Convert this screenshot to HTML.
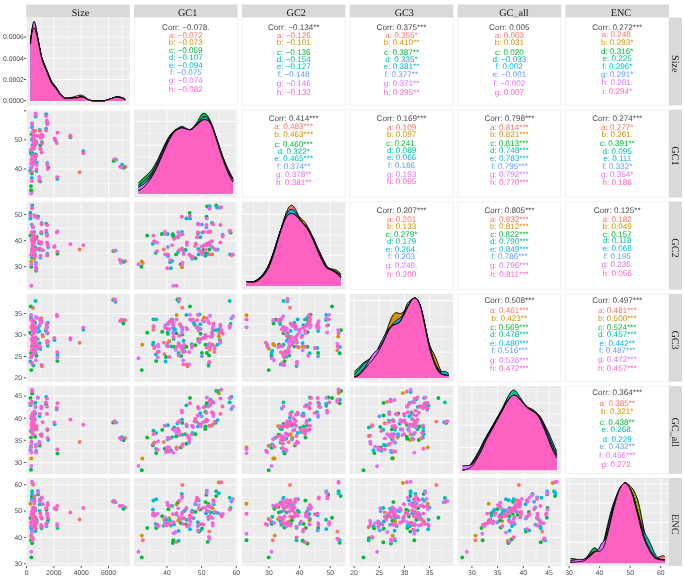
<!DOCTYPE html><html><head><meta charset="utf-8"><title>ggpairs</title><style>html,body{margin:0;padding:0;background:#fff}svg{display:block;will-change:transform}
text{font-family:"Liberation Sans",sans-serif;text-rendering:geometricPrecision}
.st{font-family:"Liberation Serif",serif;font-size:10.2px;fill:#1a1a1a}
.ax{font-size:6.8px;fill:#4d4d4d}
.ct{font-size:8.1px}</style></head><body><svg width="685" height="577" viewBox="0 0 685 577">
<rect width="685" height="577" fill="#fff"/>
<defs>
<clipPath id="cp00"><rect x="26.15" y="17.50" width="103.65" height="87.9"/></clipPath>
<clipPath id="cp01"><rect x="134.00" y="17.50" width="103.65" height="87.9"/></clipPath>
<clipPath id="cp02"><rect x="241.85" y="17.50" width="103.65" height="87.9"/></clipPath>
<clipPath id="cp03"><rect x="349.70" y="17.50" width="103.65" height="87.9"/></clipPath>
<clipPath id="cp04"><rect x="457.55" y="17.50" width="103.65" height="87.9"/></clipPath>
<clipPath id="cp05"><rect x="565.40" y="17.50" width="103.65" height="87.9"/></clipPath>
<clipPath id="cp10"><rect x="26.15" y="109.60" width="103.65" height="87.9"/></clipPath>
<clipPath id="cp11"><rect x="134.00" y="109.60" width="103.65" height="87.9"/></clipPath>
<clipPath id="cp12"><rect x="241.85" y="109.60" width="103.65" height="87.9"/></clipPath>
<clipPath id="cp13"><rect x="349.70" y="109.60" width="103.65" height="87.9"/></clipPath>
<clipPath id="cp14"><rect x="457.55" y="109.60" width="103.65" height="87.9"/></clipPath>
<clipPath id="cp15"><rect x="565.40" y="109.60" width="103.65" height="87.9"/></clipPath>
<clipPath id="cp20"><rect x="26.15" y="201.70" width="103.65" height="87.9"/></clipPath>
<clipPath id="cp21"><rect x="134.00" y="201.70" width="103.65" height="87.9"/></clipPath>
<clipPath id="cp22"><rect x="241.85" y="201.70" width="103.65" height="87.9"/></clipPath>
<clipPath id="cp23"><rect x="349.70" y="201.70" width="103.65" height="87.9"/></clipPath>
<clipPath id="cp24"><rect x="457.55" y="201.70" width="103.65" height="87.9"/></clipPath>
<clipPath id="cp25"><rect x="565.40" y="201.70" width="103.65" height="87.9"/></clipPath>
<clipPath id="cp30"><rect x="26.15" y="293.80" width="103.65" height="87.9"/></clipPath>
<clipPath id="cp31"><rect x="134.00" y="293.80" width="103.65" height="87.9"/></clipPath>
<clipPath id="cp32"><rect x="241.85" y="293.80" width="103.65" height="87.9"/></clipPath>
<clipPath id="cp33"><rect x="349.70" y="293.80" width="103.65" height="87.9"/></clipPath>
<clipPath id="cp34"><rect x="457.55" y="293.80" width="103.65" height="87.9"/></clipPath>
<clipPath id="cp35"><rect x="565.40" y="293.80" width="103.65" height="87.9"/></clipPath>
<clipPath id="cp40"><rect x="26.15" y="385.90" width="103.65" height="87.9"/></clipPath>
<clipPath id="cp41"><rect x="134.00" y="385.90" width="103.65" height="87.9"/></clipPath>
<clipPath id="cp42"><rect x="241.85" y="385.90" width="103.65" height="87.9"/></clipPath>
<clipPath id="cp43"><rect x="349.70" y="385.90" width="103.65" height="87.9"/></clipPath>
<clipPath id="cp44"><rect x="457.55" y="385.90" width="103.65" height="87.9"/></clipPath>
<clipPath id="cp45"><rect x="565.40" y="385.90" width="103.65" height="87.9"/></clipPath>
<clipPath id="cp50"><rect x="26.15" y="478.00" width="103.65" height="87.9"/></clipPath>
<clipPath id="cp51"><rect x="134.00" y="478.00" width="103.65" height="87.9"/></clipPath>
<clipPath id="cp52"><rect x="241.85" y="478.00" width="103.65" height="87.9"/></clipPath>
<clipPath id="cp53"><rect x="349.70" y="478.00" width="103.65" height="87.9"/></clipPath>
<clipPath id="cp54"><rect x="457.55" y="478.00" width="103.65" height="87.9"/></clipPath>
<clipPath id="cp55"><rect x="565.40" y="478.00" width="103.65" height="87.9"/></clipPath>
</defs>
<rect x="26.15" y="4.5" width="103.65" height="13.00" fill="#d9d9d9"/>
<text x="80.47" y="16.2" text-anchor="middle" class="st">Size</text>
<rect x="134.00" y="4.5" width="103.65" height="13.00" fill="#d9d9d9"/>
<text x="187.62" y="16.2" text-anchor="middle" class="st">GC1</text>
<rect x="241.85" y="4.5" width="103.65" height="13.00" fill="#d9d9d9"/>
<text x="296.18" y="16.2" text-anchor="middle" class="st">GC2</text>
<rect x="349.70" y="4.5" width="103.65" height="13.00" fill="#d9d9d9"/>
<text x="404.32" y="16.2" text-anchor="middle" class="st">GC3</text>
<rect x="457.55" y="4.5" width="103.65" height="13.00" fill="#d9d9d9"/>
<text x="513.88" y="16.2" text-anchor="middle" class="st">GC_all</text>
<rect x="565.40" y="4.5" width="103.65" height="13.00" fill="#d9d9d9"/>
<text x="620.93" y="16.2" text-anchor="middle" class="st">ENC</text>
<rect x="669.05" y="17.50" width="13.0" height="87.9" fill="#d9d9d9"/>
<text transform="translate(672.25,63.75) rotate(90)" text-anchor="middle" class="st">Size</text>
<rect x="669.05" y="109.60" width="13.0" height="87.9" fill="#d9d9d9"/>
<text transform="translate(672.25,155.85) rotate(90)" text-anchor="middle" class="st">GC1</text>
<rect x="669.05" y="201.70" width="13.0" height="87.9" fill="#d9d9d9"/>
<text transform="translate(672.25,247.95) rotate(90)" text-anchor="middle" class="st">GC2</text>
<rect x="669.05" y="293.80" width="13.0" height="87.9" fill="#d9d9d9"/>
<text transform="translate(672.25,340.05) rotate(90)" text-anchor="middle" class="st">GC3</text>
<rect x="669.05" y="385.90" width="13.0" height="87.9" fill="#d9d9d9"/>
<text transform="translate(672.25,432.15) rotate(90)" text-anchor="middle" class="st">GC_all</text>
<rect x="669.05" y="478.00" width="13.0" height="87.9" fill="#d9d9d9"/>
<text transform="translate(672.25,524.25) rotate(90)" text-anchor="middle" class="st">ENC</text>
<rect x="26.15" y="17.50" width="103.65" height="87.9" fill="#ebebeb"/>
<path d="M40.25 17.50V105.40M67.55 17.50V105.40M94.85 17.50V105.40M122.15 17.50V105.40M26.15 26.75H129.80M26.15 47.68H129.80M26.15 68.77H129.80M26.15 90.03H129.80" stroke="#f8f8f8" stroke-width="0.7" fill="none"/>
<path d="M26.60 17.50V105.40M53.90 17.50V105.40M81.20 17.50V105.40M108.50 17.50V105.40M26.15 37.22H129.80M26.15 58.15H129.80M26.15 79.40H129.80M26.15 100.66H129.80" stroke="#fcfcfc" stroke-width="1.05" fill="none"/>
<rect x="134.30" y="17.80" width="103.05" height="87.30" fill="#fff" stroke="#ececec" stroke-width="0.7"/>
<rect x="242.15" y="17.80" width="103.05" height="87.30" fill="#fff" stroke="#ececec" stroke-width="0.7"/>
<rect x="350.00" y="17.80" width="103.05" height="87.30" fill="#fff" stroke="#ececec" stroke-width="0.7"/>
<rect x="457.85" y="17.80" width="103.05" height="87.30" fill="#fff" stroke="#ececec" stroke-width="0.7"/>
<rect x="565.70" y="17.80" width="103.05" height="87.30" fill="#fff" stroke="#ececec" stroke-width="0.7"/>
<rect x="26.15" y="109.60" width="103.65" height="87.9" fill="#ebebeb"/>
<path d="M40.25 109.60V197.50M67.55 109.60V197.50M94.85 109.60V197.50M122.15 109.60V197.50M26.15 183.55H129.80M26.15 154.45H129.80M26.15 125.35H129.80" stroke="#f8f8f8" stroke-width="0.7" fill="none"/>
<path d="M26.60 109.60V197.50M53.90 109.60V197.50M81.20 109.60V197.50M108.50 109.60V197.50M26.15 169.00H129.80M26.15 139.90H129.80M26.15 110.80H129.80" stroke="#fcfcfc" stroke-width="1.05" fill="none"/>
<rect x="134.00" y="109.60" width="103.65" height="87.9" fill="#ebebeb"/>
<path d="M149.68 109.60V197.50M184.32 109.60V197.50M218.97 109.60V197.50M134.00 133.31H237.65M134.00 157.01H237.65M134.00 180.72H237.65" stroke="#f8f8f8" stroke-width="0.7" fill="none"/>
<path d="M167.00 109.60V197.50M201.65 109.60V197.50M236.30 109.60V197.50M134.00 121.53H237.65M134.00 145.24H237.65M134.00 168.95H237.65M134.00 192.66H237.65" stroke="#fcfcfc" stroke-width="1.05" fill="none"/>
<rect x="242.15" y="109.90" width="103.05" height="87.30" fill="#fff" stroke="#ececec" stroke-width="0.7"/>
<rect x="350.00" y="109.90" width="103.05" height="87.30" fill="#fff" stroke="#ececec" stroke-width="0.7"/>
<rect x="457.85" y="109.90" width="103.05" height="87.30" fill="#fff" stroke="#ececec" stroke-width="0.7"/>
<rect x="565.70" y="109.90" width="103.05" height="87.30" fill="#fff" stroke="#ececec" stroke-width="0.7"/>
<rect x="26.15" y="201.70" width="103.65" height="87.9" fill="#ebebeb"/>
<path d="M40.25 201.70V289.60M67.55 201.70V289.60M94.85 201.70V289.60M122.15 201.70V289.60M26.15 279.73H129.80M26.15 253.67H129.80M26.15 227.62H129.80" stroke="#f8f8f8" stroke-width="0.7" fill="none"/>
<path d="M26.60 201.70V289.60M53.90 201.70V289.60M81.20 201.70V289.60M108.50 201.70V289.60M26.15 266.70H129.80M26.15 240.65H129.80M26.15 214.60H129.80" stroke="#fcfcfc" stroke-width="1.05" fill="none"/>
<rect x="134.00" y="201.70" width="103.65" height="87.9" fill="#ebebeb"/>
<path d="M149.68 201.70V289.60M184.32 201.70V289.60M218.97 201.70V289.60M134.00 279.73H237.65M134.00 253.67H237.65M134.00 227.62H237.65" stroke="#f8f8f8" stroke-width="0.7" fill="none"/>
<path d="M167.00 201.70V289.60M201.65 201.70V289.60M236.30 201.70V289.60M134.00 266.70H237.65M134.00 240.65H237.65M134.00 214.60H237.65" stroke="#fcfcfc" stroke-width="1.05" fill="none"/>
<rect x="241.85" y="201.70" width="103.65" height="87.9" fill="#ebebeb"/>
<path d="M253.57 201.70V289.60M284.22 201.70V289.60M314.87 201.70V289.60M241.85 224.98H345.50M241.85 245.42H345.50M241.85 265.04H345.50M241.85 285.48H345.50" stroke="#f8f8f8" stroke-width="0.7" fill="none"/>
<path d="M268.90 201.70V289.60M299.55 201.70V289.60M330.20 201.70V289.60M241.85 214.35H345.50M241.85 234.79H345.50M241.85 255.23H345.50M241.85 275.67H345.50" stroke="#fcfcfc" stroke-width="1.05" fill="none"/>
<rect x="350.00" y="202.00" width="103.05" height="87.30" fill="#fff" stroke="#ececec" stroke-width="0.7"/>
<rect x="457.85" y="202.00" width="103.05" height="87.30" fill="#fff" stroke="#ececec" stroke-width="0.7"/>
<rect x="565.70" y="202.00" width="103.05" height="87.30" fill="#fff" stroke="#ececec" stroke-width="0.7"/>
<rect x="26.15" y="293.80" width="103.65" height="87.9" fill="#ebebeb"/>
<path d="M40.25 293.80V381.70M67.55 293.80V381.70M94.85 293.80V381.70M122.15 293.80V381.70M26.15 367.17H129.80M26.15 345.72H129.80M26.15 324.27H129.80M26.15 302.82H129.80" stroke="#f8f8f8" stroke-width="0.7" fill="none"/>
<path d="M26.60 293.80V381.70M53.90 293.80V381.70M81.20 293.80V381.70M108.50 293.80V381.70M26.15 377.90H129.80M26.15 356.45H129.80M26.15 335.00H129.80M26.15 313.55H129.80" stroke="#fcfcfc" stroke-width="1.05" fill="none"/>
<rect x="134.00" y="293.80" width="103.65" height="87.9" fill="#ebebeb"/>
<path d="M149.68 293.80V381.70M184.32 293.80V381.70M218.97 293.80V381.70M134.00 367.17H237.65M134.00 345.72H237.65M134.00 324.27H237.65M134.00 302.82H237.65" stroke="#f8f8f8" stroke-width="0.7" fill="none"/>
<path d="M167.00 293.80V381.70M201.65 293.80V381.70M236.30 293.80V381.70M134.00 377.90H237.65M134.00 356.45H237.65M134.00 335.00H237.65M134.00 313.55H237.65" stroke="#fcfcfc" stroke-width="1.05" fill="none"/>
<rect x="241.85" y="293.80" width="103.65" height="87.9" fill="#ebebeb"/>
<path d="M253.57 293.80V381.70M284.22 293.80V381.70M314.87 293.80V381.70M241.85 367.17H345.50M241.85 345.72H345.50M241.85 324.27H345.50M241.85 302.82H345.50" stroke="#f8f8f8" stroke-width="0.7" fill="none"/>
<path d="M268.90 293.80V381.70M299.55 293.80V381.70M330.20 293.80V381.70M241.85 377.90H345.50M241.85 356.45H345.50M241.85 335.00H345.50M241.85 313.55H345.50" stroke="#fcfcfc" stroke-width="1.05" fill="none"/>
<rect x="349.70" y="293.80" width="103.65" height="87.9" fill="#ebebeb"/>
<path d="M366.68 293.80V381.70M391.85 293.80V381.70M417.01 293.80V381.70M442.18 293.80V381.70M349.70 313.71H453.35M349.70 339.05H453.35M349.70 365.21H453.35" stroke="#f8f8f8" stroke-width="0.7" fill="none"/>
<path d="M354.10 293.80V381.70M379.27 293.80V381.70M404.43 293.80V381.70M429.60 293.80V381.70M349.70 300.63H453.35M349.70 326.79H453.35M349.70 352.13H453.35M349.70 377.48H453.35" stroke="#fcfcfc" stroke-width="1.05" fill="none"/>
<rect x="457.85" y="294.10" width="103.05" height="87.30" fill="#fff" stroke="#ececec" stroke-width="0.7"/>
<rect x="565.70" y="294.10" width="103.05" height="87.30" fill="#fff" stroke="#ececec" stroke-width="0.7"/>
<rect x="26.15" y="385.90" width="103.65" height="87.9" fill="#ebebeb"/>
<path d="M40.25 385.90V473.80M67.55 385.90V473.80M94.85 385.90V473.80M122.15 385.90V473.80M26.15 451.35H129.80M26.15 429.25H129.80M26.15 407.15H129.80" stroke="#f8f8f8" stroke-width="0.7" fill="none"/>
<path d="M26.60 385.90V473.80M53.90 385.90V473.80M81.20 385.90V473.80M108.50 385.90V473.80M26.15 462.40H129.80M26.15 440.30H129.80M26.15 418.20H129.80M26.15 396.10H129.80" stroke="#fcfcfc" stroke-width="1.05" fill="none"/>
<rect x="134.00" y="385.90" width="103.65" height="87.9" fill="#ebebeb"/>
<path d="M149.68 385.90V473.80M184.32 385.90V473.80M218.97 385.90V473.80M134.00 451.35H237.65M134.00 429.25H237.65M134.00 407.15H237.65" stroke="#f8f8f8" stroke-width="0.7" fill="none"/>
<path d="M167.00 385.90V473.80M201.65 385.90V473.80M236.30 385.90V473.80M134.00 462.40H237.65M134.00 440.30H237.65M134.00 418.20H237.65M134.00 396.10H237.65" stroke="#fcfcfc" stroke-width="1.05" fill="none"/>
<rect x="241.85" y="385.90" width="103.65" height="87.9" fill="#ebebeb"/>
<path d="M253.57 385.90V473.80M284.22 385.90V473.80M314.87 385.90V473.80M241.85 451.35H345.50M241.85 429.25H345.50M241.85 407.15H345.50" stroke="#f8f8f8" stroke-width="0.7" fill="none"/>
<path d="M268.90 385.90V473.80M299.55 385.90V473.80M330.20 385.90V473.80M241.85 462.40H345.50M241.85 440.30H345.50M241.85 418.20H345.50M241.85 396.10H345.50" stroke="#fcfcfc" stroke-width="1.05" fill="none"/>
<rect x="349.70" y="385.90" width="103.65" height="87.9" fill="#ebebeb"/>
<path d="M366.68 385.90V473.80M391.85 385.90V473.80M417.01 385.90V473.80M442.18 385.90V473.80M349.70 451.35H453.35M349.70 429.25H453.35M349.70 407.15H453.35" stroke="#f8f8f8" stroke-width="0.7" fill="none"/>
<path d="M354.10 385.90V473.80M379.27 385.90V473.80M404.43 385.90V473.80M429.60 385.90V473.80M349.70 462.40H453.35M349.70 440.30H453.35M349.70 418.20H453.35M349.70 396.10H453.35" stroke="#fcfcfc" stroke-width="1.05" fill="none"/>
<rect x="457.55" y="385.90" width="103.65" height="87.9" fill="#ebebeb"/>
<path d="M459.05 385.90V473.80M484.75 385.90V473.80M510.45 385.90V473.80M536.15 385.90V473.80M457.55 391.81H561.20M457.55 413.88H561.20M457.55 436.45H561.20M457.55 458.85H561.20" stroke="#f8f8f8" stroke-width="0.7" fill="none"/>
<path d="M471.90 385.90V473.80M497.60 385.90V473.80M523.30 385.90V473.80M549.00 385.90V473.80M457.55 402.93H561.20M457.55 425.33H561.20M457.55 447.40H561.20M457.55 469.97H561.20" stroke="#fcfcfc" stroke-width="1.05" fill="none"/>
<rect x="565.70" y="386.20" width="103.05" height="87.30" fill="#fff" stroke="#ececec" stroke-width="0.7"/>
<rect x="26.15" y="478.00" width="103.65" height="87.9" fill="#ebebeb"/>
<path d="M40.25 478.00V565.90M67.55 478.00V565.90M94.85 478.00V565.90M122.15 478.00V565.90M26.15 550.54H129.80M26.15 524.21H129.80M26.15 497.88H129.80" stroke="#f8f8f8" stroke-width="0.7" fill="none"/>
<path d="M26.60 478.00V565.90M53.90 478.00V565.90M81.20 478.00V565.90M108.50 478.00V565.90M26.15 563.70H129.80M26.15 537.37H129.80M26.15 511.04H129.80M26.15 484.71H129.80" stroke="#fcfcfc" stroke-width="1.05" fill="none"/>
<rect x="134.00" y="478.00" width="103.65" height="87.9" fill="#ebebeb"/>
<path d="M149.68 478.00V565.90M184.32 478.00V565.90M218.97 478.00V565.90M134.00 550.54H237.65M134.00 524.21H237.65M134.00 497.88H237.65" stroke="#f8f8f8" stroke-width="0.7" fill="none"/>
<path d="M167.00 478.00V565.90M201.65 478.00V565.90M236.30 478.00V565.90M134.00 563.70H237.65M134.00 537.37H237.65M134.00 511.04H237.65M134.00 484.71H237.65" stroke="#fcfcfc" stroke-width="1.05" fill="none"/>
<rect x="241.85" y="478.00" width="103.65" height="87.9" fill="#ebebeb"/>
<path d="M253.57 478.00V565.90M284.22 478.00V565.90M314.87 478.00V565.90M241.85 550.54H345.50M241.85 524.21H345.50M241.85 497.88H345.50" stroke="#f8f8f8" stroke-width="0.7" fill="none"/>
<path d="M268.90 478.00V565.90M299.55 478.00V565.90M330.20 478.00V565.90M241.85 563.70H345.50M241.85 537.37H345.50M241.85 511.04H345.50M241.85 484.71H345.50" stroke="#fcfcfc" stroke-width="1.05" fill="none"/>
<rect x="349.70" y="478.00" width="103.65" height="87.9" fill="#ebebeb"/>
<path d="M366.68 478.00V565.90M391.85 478.00V565.90M417.01 478.00V565.90M442.18 478.00V565.90M349.70 550.54H453.35M349.70 524.21H453.35M349.70 497.88H453.35" stroke="#f8f8f8" stroke-width="0.7" fill="none"/>
<path d="M354.10 478.00V565.90M379.27 478.00V565.90M404.43 478.00V565.90M429.60 478.00V565.90M349.70 563.70H453.35M349.70 537.37H453.35M349.70 511.04H453.35M349.70 484.71H453.35" stroke="#fcfcfc" stroke-width="1.05" fill="none"/>
<rect x="457.55" y="478.00" width="103.65" height="87.9" fill="#ebebeb"/>
<path d="M459.05 478.00V565.90M484.75 478.00V565.90M510.45 478.00V565.90M536.15 478.00V565.90M457.55 550.54H561.20M457.55 524.21H561.20M457.55 497.88H561.20" stroke="#f8f8f8" stroke-width="0.7" fill="none"/>
<path d="M471.90 478.00V565.90M497.60 478.00V565.90M523.30 478.00V565.90M549.00 478.00V565.90M457.55 563.70H561.20M457.55 537.37H561.20M457.55 511.04H561.20M457.55 484.71H561.20" stroke="#fcfcfc" stroke-width="1.05" fill="none"/>
<rect x="565.40" y="478.00" width="103.65" height="87.9" fill="#ebebeb"/>
<path d="M584.37 478.00V565.90M614.89 478.00V565.90M645.42 478.00V565.90M565.40 493.29H669.05M565.40 512.75H669.05M565.40 532.37H669.05M565.40 552.16H669.05" stroke="#f8f8f8" stroke-width="0.7" fill="none"/>
<path d="M569.10 478.00V565.90M599.63 478.00V565.90M630.16 478.00V565.90M660.69 478.00V565.90M565.40 483.81H669.05M565.40 502.94H669.05M565.40 522.56H669.05M565.40 542.35H669.05M565.40 562.29H669.05" stroke="#fcfcfc" stroke-width="1.05" fill="none"/>
<text x="26.60" y="574.9" text-anchor="middle" class="ax">0</text>
<text x="53.90" y="574.9" text-anchor="middle" class="ax">2000</text>
<text x="81.20" y="574.9" text-anchor="middle" class="ax">4000</text>
<text x="108.50" y="574.9" text-anchor="middle" class="ax">6000</text>
<text x="167.00" y="574.9" text-anchor="middle" class="ax">40</text>
<text x="201.65" y="574.9" text-anchor="middle" class="ax">50</text>
<text x="236.30" y="574.9" text-anchor="middle" class="ax">60</text>
<text x="268.90" y="574.9" text-anchor="middle" class="ax">30</text>
<text x="299.55" y="574.9" text-anchor="middle" class="ax">40</text>
<text x="330.20" y="574.9" text-anchor="middle" class="ax">50</text>
<text x="354.10" y="574.9" text-anchor="middle" class="ax">20</text>
<text x="379.27" y="574.9" text-anchor="middle" class="ax">25</text>
<text x="404.43" y="574.9" text-anchor="middle" class="ax">30</text>
<text x="429.60" y="574.9" text-anchor="middle" class="ax">35</text>
<text x="471.90" y="574.9" text-anchor="middle" class="ax">30</text>
<text x="497.60" y="574.9" text-anchor="middle" class="ax">35</text>
<text x="523.30" y="574.9" text-anchor="middle" class="ax">40</text>
<text x="549.00" y="574.9" text-anchor="middle" class="ax">45</text>
<text x="569.10" y="574.9" text-anchor="middle" class="ax">30</text>
<text x="599.63" y="574.9" text-anchor="middle" class="ax">40</text>
<text x="630.16" y="574.9" text-anchor="middle" class="ax">50</text>
<text x="660.69" y="574.9" text-anchor="middle" class="ax">60</text>
<text x="23.9" y="103.05" text-anchor="end" class="ax">0.0000</text>
<text x="23.9" y="81.85" text-anchor="end" class="ax">0.0002</text>
<text x="23.9" y="60.65" text-anchor="end" class="ax">0.0004</text>
<text x="23.9" y="39.45" text-anchor="end" class="ax">0.0006</text>
<text x="22.1" y="171.35" text-anchor="end" class="ax">40</text>
<text x="22.1" y="142.25" text-anchor="end" class="ax">50</text>
<text x="22.1" y="269.05" text-anchor="end" class="ax">30</text>
<text x="22.1" y="243.00" text-anchor="end" class="ax">40</text>
<text x="22.1" y="216.95" text-anchor="end" class="ax">50</text>
<text x="22.1" y="380.25" text-anchor="end" class="ax">20</text>
<text x="22.1" y="358.80" text-anchor="end" class="ax">25</text>
<text x="22.1" y="337.35" text-anchor="end" class="ax">30</text>
<text x="22.1" y="315.90" text-anchor="end" class="ax">35</text>
<text x="22.1" y="464.75" text-anchor="end" class="ax">30</text>
<text x="22.1" y="442.65" text-anchor="end" class="ax">35</text>
<text x="22.1" y="420.55" text-anchor="end" class="ax">40</text>
<text x="22.1" y="398.45" text-anchor="end" class="ax">45</text>
<text x="22.1" y="566.05" text-anchor="end" class="ax">30</text>
<text x="22.1" y="539.72" text-anchor="end" class="ax">40</text>
<text x="22.1" y="513.39" text-anchor="end" class="ax">50</text>
<text x="22.1" y="487.06" text-anchor="end" class="ax">60</text>
<path d="M26.60 565.90v2.2M53.90 565.90v2.2M81.20 565.90v2.2M108.50 565.90v2.2M167.00 565.90v2.2M201.65 565.90v2.2M236.30 565.90v2.2M268.90 565.90v2.2M299.55 565.90v2.2M330.20 565.90v2.2M354.10 565.90v2.2M379.27 565.90v2.2M404.43 565.90v2.2M429.60 565.90v2.2M471.90 565.90v2.2M497.60 565.90v2.2M523.30 565.90v2.2M549.00 565.90v2.2M569.10 565.90v2.2M599.63 565.90v2.2M630.16 565.90v2.2M660.69 565.90v2.2M26.15 100.70h-2.2M26.15 79.50h-2.2M26.15 58.30h-2.2M26.15 37.10h-2.2M26.15 169.00h-2.2M26.15 139.90h-2.2M26.15 110.80h-2.2M26.15 266.70h-2.2M26.15 240.65h-2.2M26.15 214.60h-2.2M26.15 377.90h-2.2M26.15 356.45h-2.2M26.15 335.00h-2.2M26.15 313.55h-2.2M26.15 462.40h-2.2M26.15 440.30h-2.2M26.15 418.20h-2.2M26.15 396.10h-2.2M26.15 563.70h-2.2M26.15 537.37h-2.2M26.15 511.04h-2.2M26.15 484.71h-2.2" stroke="#444" stroke-width="0.9" fill="none"/>
<g clip-path="url(#cp00)">
<path d="M30.50 100.66L30.5 43.6L31.3 36.0L32.1 30.8L32.9 27.5L33.7 25.9L34.5 25.9L35.3 27.3L36.1 30.6L36.9 34.2L37.7 38.1L38.5 42.1L39.3 46.2L40.1 50.2L40.9 54.1L41.7 57.7L42.5 60.4L43.3 62.3L44.0 64.2L44.8 66.1L45.6 68.0L46.4 69.9L47.2 71.9L48.0 73.9L48.8 76.0L49.6 78.0L50.4 80.0L51.2 81.7L52.0 83.2L52.8 84.4L53.6 85.4L54.4 86.4L55.2 87.3L56.0 88.3L56.8 89.5L57.6 90.8L58.4 92.1L59.2 93.3L60.0 94.4L60.8 95.3L61.6 96.1L62.4 96.8L63.2 97.5L64.0 98.1L64.8 98.5L65.6 98.5L66.4 98.4L67.2 98.3L68.0 98.2L68.8 98.1L69.6 97.9L70.3 97.8L71.1 97.6L71.9 97.3L72.7 97.1L73.5 96.9L74.3 96.6L75.1 96.4L75.9 96.2L76.7 96.0L77.5 95.7L78.3 95.5L79.1 95.2L79.9 95.1L80.7 95.1L81.5 95.2L82.3 95.4L83.1 95.8L83.9 96.2L84.7 96.7L85.5 97.3L86.3 98.0L87.1 98.6L87.9 99.2L88.7 99.6L89.5 99.9L90.3 100.2L91.1 100.4L91.9 100.5L92.7 100.6L93.5 100.7L94.3 100.7L95.1 100.7L95.8 100.7L96.6 100.7L97.4 100.7L98.2 100.7L99.0 100.7L99.8 100.7L100.6 100.7L101.4 100.7L102.2 100.7L103.0 100.7L103.8 100.7L104.6 100.7L105.4 100.5L106.2 100.3L107.0 100.1L107.8 99.8L108.6 99.6L109.4 99.3L110.2 99.1L111.0 98.8L111.8 98.5L112.6 98.2L113.4 97.9L114.2 97.7L115.0 97.5L115.8 97.3L116.6 97.2L117.4 97.2L118.2 97.3L119.0 97.4L119.8 97.6L120.6 97.9L121.4 98.1L122.1 98.4L122.9 98.7L123.7 99.0L124.5 99.3L125.3 99.7L125.34 100.66Z" fill="#F8766D"/><path d="M30.5 43.58L31.3 36.02L32.1 30.76L32.9 27.45L33.7 25.91L34.5 25.93L35.3 27.34L36.1 30.57L36.9 34.24L37.7 38.08L38.5 42.06L39.3 46.16L40.1 50.19L40.9 54.06L41.7 57.67L42.5 60.37L43.3 62.35L44.0 64.24L44.8 66.09L45.6 67.96L46.4 69.89L47.2 71.91L48.0 73.95L48.8 75.99L49.6 78.02L50.4 79.97L51.2 81.69L52.0 83.17L52.8 84.39L53.6 85.42L54.4 86.36L55.2 87.30L56.0 88.31L56.8 89.48L57.6 90.76L58.4 92.07L59.2 93.30L60.0 94.38L60.8 95.32L61.6 96.13L62.4 96.84L63.2 97.49L64.0 98.08L64.8 98.47L65.6 98.52L66.4 98.44L67.2 98.35L68.0 98.23L68.8 98.09L69.6 97.94L70.3 97.75L71.1 97.55L71.9 97.33L72.7 97.11L73.5 96.87L74.3 96.63L75.1 96.41L75.9 96.20L76.7 95.98L77.5 95.72L78.3 95.47L79.1 95.25L79.9 95.10L80.7 95.06L81.5 95.15L82.3 95.41L83.1 95.77L83.9 96.21L84.7 96.71L85.5 97.31L86.3 97.96L87.1 98.59L87.9 99.16L88.7 99.61L89.5 99.92L90.3 100.16L91.1 100.35L91.9 100.51L92.7 100.63L93.5 100.66L94.3 100.66L95.1 100.66L95.8 100.66L96.6 100.66L97.4 100.66L98.2 100.66L99.0 100.66L99.8 100.66L100.6 100.66L101.4 100.66L102.2 100.66L103.0 100.66L103.8 100.66L104.6 100.66L105.4 100.49L106.2 100.28L107.0 100.06L107.8 99.82L108.6 99.57L109.4 99.32L110.2 99.06L111.0 98.79L111.8 98.50L112.6 98.22L113.4 97.94L114.2 97.69L115.0 97.48L115.8 97.33L116.6 97.24L117.4 97.22L118.2 97.29L119.0 97.42L119.8 97.62L120.6 97.85L121.4 98.10L122.1 98.38L122.9 98.68L123.7 99.00L124.5 99.33L125.3 99.68" fill="none" stroke="#000" stroke-width="0.95" stroke-linejoin="round"/>
<path d="M30.50 100.66L30.5 43.8L31.3 36.5L32.1 31.5L32.9 28.5L33.7 27.2L34.5 27.2L35.3 28.5L36.1 31.4L36.9 34.7L37.7 38.2L38.5 41.9L39.3 45.8L40.1 49.8L40.9 53.6L41.7 57.1L42.5 59.8L43.3 61.8L44.0 63.6L44.8 65.5L45.6 67.3L46.4 69.2L47.2 71.2L48.0 73.2L48.8 75.3L49.6 77.3L50.4 79.2L51.2 80.9L52.0 82.4L52.8 83.6L53.6 84.7L54.4 85.6L55.2 86.6L56.0 87.6L56.8 88.8L57.6 90.2L58.4 91.5L59.2 92.8L60.0 93.9L60.8 94.9L61.6 95.7L62.4 96.5L63.2 97.2L64.0 97.8L64.8 98.3L65.6 98.4L66.4 98.4L67.2 98.4L68.0 98.4L68.8 98.4L69.6 98.3L70.3 98.3L71.1 98.3L71.9 98.2L72.7 98.2L73.5 98.2L74.3 98.1L75.1 98.1L75.9 98.0L76.7 97.9L77.5 97.8L78.3 97.6L79.1 97.4L79.9 97.2L80.7 97.1L81.5 97.1L82.3 97.2L83.1 97.4L83.9 97.6L84.7 97.9L85.5 98.4L86.3 98.8L87.1 99.3L87.9 99.7L88.7 100.1L89.5 100.3L90.3 100.4L91.1 100.5L91.9 100.6L92.7 100.7L93.5 100.7L94.3 100.7L95.1 100.7L95.8 100.7L96.6 100.7L97.4 100.7L98.2 100.7L99.0 100.7L99.8 100.7L100.6 100.7L101.4 100.7L102.2 100.7L103.0 100.7L103.8 100.7L104.6 100.7L105.4 100.5L106.2 100.3L107.0 100.1L107.8 99.8L108.6 99.6L109.4 99.3L110.2 99.1L111.0 98.8L111.8 98.5L112.6 98.2L113.4 97.9L114.2 97.7L115.0 97.5L115.8 97.3L116.6 97.2L117.4 97.2L118.2 97.3L119.0 97.4L119.8 97.6L120.6 97.9L121.4 98.1L122.1 98.4L122.9 98.7L123.7 99.0L124.5 99.3L125.3 99.7L125.34 100.66Z" fill="#D39200"/><path d="M30.5 43.77L31.3 36.48L32.1 31.53L32.9 28.52L33.7 27.18L34.5 27.22L35.3 28.46L36.1 31.38L36.9 34.69L37.7 38.20L38.5 41.92L39.3 45.84L40.1 49.77L40.9 53.57L41.7 57.14L42.5 59.81L43.3 61.77L44.0 63.64L44.8 65.46L45.6 67.31L46.4 69.22L47.2 71.21L48.0 73.23L48.8 75.26L49.6 77.28L50.4 79.21L51.2 80.94L52.0 82.41L52.8 83.64L53.6 84.68L54.4 85.64L55.2 86.60L56.0 87.64L56.8 88.84L57.6 90.16L58.4 91.50L59.2 92.77L60.0 93.90L60.8 94.88L61.6 95.73L62.4 96.50L63.2 97.20L64.0 97.84L64.8 98.30L65.6 98.41L66.4 98.41L67.2 98.41L68.0 98.39L68.8 98.37L69.6 98.35L70.3 98.32L71.1 98.29L71.9 98.25L72.7 98.21L73.5 98.17L74.3 98.12L75.1 98.07L75.9 98.02L76.7 97.93L77.5 97.77L78.3 97.57L79.1 97.37L79.9 97.19L80.7 97.07L81.5 97.06L82.3 97.17L83.1 97.37L83.9 97.63L84.7 97.95L85.5 98.36L86.3 98.84L87.1 99.31L87.9 99.74L88.7 100.07L89.5 100.26L90.3 100.42L91.1 100.55L91.9 100.65L92.7 100.66L93.5 100.66L94.3 100.66L95.1 100.66L95.8 100.66L96.6 100.66L97.4 100.66L98.2 100.66L99.0 100.66L99.8 100.66L100.6 100.66L101.4 100.66L102.2 100.66L103.0 100.66L103.8 100.66L104.6 100.66L105.4 100.49L106.2 100.28L107.0 100.06L107.8 99.82L108.6 99.57L109.4 99.32L110.2 99.06L111.0 98.79L111.8 98.50L112.6 98.22L113.4 97.94L114.2 97.69L115.0 97.48L115.8 97.33L116.6 97.24L117.4 97.22L118.2 97.29L119.0 97.42L119.8 97.62L120.6 97.85L121.4 98.10L122.1 98.38L122.9 98.68L123.7 99.00L124.5 99.33L125.3 99.68" fill="none" stroke="#000" stroke-width="0.95" stroke-linejoin="round"/>
<path d="M30.50 100.66L30.5 43.4L31.3 35.6L32.1 30.0L32.9 26.4L33.7 24.7L34.5 24.7L35.3 26.3L36.1 29.9L36.9 33.9L37.7 38.0L38.5 42.2L39.3 46.4L40.1 50.5L40.9 54.3L41.7 57.8L42.5 60.4L43.3 62.3L44.0 64.1L44.8 65.8L45.6 67.7L46.4 69.5L47.2 71.5L48.0 73.6L48.8 75.7L49.6 77.8L50.4 79.8L51.2 81.6L52.0 83.2L52.8 84.5L53.6 85.6L54.4 86.5L55.2 87.5L56.0 88.5L56.8 89.7L57.6 91.0L58.4 92.3L59.2 93.5L60.0 94.6L60.8 95.5L61.6 96.3L62.4 97.0L63.2 97.6L64.0 98.2L64.8 98.6L65.6 98.7L66.4 98.6L67.2 98.6L68.0 98.6L68.8 98.5L69.6 98.5L70.3 98.4L71.1 98.4L71.9 98.3L72.7 98.3L73.5 98.2L74.3 98.2L75.1 98.1L75.9 98.0L76.7 97.9L77.5 97.8L78.3 97.6L79.1 97.4L79.9 97.2L80.7 97.1L81.5 97.1L82.3 97.2L83.1 97.4L83.9 97.6L84.7 97.9L85.5 98.4L86.3 98.8L87.1 99.3L87.9 99.7L88.7 100.1L89.5 100.3L90.3 100.4L91.1 100.5L91.9 100.6L92.7 100.7L93.5 100.7L94.3 100.7L95.1 100.7L95.8 100.7L96.6 100.7L97.4 100.7L98.2 100.7L99.0 100.7L99.8 100.7L100.6 100.7L101.4 100.7L102.2 100.7L103.0 100.7L103.8 100.7L104.6 100.7L105.4 100.5L106.2 100.3L107.0 100.1L107.8 99.8L108.6 99.6L109.4 99.3L110.2 99.0L111.0 98.7L111.8 98.4L112.6 98.1L113.4 97.7L114.2 97.4L115.0 97.1L115.8 96.9L116.6 96.7L117.4 96.6L118.2 96.6L119.0 96.6L119.8 96.8L120.6 97.0L121.4 97.3L122.1 97.7L122.9 98.0L123.7 98.4L124.5 98.9L125.3 99.3L125.34 100.66Z" fill="#00BA38"/><path d="M30.5 43.39L31.3 35.59L32.1 30.03L32.9 26.44L33.7 24.73L34.5 24.74L35.3 26.33L36.1 29.87L36.9 33.88L37.7 38.03L38.5 42.22L39.3 46.42L40.1 50.47L40.9 54.29L41.7 57.82L42.5 60.41L43.3 62.29L44.0 64.08L44.8 65.85L45.6 67.65L46.4 69.55L47.2 71.55L48.0 73.61L48.8 75.70L49.6 77.79L50.4 79.80L51.2 81.61L52.0 83.17L52.8 84.46L53.6 85.55L54.4 86.54L55.2 87.51L56.0 88.54L56.8 89.72L57.6 90.99L58.4 92.28L59.2 93.50L60.0 94.56L60.8 95.48L61.6 96.28L62.4 96.98L63.2 97.62L64.0 98.21L64.8 98.61L65.6 98.68L66.4 98.65L67.2 98.60L68.0 98.56L68.8 98.51L69.6 98.46L70.3 98.41L71.1 98.36L71.9 98.31L72.7 98.26L73.5 98.21L74.3 98.15L75.1 98.10L75.9 98.04L76.7 97.95L77.5 97.78L78.3 97.58L79.1 97.37L79.9 97.19L80.7 97.07L81.5 97.06L82.3 97.17L83.1 97.37L83.9 97.63L84.7 97.95L85.5 98.36L86.3 98.84L87.1 99.31L87.9 99.74L88.7 100.07L89.5 100.26L90.3 100.42L91.1 100.55L91.9 100.65L92.7 100.66L93.5 100.66L94.3 100.66L95.1 100.66L95.8 100.66L96.6 100.66L97.4 100.66L98.2 100.66L99.0 100.66L99.8 100.66L100.6 100.66L101.4 100.66L102.2 100.66L103.0 100.66L103.8 100.66L104.6 100.66L105.4 100.49L106.2 100.28L107.0 100.06L107.8 99.81L108.6 99.56L109.4 99.29L110.2 99.01L111.0 98.72L111.8 98.40L112.6 98.07L113.4 97.73L114.2 97.40L115.0 97.11L115.8 96.86L116.6 96.68L117.4 96.57L118.2 96.56L119.0 96.63L119.8 96.80L120.6 97.04L121.4 97.32L122.1 97.66L122.9 98.04L123.7 98.45L124.5 98.88L125.3 99.32" fill="none" stroke="#000" stroke-width="0.95" stroke-linejoin="round"/>
<path d="M30.50 100.66L30.5 44.0L31.3 36.7L32.1 31.8L32.9 28.8L33.7 27.5L34.5 27.5L35.3 28.8L36.1 31.7L36.9 35.0L37.7 38.5L38.5 42.2L39.3 46.1L40.1 50.0L40.9 53.8L41.7 57.3L42.5 60.0L43.3 61.9L44.0 63.7L44.8 65.4L45.6 67.2L46.4 69.1L47.2 71.0L48.0 73.0L48.8 74.9L49.6 76.9L50.4 78.8L51.2 80.4L52.0 81.8L52.8 83.0L53.6 84.0L54.4 85.0L55.2 85.9L56.0 86.9L56.8 88.1L57.6 89.5L58.4 90.8L59.2 92.1L60.0 93.3L60.8 94.3L61.6 95.2L62.4 96.0L63.2 96.7L64.0 97.4L64.8 97.9L65.6 98.0L66.4 98.1L67.2 98.1L68.0 98.1L68.8 98.1L69.6 98.1L70.3 98.1L71.1 98.1L71.9 98.1L72.7 98.1L73.5 98.1L74.3 98.0L75.1 98.0L75.9 98.0L76.7 97.9L77.5 97.7L78.3 97.5L79.1 97.3L79.9 97.2L80.7 97.1L81.5 97.0L82.3 97.2L83.1 97.4L83.9 97.6L84.7 97.9L85.5 98.4L86.3 98.8L87.1 99.3L87.9 99.7L88.7 100.1L89.5 100.3L90.3 100.4L91.1 100.5L91.9 100.6L92.7 100.7L93.5 100.7L94.3 100.7L95.1 100.7L95.8 100.7L96.6 100.7L97.4 100.7L98.2 100.7L99.0 100.7L99.8 100.7L100.6 100.7L101.4 100.7L102.2 100.7L103.0 100.7L103.8 100.7L104.6 100.7L105.4 100.5L106.2 100.3L107.0 100.1L107.8 99.8L108.6 99.6L109.4 99.3L110.2 99.1L111.0 98.8L111.8 98.5L112.6 98.2L113.4 97.9L114.2 97.7L115.0 97.5L115.8 97.3L116.6 97.2L117.4 97.2L118.2 97.3L119.0 97.4L119.8 97.6L120.6 97.9L121.4 98.1L122.1 98.4L122.9 98.7L123.7 99.0L124.5 99.3L125.3 99.7L125.34 100.66Z" fill="#00C19F"/><path d="M30.5 43.99L31.3 36.71L32.1 31.79L32.9 28.79L33.7 27.46L34.5 27.52L35.3 28.77L36.1 31.70L36.9 35.00L37.7 38.51L38.5 42.22L39.3 46.12L40.1 50.03L40.9 53.80L41.7 57.33L42.5 59.96L43.3 61.87L44.0 63.68L44.8 65.45L45.6 67.23L46.4 69.07L47.2 71.00L48.0 72.96L48.8 74.92L49.6 76.88L50.4 78.75L51.2 80.42L52.0 81.85L52.8 83.03L53.6 84.04L54.4 84.97L55.2 85.91L56.0 86.94L56.8 88.14L57.6 89.46L58.4 90.81L59.2 92.10L60.0 93.25L60.8 94.26L61.6 95.15L62.4 95.95L63.2 96.69L64.0 97.37L64.8 97.86L65.6 98.02L66.4 98.06L67.2 98.09L68.0 98.11L68.8 98.13L69.6 98.13L70.3 98.13L71.1 98.12L71.9 98.11L72.7 98.09L73.5 98.07L74.3 98.04L75.1 98.01L75.9 97.97L76.7 97.89L77.5 97.73L78.3 97.54L79.1 97.34L79.9 97.17L80.7 97.06L81.5 97.04L82.3 97.16L83.1 97.36L83.9 97.62L84.7 97.94L85.5 98.36L86.3 98.83L87.1 99.31L87.9 99.74L88.7 100.07L89.5 100.26L90.3 100.42L91.1 100.55L91.9 100.65L92.7 100.66L93.5 100.66L94.3 100.66L95.1 100.66L95.8 100.66L96.6 100.66L97.4 100.66L98.2 100.66L99.0 100.66L99.8 100.66L100.6 100.66L101.4 100.66L102.2 100.66L103.0 100.66L103.8 100.66L104.6 100.66L105.4 100.49L106.2 100.28L107.0 100.06L107.8 99.82L108.6 99.57L109.4 99.32L110.2 99.06L111.0 98.79L111.8 98.50L112.6 98.22L113.4 97.94L114.2 97.69L115.0 97.48L115.8 97.33L116.6 97.24L117.4 97.22L118.2 97.29L119.0 97.42L119.8 97.62L120.6 97.85L121.4 98.10L122.1 98.38L122.9 98.68L123.7 99.00L124.5 99.33L125.3 99.68" fill="none" stroke="#000" stroke-width="0.95" stroke-linejoin="round"/>
<path d="M30.50 100.66L30.5 43.1L31.3 35.0L32.1 29.2L32.9 25.4L33.7 23.5L34.5 23.5L35.3 25.2L36.1 29.1L36.9 33.4L37.7 37.9L38.5 42.4L39.3 46.8L40.1 51.0L40.9 55.0L41.7 58.7L42.5 61.4L43.3 63.4L44.0 65.2L44.8 67.0L45.6 68.8L46.4 70.7L47.2 72.5L48.0 74.4L48.8 76.3L49.6 78.1L50.4 79.9L51.2 81.4L52.0 82.7L52.8 83.7L53.6 84.6L54.4 85.5L55.2 86.4L56.0 87.3L56.8 88.5L57.6 89.9L58.4 91.3L59.2 92.6L60.0 93.8L60.8 94.8L61.6 95.7L62.4 96.6L63.2 97.3L64.0 98.0L64.8 98.4L65.6 98.6L66.4 98.6L67.2 98.5L68.0 98.5L68.8 98.5L69.6 98.4L70.3 98.4L71.1 98.4L71.9 98.3L72.7 98.3L73.5 98.2L74.3 98.2L75.1 98.1L75.9 98.0L76.7 97.9L77.5 97.8L78.3 97.6L79.1 97.4L79.9 97.2L80.7 97.1L81.5 97.1L82.3 97.2L83.1 97.4L83.9 97.6L84.7 97.9L85.5 98.4L86.3 98.8L87.1 99.3L87.9 99.7L88.7 100.1L89.5 100.3L90.3 100.4L91.1 100.5L91.9 100.6L92.7 100.7L93.5 100.7L94.3 100.7L95.1 100.7L95.8 100.7L96.6 100.7L97.4 100.7L98.2 100.7L99.0 100.7L99.8 100.7L100.6 100.7L101.4 100.7L102.2 100.7L103.0 100.7L103.8 100.7L104.6 100.7L105.4 100.5L106.2 100.3L107.0 100.1L107.8 99.8L108.6 99.6L109.4 99.3L110.2 99.1L111.0 98.8L111.8 98.5L112.6 98.2L113.4 97.9L114.2 97.7L115.0 97.5L115.8 97.3L116.6 97.2L117.4 97.2L118.2 97.3L119.0 97.4L119.8 97.6L120.6 97.9L121.4 98.1L122.1 98.4L122.9 98.7L123.7 99.0L124.5 99.3L125.3 99.7L125.34 100.66Z" fill="#00B9E3"/><path d="M30.5 43.06L31.3 35.04L32.1 29.22L32.9 25.38L33.7 23.51L34.5 23.51L35.3 25.25L36.1 29.06L36.9 33.41L37.7 37.89L38.5 42.35L39.3 46.78L40.1 51.02L40.9 55.00L41.7 58.66L42.5 61.39L43.3 63.37L44.0 65.24L44.8 67.04L45.6 68.83L46.4 70.66L47.2 72.54L48.0 74.43L48.8 76.29L49.6 78.13L50.4 79.87L51.2 81.39L52.0 82.68L52.8 83.74L53.6 84.63L54.4 85.48L55.2 86.35L56.0 87.35L56.8 88.54L57.6 89.87L58.4 91.25L59.2 92.58L60.0 93.78L60.8 94.82L61.6 95.74L62.4 96.55L63.2 97.29L64.0 97.97L64.8 98.44L65.6 98.56L66.4 98.56L67.2 98.55L68.0 98.52L68.8 98.49L69.6 98.45L70.3 98.41L71.1 98.36L71.9 98.31L72.7 98.26L73.5 98.21L74.3 98.15L75.1 98.10L75.9 98.04L76.7 97.95L77.5 97.78L78.3 97.58L79.1 97.37L79.9 97.19L80.7 97.07L81.5 97.06L82.3 97.17L83.1 97.37L83.9 97.63L84.7 97.95L85.5 98.36L86.3 98.84L87.1 99.31L87.9 99.74L88.7 100.07L89.5 100.26L90.3 100.42L91.1 100.55L91.9 100.65L92.7 100.66L93.5 100.66L94.3 100.66L95.1 100.66L95.8 100.66L96.6 100.66L97.4 100.66L98.2 100.66L99.0 100.66L99.8 100.66L100.6 100.66L101.4 100.66L102.2 100.66L103.0 100.66L103.8 100.66L104.6 100.66L105.4 100.49L106.2 100.28L107.0 100.06L107.8 99.82L108.6 99.57L109.4 99.32L110.2 99.06L111.0 98.79L111.8 98.50L112.6 98.22L113.4 97.94L114.2 97.69L115.0 97.48L115.8 97.33L116.6 97.24L117.4 97.22L118.2 97.29L119.0 97.42L119.8 97.62L120.6 97.85L121.4 98.10L122.1 98.38L122.9 98.68L123.7 99.00L124.5 99.33L125.3 99.68" fill="none" stroke="#000" stroke-width="0.95" stroke-linejoin="round"/>
<path d="M30.50 100.66L30.5 43.9L31.3 36.5L32.1 31.6L32.9 28.5L33.7 27.2L34.5 27.2L35.3 28.4L36.1 31.3L36.9 34.5L37.7 38.0L38.5 41.7L39.3 45.7L40.1 49.6L40.9 53.5L41.7 57.1L42.5 59.8L43.3 61.9L44.0 63.9L44.8 65.8L45.6 67.7L46.4 69.8L47.2 71.9L48.0 74.0L48.8 76.1L49.6 78.2L50.4 80.2L51.2 82.0L52.0 83.5L52.8 84.7L53.6 85.8L54.4 86.7L55.2 87.6L56.0 88.6L56.8 89.8L57.6 91.0L58.4 92.3L59.2 93.5L60.0 94.6L60.8 95.5L61.6 96.3L62.4 97.0L63.2 97.6L64.0 98.2L64.8 98.6L65.6 98.7L66.4 98.6L67.2 98.6L68.0 98.6L68.8 98.5L69.6 98.5L70.3 98.4L71.1 98.4L71.9 98.3L72.7 98.3L73.5 98.2L74.3 98.2L75.1 98.1L75.9 98.0L76.7 97.9L77.5 97.8L78.3 97.6L79.1 97.4L79.9 97.2L80.7 97.1L81.5 97.1L82.3 97.2L83.1 97.4L83.9 97.6L84.7 97.9L85.5 98.4L86.3 98.8L87.1 99.3L87.9 99.7L88.7 100.1L89.5 100.3L90.3 100.4L91.1 100.5L91.9 100.6L92.7 100.7L93.5 100.7L94.3 100.7L95.1 100.7L95.8 100.7L96.6 100.7L97.4 100.7L98.2 100.7L99.0 100.7L99.8 100.7L100.6 100.7L101.4 100.7L102.2 100.7L103.0 100.7L103.8 100.7L104.6 100.7L105.4 100.5L106.2 100.3L107.0 100.1L107.8 99.8L108.6 99.6L109.4 99.3L110.2 99.1L111.0 98.8L111.8 98.5L112.6 98.2L113.4 97.9L114.2 97.7L115.0 97.5L115.8 97.3L116.6 97.2L117.4 97.2L118.2 97.3L119.0 97.4L119.8 97.6L120.6 97.9L121.4 98.1L122.1 98.4L122.9 98.7L123.7 99.0L124.5 99.3L125.3 99.7L125.34 100.66Z" fill="#619CFF"/><path d="M30.5 43.86L31.3 36.55L32.1 31.58L32.9 28.54L33.7 27.16L34.5 27.17L35.3 28.37L36.1 31.26L36.9 34.54L37.7 38.03L38.5 41.75L39.3 45.68L40.1 49.63L40.9 53.47L41.7 57.10L42.5 59.84L43.3 61.89L44.0 63.85L44.8 65.79L45.6 67.75L46.4 69.77L47.2 71.87L48.0 74.00L48.8 76.12L49.6 78.22L50.4 80.21L51.2 81.98L52.0 83.49L52.8 84.72L53.6 85.77L54.4 86.70L55.2 87.63L56.0 88.62L56.8 89.77L57.6 91.03L58.4 92.30L59.2 93.51L60.0 94.57L60.8 95.48L61.6 96.27L62.4 96.98L63.2 97.62L64.0 98.21L64.8 98.61L65.6 98.68L66.4 98.64L67.2 98.60L68.0 98.56L68.8 98.51L69.6 98.46L70.3 98.41L71.1 98.36L71.9 98.31L72.7 98.26L73.5 98.21L74.3 98.15L75.1 98.10L75.9 98.04L76.7 97.95L77.5 97.78L78.3 97.58L79.1 97.37L79.9 97.19L80.7 97.07L81.5 97.06L82.3 97.17L83.1 97.37L83.9 97.63L84.7 97.95L85.5 98.36L86.3 98.84L87.1 99.31L87.9 99.74L88.7 100.07L89.5 100.26L90.3 100.42L91.1 100.55L91.9 100.65L92.7 100.66L93.5 100.66L94.3 100.66L95.1 100.66L95.8 100.66L96.6 100.66L97.4 100.66L98.2 100.66L99.0 100.66L99.8 100.66L100.6 100.66L101.4 100.66L102.2 100.66L103.0 100.66L103.8 100.66L104.6 100.66L105.4 100.49L106.2 100.28L107.0 100.06L107.8 99.82L108.6 99.57L109.4 99.32L110.2 99.06L111.0 98.79L111.8 98.50L112.6 98.22L113.4 97.94L114.2 97.69L115.0 97.48L115.8 97.33L116.6 97.24L117.4 97.22L118.2 97.29L119.0 97.42L119.8 97.62L120.6 97.85L121.4 98.10L122.1 98.38L122.9 98.68L123.7 99.00L124.5 99.33L125.3 99.68" fill="none" stroke="#000" stroke-width="0.95" stroke-linejoin="round"/>
<path d="M30.50 100.66L30.5 43.2L31.3 34.9L32.1 28.6L32.9 24.1L33.7 21.7L34.5 21.6L35.3 23.7L36.1 28.1L36.9 33.1L37.7 38.0L38.5 42.5L39.3 47.0L40.1 51.1L40.9 55.1L41.7 58.7L42.5 61.4L43.3 63.4L44.0 65.3L44.8 67.2L45.6 69.0L46.4 70.9L47.2 72.9L48.0 74.9L48.8 76.9L49.6 78.8L50.4 80.6L51.2 82.2L52.0 83.6L52.8 84.7L53.6 85.6L54.4 86.4L55.2 87.2L56.0 88.1L56.8 89.1L57.6 90.3L58.4 91.5L59.2 92.6L60.0 93.6L60.8 94.5L61.6 95.3L62.4 96.0L63.2 96.7L64.0 97.3L64.8 97.8L65.6 97.9L66.4 97.9L67.2 98.0L68.0 98.0L68.8 98.0L69.6 98.0L70.3 98.0L71.1 98.1L71.9 98.1L72.7 98.0L73.5 98.0L74.3 98.0L75.1 98.0L75.9 98.0L76.7 97.9L77.5 97.7L78.3 97.5L79.1 97.4L79.9 97.2L80.7 97.1L81.5 97.1L82.3 97.2L83.1 97.4L83.9 97.6L84.7 97.9L85.5 98.4L86.3 98.8L87.1 99.3L87.9 99.7L88.7 100.1L89.5 100.3L90.3 100.4L91.1 100.5L91.9 100.6L92.7 100.7L93.5 100.7L94.3 100.7L95.1 100.7L95.8 100.7L96.6 100.7L97.4 100.7L98.2 100.7L99.0 100.7L99.8 100.7L100.6 100.7L101.4 100.7L102.2 100.7L103.0 100.7L103.8 100.7L104.6 100.7L105.4 100.5L106.2 100.3L107.0 100.1L107.8 99.8L108.6 99.6L109.4 99.3L110.2 99.1L111.0 98.8L111.8 98.5L112.6 98.2L113.4 97.9L114.2 97.7L115.0 97.5L115.8 97.3L116.6 97.2L117.4 97.2L118.2 97.2L119.0 97.3L119.8 97.3L120.6 97.4L121.4 97.5L122.1 97.7L122.9 97.9L123.7 98.2L124.5 98.6L125.3 99.1L125.34 100.66Z" fill="#DB72FB"/><path d="M30.5 43.21L31.3 34.93L32.1 28.59L32.9 24.08L33.7 21.68L34.5 21.57L35.3 23.68L36.1 28.15L36.9 33.10L37.7 37.95L38.5 42.55L39.3 46.95L40.1 51.13L40.9 55.07L41.7 58.72L42.5 61.45L43.3 63.45L44.0 65.35L44.8 67.19L45.6 69.04L46.4 70.94L47.2 72.90L48.0 74.88L48.8 76.85L49.6 78.79L50.4 80.63L51.2 82.24L52.0 83.59L52.8 84.67L53.6 85.57L54.4 86.38L55.2 87.17L56.0 88.06L56.8 89.10L57.6 90.27L58.4 91.47L59.2 92.62L60.0 93.64L60.8 94.52L61.6 95.31L62.4 96.02L63.2 96.69L64.0 97.32L64.8 97.77L65.6 97.90L66.4 97.92L67.2 97.95L68.0 97.98L68.8 98.01L69.6 98.03L70.3 98.04L71.1 98.05L71.9 98.05L72.7 98.05L73.5 98.04L74.3 98.02L75.1 98.00L75.9 97.97L76.7 97.89L77.5 97.74L78.3 97.55L79.1 97.35L79.9 97.18L80.7 97.06L81.5 97.05L82.3 97.16L83.1 97.37L83.9 97.63L84.7 97.95L85.5 98.36L86.3 98.84L87.1 99.31L87.9 99.74L88.7 100.07L89.5 100.26L90.3 100.42L91.1 100.55L91.9 100.65L92.7 100.66L93.5 100.66L94.3 100.66L95.1 100.66L95.8 100.66L96.6 100.66L97.4 100.66L98.2 100.66L99.0 100.66L99.8 100.66L100.6 100.66L101.4 100.66L102.2 100.66L103.0 100.66L103.8 100.66L104.6 100.66L105.4 100.49L106.2 100.28L107.0 100.06L107.8 99.82L108.6 99.57L109.4 99.32L110.2 99.06L111.0 98.79L111.8 98.50L112.6 98.22L113.4 97.94L114.2 97.69L115.0 97.48L115.8 97.32L116.6 97.22L117.4 97.18L118.2 97.20L119.0 97.26L119.8 97.34L120.6 97.43L121.4 97.52L122.1 97.66L122.9 97.88L123.7 98.19L124.5 98.60L125.3 99.08" fill="none" stroke="#000" stroke-width="0.95" stroke-linejoin="round"/>
<path d="M30.50 101.06L30.5 44.2L31.3 37.0L32.1 32.1L32.9 29.2L33.7 27.9L34.5 28.1L35.3 29.4L36.1 32.4L36.9 35.8L37.7 39.4L38.5 43.2L39.3 47.2L40.1 51.2L40.9 55.1L41.7 58.7L42.5 61.5L43.3 63.5L44.0 65.4L44.8 67.2L45.6 69.1L46.4 71.0L47.2 73.0L48.0 75.0L48.8 77.0L49.6 79.0L50.4 80.9L51.2 82.5L52.0 84.0L52.8 85.1L53.6 86.1L54.4 86.9L55.2 87.8L56.0 88.8L56.8 89.9L57.6 91.1L58.4 92.4L59.2 93.6L60.0 94.6L60.8 95.5L61.6 96.3L62.4 97.0L63.2 97.6L64.0 98.2L64.8 98.6L65.6 98.7L66.4 98.6L67.2 98.6L68.0 98.6L68.8 98.5L69.6 98.5L70.3 98.4L71.1 98.4L71.9 98.3L72.7 98.3L73.5 98.2L74.3 98.2L75.1 98.1L75.9 98.0L76.7 97.9L77.5 97.8L78.3 97.6L79.1 97.4L79.9 97.2L80.7 97.1L81.5 97.1L82.3 97.2L83.1 97.4L83.9 97.6L84.7 97.9L85.5 98.4L86.3 98.8L87.1 99.3L87.9 99.7L88.7 100.1L89.5 100.3L90.3 100.4L91.1 100.5L91.9 100.6L92.7 100.7L93.5 100.7L94.3 100.7L95.1 100.7L95.8 100.7L96.6 100.7L97.4 100.7L98.2 100.7L99.0 100.7L99.8 100.7L100.6 100.7L101.4 100.7L102.2 100.7L103.0 100.7L103.8 100.7L104.6 100.7L105.4 100.5L106.2 100.3L107.0 100.1L107.8 99.8L108.6 99.6L109.4 99.3L110.2 99.1L111.0 98.8L111.8 98.5L112.6 98.2L113.4 97.9L114.2 97.7L115.0 97.5L115.8 97.3L116.6 97.2L117.4 97.2L118.2 97.3L119.0 97.4L119.8 97.6L120.6 97.9L121.4 98.1L122.1 98.4L122.9 98.7L123.7 99.0L124.5 99.3L125.3 99.7L125.34 101.06Z" fill="#FF61C3"/><path d="M30.5 44.25L31.3 37.02L32.1 32.14L32.9 29.21L33.7 27.94L34.5 28.07L35.3 29.39L36.1 32.41L36.9 35.80L37.7 39.40L38.5 43.20L39.3 47.21L40.1 51.22L40.9 55.10L41.7 58.73L42.5 61.46L43.3 63.47L44.0 65.38L44.8 67.24L45.6 69.10L46.4 71.02L47.2 73.00L48.0 75.01L48.8 77.01L49.6 78.99L50.4 80.88L51.2 82.54L52.0 83.95L52.8 85.10L53.6 86.07L54.4 86.95L55.2 87.82L56.0 88.77L56.8 89.88L57.6 91.11L58.4 92.36L59.2 93.55L60.0 94.60L60.8 95.50L61.6 96.29L62.4 96.99L63.2 97.62L64.0 98.21L64.8 98.62L65.6 98.68L66.4 98.65L67.2 98.60L68.0 98.56L68.8 98.51L69.6 98.46L70.3 98.41L71.1 98.36L71.9 98.31L72.7 98.26L73.5 98.21L74.3 98.15L75.1 98.10L75.9 98.04L76.7 97.95L77.5 97.78L78.3 97.58L79.1 97.37L79.9 97.19L80.7 97.07L81.5 97.06L82.3 97.17L83.1 97.37L83.9 97.63L84.7 97.95L85.5 98.36L86.3 98.84L87.1 99.31L87.9 99.74L88.7 100.07L89.5 100.26L90.3 100.42L91.1 100.55L91.9 100.65L92.7 100.66L93.5 100.66L94.3 100.66L95.1 100.66L95.8 100.66L96.6 100.66L97.4 100.66L98.2 100.66L99.0 100.66L99.8 100.66L100.6 100.66L101.4 100.66L102.2 100.66L103.0 100.66L103.8 100.66L104.6 100.66L105.4 100.49L106.2 100.28L107.0 100.06L107.8 99.82L108.6 99.57L109.4 99.32L110.2 99.06L111.0 98.79L111.8 98.50L112.6 98.22L113.4 97.94L114.2 97.69L115.0 97.48L115.8 97.33L116.6 97.24L117.4 97.22L118.2 97.29L119.0 97.42L119.8 97.62L120.6 97.85L121.4 98.10L122.1 98.38L122.9 98.68L123.7 99.00L124.5 99.33L125.3 99.68" fill="none" stroke="#000" stroke-width="0.95" stroke-linejoin="round"/>
</g>
<g clip-path="url(#cp11)">
<path d="M138.50 193.15L138.5 190.2L139.3 189.8L140.1 189.4L140.9 188.8L141.7 188.2L142.5 187.5L143.3 186.8L144.1 186.0L144.9 185.1L145.6 184.2L146.4 183.3L147.2 182.3L148.0 181.3L148.8 180.2L149.6 179.1L150.4 177.9L151.2 176.6L152.0 175.3L152.8 173.9L153.6 172.4L154.4 170.9L155.2 169.3L156.0 167.6L156.8 165.9L157.6 164.1L158.4 162.3L159.2 160.5L159.9 158.6L160.7 156.6L161.5 154.6L162.3 152.5L163.1 150.5L163.9 148.4L164.7 146.4L165.5 144.4L166.3 142.6L167.1 140.9L167.9 139.3L168.7 137.8L169.5 136.5L170.3 135.2L171.1 134.1L171.9 133.1L172.7 132.3L173.4 131.5L174.2 130.9L175.0 130.4L175.8 129.9L176.6 129.5L177.4 129.1L178.2 128.8L179.0 128.6L179.8 128.4L180.6 128.2L181.4 128.0L182.2 128.0L183.0 128.1L183.8 128.4L184.6 128.7L185.4 129.0L186.2 129.2L186.9 129.4L187.7 129.6L188.5 129.8L189.3 129.9L190.1 129.8L190.9 129.7L191.7 129.3L192.5 128.8L193.3 128.1L194.1 127.3L194.9 126.6L195.7 125.9L196.5 125.2L197.3 124.5L198.1 123.8L198.9 123.0L199.7 122.3L200.4 121.6L201.2 120.9L202.0 120.4L202.8 120.1L203.6 119.9L204.4 119.7L205.2 119.7L206.0 119.8L206.8 120.0L207.6 120.4L208.4 121.0L209.2 121.8L210.0 122.8L210.8 124.2L211.6 125.7L212.4 127.5L213.2 129.5L213.9 131.8L214.7 134.1L215.5 136.4L216.3 138.8L217.1 141.2L217.9 143.7L218.7 146.3L219.5 148.8L220.3 151.3L221.1 153.7L221.9 156.0L222.7 158.3L223.5 160.5L224.3 162.6L225.1 164.6L225.9 166.7L226.7 168.6L227.4 170.5L228.2 172.4L229.0 174.1L229.8 175.8L230.6 177.3L231.4 178.8L232.2 180.1L233.0 181.4L233.01 193.15Z" fill="#F8766D"/><path d="M138.5 190.17L139.3 189.81L140.1 189.37L140.9 188.84L141.7 188.22L142.5 187.52L143.3 186.77L144.1 185.96L144.9 185.10L145.6 184.20L146.4 183.27L147.2 182.31L148.0 181.30L148.8 180.23L149.6 179.10L150.4 177.90L151.2 176.63L152.0 175.29L152.8 173.88L153.6 172.41L154.4 170.87L155.2 169.26L156.0 167.58L156.8 165.86L157.6 164.11L158.4 162.30L159.2 160.46L159.9 158.56L160.7 156.61L161.5 154.60L162.3 152.55L163.1 150.48L163.9 148.41L164.7 146.39L165.5 144.44L166.3 142.59L167.1 140.87L167.9 139.28L168.7 137.81L169.5 136.45L170.3 135.20L171.1 134.07L171.9 133.09L172.7 132.25L173.4 131.52L174.2 130.90L175.0 130.37L175.8 129.90L176.6 129.50L177.4 129.14L178.2 128.83L179.0 128.57L179.8 128.36L180.6 128.16L181.4 128.02L182.2 128.00L183.0 128.12L183.8 128.36L184.6 128.66L185.4 128.96L186.2 129.22L186.9 129.44L187.7 129.62L188.5 129.77L189.3 129.85L190.1 129.84L190.9 129.66L191.7 129.31L192.5 128.76L193.3 128.07L194.1 127.35L194.9 126.63L195.7 125.91L196.5 125.19L197.3 124.47L198.1 123.75L198.9 123.03L199.7 122.32L200.4 121.60L201.2 120.90L202.0 120.37L202.8 120.06L203.6 119.87L204.4 119.73L205.2 119.68L206.0 119.80L206.8 120.04L207.6 120.41L208.4 120.98L209.2 121.78L210.0 122.84L210.8 124.16L211.6 125.71L212.4 127.50L213.2 129.53L213.9 131.76L214.7 134.06L215.5 136.40L216.3 138.78L217.1 141.22L217.9 143.72L218.7 146.26L219.5 148.79L220.3 151.29L221.1 153.71L221.9 156.04L222.7 158.29L223.5 160.46L224.3 162.57L225.1 164.65L225.9 166.68L226.7 168.64L227.4 170.53L228.2 172.35L229.0 174.10L229.8 175.76L230.6 177.31L231.4 178.75L232.2 180.10L233.0 181.35" fill="none" stroke="#000" stroke-width="0.95" stroke-linejoin="round"/>
<path d="M138.50 193.15L138.5 189.1L139.3 188.5L140.1 187.9L140.9 187.2L141.7 186.4L142.5 185.6L143.3 184.8L144.1 183.9L144.9 183.0L145.6 182.0L146.4 181.0L147.2 180.0L148.0 178.9L148.8 177.7L149.6 176.5L150.4 175.2L151.2 173.8L152.0 172.4L152.8 170.9L153.6 169.4L154.4 167.8L155.2 166.2L156.0 164.6L156.8 162.9L157.6 161.3L158.4 159.6L159.2 157.9L159.9 156.1L160.7 154.4L161.5 152.6L162.3 150.8L163.1 149.0L163.9 147.3L164.7 145.6L165.5 143.9L166.3 142.4L167.1 140.8L167.9 139.4L168.7 138.0L169.5 136.7L170.3 135.4L171.1 134.3L171.9 133.3L172.7 132.4L173.4 131.6L174.2 131.0L175.0 130.4L175.8 129.9L176.6 129.4L177.4 129.0L178.2 128.7L179.0 128.5L179.8 128.2L180.6 128.1L181.4 128.0L182.2 128.1L183.0 128.3L183.8 128.6L184.6 128.9L185.4 129.2L186.2 129.4L186.9 129.6L187.7 129.7L188.5 129.8L189.3 129.9L190.1 129.8L190.9 129.5L191.7 129.0L192.5 128.4L193.3 127.7L194.1 127.0L194.9 126.3L195.7 125.6L196.5 125.0L197.3 124.3L198.1 123.6L198.9 122.9L199.7 122.2L200.4 121.5L201.2 120.8L202.0 120.3L202.8 120.0L203.6 119.9L204.4 119.7L205.2 119.7L206.0 119.8L206.8 120.0L207.6 120.4L208.4 120.9L209.2 121.7L210.0 122.6L210.8 123.9L211.6 125.3L212.4 127.0L213.2 128.9L213.9 131.0L214.7 133.2L215.5 135.5L216.3 137.8L217.1 140.1L217.9 142.5L218.7 144.9L219.5 147.4L220.3 149.8L221.1 152.2L221.9 154.6L222.7 156.8L223.5 158.9L224.3 161.0L225.1 163.1L225.9 165.1L226.7 167.0L227.4 168.9L228.2 170.7L229.0 172.5L229.8 174.2L230.6 175.8L231.4 177.3L232.2 178.7L233.0 180.0L233.01 193.15Z" fill="#D39200"/><path d="M138.5 189.09L139.3 188.52L140.1 187.88L140.9 187.17L141.7 186.42L142.5 185.61L143.3 184.76L144.1 183.88L144.9 182.96L145.6 182.02L146.4 181.02L147.2 179.98L148.0 178.87L148.8 177.69L149.6 176.45L150.4 175.15L151.2 173.80L152.0 172.38L152.8 170.91L153.6 169.37L154.4 167.79L155.2 166.19L156.0 164.57L156.8 162.92L157.6 161.26L158.4 159.58L159.2 157.88L159.9 156.14L160.7 154.37L161.5 152.58L162.3 150.78L163.1 149.01L163.9 147.26L164.7 145.56L165.5 143.92L166.3 142.36L167.1 140.85L167.9 139.40L168.7 138.00L169.5 136.66L170.3 135.42L171.1 134.31L171.9 133.31L172.7 132.42L173.4 131.64L174.2 130.96L175.0 130.37L175.8 129.85L176.6 129.41L177.4 129.03L178.2 128.72L179.0 128.46L179.8 128.24L180.6 128.08L181.4 128.02L182.2 128.11L183.0 128.33L183.8 128.61L184.6 128.91L185.4 129.17L186.2 129.39L186.9 129.57L187.7 129.73L188.5 129.84L189.3 129.87L190.1 129.77L190.9 129.50L191.7 129.05L192.5 128.43L193.3 127.74L194.1 127.04L194.9 126.35L195.7 125.65L196.5 124.95L197.3 124.25L198.1 123.56L198.9 122.86L199.7 122.16L200.4 121.47L201.2 120.81L202.0 120.33L202.8 120.04L203.6 119.86L204.4 119.73L205.2 119.68L206.0 119.80L206.8 120.02L207.6 120.37L208.4 120.91L209.2 121.66L210.0 122.64L210.8 123.87L211.6 125.33L212.4 127.00L213.2 128.90L213.9 131.00L214.7 133.21L215.5 135.47L216.3 137.76L217.1 140.10L217.9 142.49L218.7 144.94L219.5 147.40L220.3 149.84L221.1 152.25L221.9 154.57L222.7 156.80L223.5 158.95L224.3 161.03L225.1 163.07L225.9 165.07L226.7 167.03L227.4 168.92L228.2 170.75L229.0 172.50L229.8 174.19L230.6 175.80L231.4 177.30L232.2 178.70L233.0 180.01" fill="none" stroke="#000" stroke-width="0.95" stroke-linejoin="round"/>
<path d="M138.50 193.15L138.5 182.9L139.3 182.1L140.1 181.2L140.9 180.4L141.7 179.6L142.5 178.9L143.3 178.1L144.1 177.4L144.9 176.7L145.6 176.1L146.4 175.4L147.2 174.7L148.0 173.9L148.8 173.1L149.6 172.3L150.4 171.4L151.2 170.3L152.0 169.3L152.8 168.1L153.6 166.9L154.4 165.5L155.2 164.2L156.0 162.8L156.8 161.3L157.6 159.8L158.4 158.2L159.2 156.6L159.9 155.0L160.7 153.3L161.5 151.5L162.3 149.8L163.1 148.1L163.9 146.4L164.7 144.8L165.5 143.2L166.3 141.7L167.1 140.2L167.9 138.8L168.7 137.4L169.5 136.1L170.3 135.0L171.1 133.9L171.9 133.0L172.7 132.1L173.4 131.4L174.2 130.7L175.0 130.2L175.8 129.7L176.6 129.3L177.4 128.9L178.2 128.6L179.0 128.4L179.8 128.2L180.6 128.0L181.4 128.0L182.2 128.2L183.0 128.4L183.8 128.7L184.6 129.0L185.4 129.2L186.2 129.4L186.9 129.6L187.7 129.7L188.5 129.8L189.3 129.8L190.1 129.7L190.9 129.3L191.7 128.7L192.5 128.0L193.3 127.1L194.1 126.2L194.9 125.2L195.7 124.1L196.5 122.9L197.3 121.7L198.1 120.3L198.9 119.0L199.7 117.6L200.4 116.3L201.2 115.0L202.0 114.1L202.8 113.6L203.6 113.3L204.4 113.3L205.2 113.5L206.0 114.1L206.8 114.9L207.6 115.9L208.4 117.1L209.2 118.5L210.0 120.1L210.8 121.9L211.6 123.8L212.4 125.8L213.2 128.0L213.9 130.3L214.7 132.6L215.5 135.0L216.3 137.3L217.1 139.7L217.9 142.1L218.7 144.5L219.5 147.0L220.3 149.4L221.1 151.8L221.9 154.1L222.7 156.3L223.5 158.4L224.3 160.5L225.1 162.4L225.9 164.3L226.7 166.1L227.4 167.8L228.2 169.4L229.0 171.0L229.8 172.6L230.6 174.1L231.4 175.6L232.2 177.0L233.0 178.5L233.01 193.15Z" fill="#00BA38"/><path d="M138.5 182.92L139.3 182.09L140.1 181.25L140.9 180.43L141.7 179.63L142.5 178.85L143.3 178.11L144.1 177.41L144.9 176.74L145.6 176.07L146.4 175.40L147.2 174.70L148.0 173.95L148.8 173.15L149.6 172.28L150.4 171.35L151.2 170.35L152.0 169.27L152.8 168.10L153.6 166.85L154.4 165.54L155.2 164.17L156.0 162.76L156.8 161.30L157.6 159.79L158.4 158.23L159.2 156.63L159.9 154.96L160.7 153.26L161.5 151.53L162.3 149.80L163.1 148.08L163.9 146.38L164.7 144.75L165.5 143.18L166.3 141.66L167.1 140.20L167.9 138.79L168.7 137.43L169.5 136.15L170.3 134.97L171.1 133.91L171.9 132.97L172.7 132.12L173.4 131.38L174.2 130.74L175.0 130.18L175.8 129.69L176.6 129.27L177.4 128.92L178.2 128.63L179.0 128.39L179.8 128.18L180.6 128.04L181.4 128.03L182.2 128.16L183.0 128.40L183.8 128.68L184.6 128.97L185.4 129.22L186.2 129.42L186.9 129.60L187.7 129.74L188.5 129.82L189.3 129.81L190.1 129.65L190.9 129.31L191.7 128.75L192.5 127.98L193.3 127.12L194.1 126.19L194.9 125.18L195.7 124.09L196.5 122.92L197.3 121.66L198.1 120.33L198.9 118.96L199.7 117.59L200.4 116.25L201.2 115.05L202.0 114.14L202.8 113.58L203.6 113.32L204.4 113.30L205.2 113.55L206.0 114.11L206.8 114.91L207.6 115.91L208.4 117.12L209.2 118.53L210.0 120.12L210.8 121.89L211.6 123.79L212.4 125.82L213.2 127.98L213.9 130.28L214.7 132.64L215.5 134.98L216.3 137.33L217.1 139.69L217.9 142.09L218.7 144.53L219.5 146.98L220.3 149.42L221.1 151.80L221.9 154.11L222.7 156.31L223.5 158.43L224.3 160.45L225.1 162.40L225.9 164.29L226.7 166.09L227.4 167.81L228.2 169.44L229.0 171.02L229.8 172.55L230.6 174.07L231.4 175.56L232.2 177.02L233.0 178.45" fill="none" stroke="#000" stroke-width="0.95" stroke-linejoin="round"/>
<path d="M138.50 193.15L138.5 185.6L139.3 185.0L140.1 184.3L140.9 183.6L141.7 183.0L142.5 182.2L143.3 181.5L144.1 180.8L144.9 180.1L145.6 179.4L146.4 178.8L147.2 178.0L148.0 177.3L148.8 176.5L149.6 175.6L150.4 174.6L151.2 173.6L152.0 172.5L152.8 171.3L153.6 170.1L154.4 168.7L155.2 167.3L156.0 165.8L156.8 164.3L157.6 162.7L158.4 161.1L159.2 159.5L159.9 157.8L160.7 156.1L161.5 154.3L162.3 152.5L163.1 150.7L163.9 148.9L164.7 147.1L165.5 145.4L166.3 143.8L167.1 142.2L167.9 140.7L168.7 139.2L169.5 137.8L170.3 136.4L171.1 135.2L171.9 134.0L172.7 133.0L173.4 132.1L174.2 131.2L175.0 130.4L175.8 129.7L176.6 129.1L177.4 128.5L178.2 127.9L179.0 127.4L179.8 127.0L180.6 126.7L181.4 126.4L182.2 126.4L183.0 126.6L183.8 126.9L184.6 127.4L185.4 127.8L186.2 128.2L186.9 128.6L187.7 129.0L188.5 129.3L189.3 129.5L190.1 129.5L190.9 129.4L191.7 129.1L192.5 128.6L193.3 127.9L194.1 127.2L194.9 126.5L195.7 125.8L196.5 125.1L197.3 124.4L198.1 123.7L198.9 123.0L199.7 122.3L200.4 121.5L201.2 120.9L202.0 120.4L202.8 120.1L203.6 119.9L204.4 119.7L205.2 119.7L206.0 119.8L206.8 120.0L207.6 120.4L208.4 121.0L209.2 121.7L210.0 122.8L210.8 124.0L211.6 125.6L212.4 127.3L213.2 129.3L213.9 131.5L214.7 133.7L215.5 136.0L216.3 138.4L217.1 140.8L217.9 143.2L218.7 145.7L219.5 148.2L220.3 150.7L221.1 153.1L221.9 155.4L222.7 157.7L223.5 159.8L224.3 161.9L225.1 164.0L225.9 166.0L226.7 168.0L227.4 169.9L228.2 171.7L229.0 173.5L229.8 175.1L230.6 176.7L231.4 178.2L232.2 179.5L233.0 180.8L233.01 193.15Z" fill="#00C19F"/><path d="M138.5 185.57L139.3 184.97L140.1 184.33L140.9 183.65L141.7 182.95L142.5 182.25L143.3 181.55L144.1 180.84L144.9 180.14L145.6 179.45L146.4 178.75L147.2 178.03L148.0 177.28L148.8 176.47L149.6 175.60L150.4 174.64L151.2 173.61L152.0 172.51L152.8 171.32L153.6 170.05L154.4 168.70L155.2 167.27L156.0 165.79L156.8 164.27L157.6 162.71L158.4 161.11L159.2 159.47L159.9 157.79L160.7 156.07L161.5 154.30L162.3 152.51L163.1 150.70L163.9 148.91L164.7 147.14L165.5 145.43L166.3 143.77L167.1 142.19L167.9 140.66L168.7 139.19L169.5 137.77L170.3 136.42L171.1 135.16L171.9 134.03L172.7 132.99L173.4 132.06L174.2 131.21L175.0 130.44L175.8 129.73L176.6 129.07L177.4 128.46L178.2 127.91L179.0 127.43L179.8 127.01L180.6 126.66L181.4 126.43L182.2 126.40L183.0 126.59L183.8 126.93L184.6 127.36L185.4 127.81L186.2 128.24L186.9 128.63L187.7 128.99L188.5 129.28L189.3 129.48L190.1 129.54L190.9 129.42L191.7 129.09L192.5 128.55L193.3 127.89L194.1 127.20L194.9 126.50L195.7 125.80L196.5 125.09L197.3 124.38L198.1 123.67L198.9 122.96L199.7 122.25L200.4 121.54L201.2 120.86L202.0 120.36L202.8 120.05L203.6 119.87L204.4 119.73L205.2 119.68L206.0 119.80L206.8 120.03L207.6 120.39L208.4 120.95L209.2 121.73L210.0 122.76L210.8 124.04L211.6 125.56L212.4 127.30L213.2 129.27L213.9 131.45L214.7 133.71L215.5 136.02L216.3 138.36L217.1 140.76L217.9 143.22L218.7 145.72L219.5 148.22L220.3 150.70L221.1 153.11L221.9 155.44L222.7 157.68L223.5 159.84L224.3 161.94L225.1 164.01L225.9 166.03L226.7 167.99L227.4 169.89L228.2 171.71L229.0 173.46L229.8 175.14L230.6 176.72L231.4 178.18L232.2 179.55L233.0 180.82" fill="none" stroke="#000" stroke-width="0.95" stroke-linejoin="round"/>
<path d="M138.50 193.15L138.5 190.0L139.3 189.6L140.1 189.1L140.9 188.5L141.7 187.9L142.5 187.2L143.3 186.4L144.1 185.6L144.9 184.7L145.6 183.8L146.4 182.8L147.2 181.8L148.0 180.8L148.8 179.7L149.6 178.6L150.4 177.4L151.2 176.1L152.0 174.7L152.8 173.3L153.6 171.8L154.4 170.3L155.2 168.7L156.0 167.1L156.8 165.4L157.6 163.8L158.4 162.1L159.2 160.3L159.9 158.6L160.7 156.8L161.5 155.0L162.3 153.2L163.1 151.4L163.9 149.5L164.7 147.7L165.5 146.0L166.3 144.3L167.1 142.7L167.9 141.1L168.7 139.6L169.5 138.2L170.3 136.8L171.1 135.5L171.9 134.4L172.7 133.3L173.4 132.4L174.2 131.6L175.0 130.9L175.8 130.3L176.6 129.8L177.4 129.4L178.2 129.0L179.0 128.7L179.8 128.4L180.6 128.2L181.4 128.0L182.2 128.0L183.0 128.2L183.8 128.4L184.6 128.7L185.4 129.0L186.2 129.3L186.9 129.5L187.7 129.6L188.5 129.8L189.3 129.9L190.1 129.8L190.9 129.6L191.7 129.2L192.5 128.7L193.3 127.9L194.1 127.2L194.9 126.4L195.7 125.6L196.5 124.8L197.3 123.9L198.1 123.0L198.9 122.0L199.7 121.0L200.4 120.0L201.2 119.0L202.0 118.1L202.8 117.5L203.6 117.1L204.4 116.8L205.2 116.7L206.0 116.9L206.8 117.3L207.6 117.9L208.4 118.7L209.2 119.9L210.0 121.2L210.8 122.8L211.6 124.7L212.4 126.7L213.2 128.9L213.9 131.2L214.7 133.6L215.5 136.0L216.3 138.4L217.1 140.8L217.9 143.2L218.7 145.7L219.5 148.1L220.3 150.5L221.1 152.8L221.9 155.0L222.7 157.1L223.5 159.1L224.3 161.1L225.1 163.0L225.9 164.9L226.7 166.7L227.4 168.6L228.2 170.4L229.0 172.2L229.8 173.9L230.6 175.6L231.4 177.2L232.2 178.7L233.0 180.1L233.01 193.15Z" fill="#00B9E3"/><path d="M138.5 189.99L139.3 189.60L140.1 189.11L140.9 188.54L141.7 187.88L142.5 187.16L143.3 186.38L144.1 185.55L144.9 184.68L145.6 183.77L146.4 182.83L147.2 181.85L148.0 180.82L148.8 179.73L149.6 178.58L150.4 177.36L151.2 176.07L152.0 174.72L152.8 173.31L153.6 171.83L154.4 170.30L155.2 168.71L156.0 167.08L156.8 165.42L157.6 163.75L158.4 162.06L159.2 160.34L159.9 158.61L160.7 156.84L161.5 155.04L162.3 153.21L163.1 151.37L163.9 149.54L164.7 147.73L165.5 145.97L166.3 144.28L167.1 142.66L167.9 141.11L168.7 139.61L169.5 138.17L170.3 136.79L171.1 135.51L171.9 134.36L172.7 133.34L173.4 132.43L174.2 131.63L175.0 130.93L175.8 130.33L176.6 129.80L177.4 129.35L178.2 128.98L179.0 128.67L179.8 128.41L180.6 128.19L181.4 128.05L182.2 128.03L183.0 128.17L183.8 128.42L184.6 128.72L185.4 129.01L186.2 129.26L186.9 129.47L187.7 129.64L188.5 129.78L189.3 129.85L190.1 129.82L190.9 129.62L191.7 129.24L192.5 128.66L193.3 127.94L194.1 127.19L194.9 126.42L195.7 125.62L196.5 124.79L197.3 123.91L198.1 123.00L198.9 122.04L199.7 121.03L200.4 120.00L201.2 118.98L202.0 118.14L202.8 117.54L203.6 117.13L204.4 116.84L205.2 116.74L206.0 116.91L206.8 117.29L207.6 117.88L208.4 118.74L209.2 119.85L210.0 121.23L210.8 122.85L211.6 124.66L212.4 126.67L213.2 128.87L213.9 131.22L214.7 133.61L215.5 135.99L216.3 138.38L217.1 140.80L217.9 143.25L218.7 145.71L219.5 148.14L220.3 150.52L221.1 152.82L221.9 155.01L222.7 157.09L223.5 159.10L224.3 161.05L225.1 162.98L225.9 164.88L226.7 166.75L227.4 168.59L228.2 170.39L229.0 172.17L229.8 173.91L230.6 175.58L231.4 177.16L232.2 178.67L233.0 180.10" fill="none" stroke="#000" stroke-width="0.95" stroke-linejoin="round"/>
<path d="M138.50 193.15L138.5 189.5L139.3 189.0L140.1 188.4L140.9 187.7L141.7 187.0L142.5 186.2L143.3 185.4L144.1 184.5L144.9 183.6L145.6 182.7L146.4 181.7L147.2 180.7L148.0 179.6L148.8 178.5L149.6 177.3L150.4 176.0L151.2 174.7L152.0 173.3L152.8 171.8L153.6 170.3L154.4 168.7L155.2 167.1L156.0 165.5L156.8 163.9L157.6 162.2L158.4 160.5L159.2 158.8L159.9 157.1L160.7 155.3L161.5 153.5L162.3 151.7L163.1 149.9L163.9 148.1L164.7 146.3L165.5 144.7L166.3 143.1L167.1 141.5L167.9 140.0L168.7 138.6L169.5 137.2L170.3 135.9L171.1 134.8L171.9 133.7L172.7 132.8L173.4 131.9L174.2 131.2L175.0 130.6L175.8 130.0L176.6 129.5L177.4 129.1L178.2 128.8L179.0 128.5L179.8 128.3L180.6 128.1L181.4 128.0L182.2 128.1L183.0 128.3L183.8 128.5L184.6 128.8L185.4 129.1L186.2 129.3L186.9 129.5L187.7 129.7L188.5 129.8L189.3 129.9L190.1 129.8L190.9 129.5L191.7 129.1L192.5 128.5L193.3 127.8L194.1 127.1L194.9 126.4L195.7 125.7L196.5 125.0L197.3 124.3L198.1 123.6L198.9 122.9L199.7 122.2L200.4 121.5L201.2 120.8L202.0 120.3L202.8 120.0L203.6 119.9L204.4 119.7L205.2 119.7L206.0 119.8L206.8 120.0L207.6 120.4L208.4 120.9L209.2 121.7L210.0 122.7L210.8 124.0L211.6 125.4L212.4 127.1L213.2 129.1L213.9 131.2L214.7 133.5L215.5 135.7L216.3 138.1L217.1 140.4L217.9 142.9L218.7 145.3L219.5 147.8L220.3 150.3L221.1 152.7L221.9 155.0L222.7 157.2L223.5 159.4L224.3 161.5L225.1 163.5L225.9 165.6L226.7 167.5L227.4 169.4L228.2 171.2L229.0 173.0L229.8 174.7L230.6 176.3L231.4 177.7L232.2 179.1L233.0 180.4L233.01 193.15Z" fill="#619CFF"/><path d="M138.5 189.47L139.3 188.97L140.1 188.38L140.9 187.71L141.7 186.99L142.5 186.21L143.3 185.38L144.1 184.51L144.9 183.61L145.6 182.68L146.4 181.71L147.2 180.69L148.0 179.61L148.8 178.47L149.6 177.26L150.4 175.99L151.2 174.65L152.0 173.26L152.8 171.81L153.6 170.30L154.4 168.73L155.2 167.12L156.0 165.50L156.8 163.85L157.6 162.19L158.4 160.50L159.2 158.80L159.9 157.06L160.7 155.29L161.5 153.49L162.3 151.68L163.1 149.87L163.9 148.09L164.7 146.35L165.5 144.67L166.3 143.06L167.1 141.51L167.9 140.02L168.7 138.59L169.5 137.21L170.3 135.92L171.1 134.75L171.9 133.70L172.7 132.76L173.4 131.93L174.2 131.20L175.0 130.57L175.8 130.02L176.6 129.55L177.4 129.14L178.2 128.81L179.0 128.53L179.8 128.30L180.6 128.11L181.4 128.01L182.2 128.06L183.0 128.26L183.8 128.53L184.6 128.84L185.4 129.12L186.2 129.34L186.9 129.54L187.7 129.70L188.5 129.82L189.3 129.87L190.1 129.79L190.9 129.55L191.7 129.13L192.5 128.53L193.3 127.84L194.1 127.13L194.9 126.43L195.7 125.73L196.5 125.02L197.3 124.32L198.1 123.61L198.9 122.91L199.7 122.21L200.4 121.50L201.2 120.84L202.0 120.35L202.8 120.05L203.6 119.87L204.4 119.73L205.2 119.68L206.0 119.80L206.8 120.03L207.6 120.38L208.4 120.93L209.2 121.69L210.0 122.70L210.8 123.96L211.6 125.44L212.4 127.15L213.2 129.08L213.9 131.22L214.7 133.46L215.5 135.74L216.3 138.06L217.1 140.43L217.9 142.85L218.7 145.32L219.5 147.81L220.3 150.27L221.1 152.68L221.9 155.00L222.7 157.24L223.5 159.39L224.3 161.49L225.1 163.54L225.9 165.55L226.7 167.52L227.4 169.41L228.2 171.23L229.0 172.98L229.8 174.67L230.6 176.26L231.4 177.74L232.2 179.12L233.0 180.41" fill="none" stroke="#000" stroke-width="0.95" stroke-linejoin="round"/>
<path d="M138.50 193.15L138.5 187.1L139.3 186.7L140.1 186.3L140.9 185.9L141.7 185.4L142.5 184.9L143.3 184.3L144.1 183.7L144.9 183.1L145.6 182.4L146.4 181.8L147.2 181.0L148.0 180.3L148.8 179.5L149.6 178.5L150.4 177.6L151.2 176.5L152.0 175.3L152.8 174.0L153.6 172.7L154.4 171.3L155.2 169.8L156.0 168.2L156.8 166.6L157.6 164.9L158.4 163.3L159.2 161.6L159.9 159.8L160.7 158.1L161.5 156.3L162.3 154.5L163.1 152.6L163.9 150.7L164.7 148.9L165.5 147.1L166.3 145.3L167.1 143.6L167.9 142.0L168.7 140.5L169.5 139.0L170.3 137.6L171.1 136.2L171.9 135.0L172.7 133.9L173.4 132.9L174.2 132.0L175.0 131.3L175.8 130.6L176.6 130.0L177.4 129.5L178.2 129.1L179.0 128.8L179.8 128.5L180.6 128.3L181.4 128.1L182.2 128.0L183.0 128.1L183.8 128.3L184.6 128.6L185.4 128.9L186.2 129.2L186.9 129.4L187.7 129.6L188.5 129.8L189.3 129.8L190.1 129.9L190.9 129.7L191.7 129.4L192.5 128.8L193.3 128.1L194.1 127.4L194.9 126.7L195.7 126.0L196.5 125.2L197.3 124.5L198.1 123.8L198.9 123.1L199.7 122.3L200.4 121.6L201.2 120.9L202.0 120.4L202.8 120.1L203.6 119.9L204.4 119.7L205.2 119.7L206.0 119.8L206.8 120.0L207.6 120.4L208.4 121.0L209.2 121.8L210.0 122.9L210.8 124.2L211.6 125.8L212.4 127.6L213.2 129.7L213.9 131.9L214.7 134.2L215.5 136.6L216.3 139.0L217.1 141.5L217.9 144.0L218.7 146.5L219.5 149.1L220.3 151.6L221.1 154.0L221.9 156.3L222.7 158.6L223.5 160.8L224.3 162.9L225.1 164.9L225.9 166.9L226.7 168.8L227.4 170.6L228.2 172.1L229.0 173.6L229.8 174.8L230.6 176.0L231.4 177.2L232.2 178.4L233.0 179.8L233.01 193.15Z" fill="#DB72FB"/><path d="M138.5 187.12L139.3 186.75L140.1 186.35L140.9 185.90L141.7 185.41L142.5 184.87L143.3 184.31L144.1 183.71L144.9 183.09L145.6 182.44L146.4 181.76L147.2 181.04L148.0 180.28L148.8 179.45L149.6 178.55L150.4 177.55L151.2 176.47L152.0 175.30L152.8 174.04L153.6 172.70L154.4 171.28L155.2 169.77L156.0 168.20L156.8 166.59L157.6 164.94L158.4 163.27L159.2 161.56L159.9 159.84L160.7 158.08L161.5 156.29L162.3 154.45L163.1 152.60L163.9 150.74L164.7 148.90L165.5 147.09L166.3 145.33L167.1 143.65L167.9 142.03L168.7 140.48L169.5 138.99L170.3 137.56L171.1 136.21L171.9 134.97L172.7 133.87L173.4 132.88L174.2 132.01L175.0 131.26L175.8 130.60L176.6 130.04L177.4 129.55L178.2 129.13L179.0 128.79L179.8 128.51L180.6 128.27L181.4 128.09L182.2 128.02L183.0 128.10L183.8 128.32L184.6 128.61L185.4 128.92L186.2 129.19L186.9 129.41L187.7 129.60L188.5 129.75L189.3 129.85L190.1 129.85L190.9 129.70L191.7 129.36L192.5 128.83L193.3 128.14L194.1 127.41L194.9 126.69L195.7 125.97L196.5 125.24L197.3 124.52L198.1 123.80L198.9 123.07L199.7 122.35L200.4 121.62L201.2 120.91L202.0 120.38L202.8 120.06L203.6 119.87L204.4 119.73L205.2 119.68L206.0 119.80L206.8 120.04L207.6 120.41L208.4 120.99L209.2 121.81L210.0 122.88L210.8 124.22L211.6 125.79L212.4 127.60L213.2 129.66L213.9 131.92L214.7 134.23L215.5 136.59L216.3 138.99L217.1 141.46L217.9 143.98L218.7 146.53L219.5 149.08L220.3 151.58L221.1 154.02L221.9 156.35L222.7 158.59L223.5 160.77L224.3 162.88L225.1 164.95L225.9 166.94L226.7 168.82L227.4 170.56L228.2 172.14L229.0 173.57L229.8 174.84L230.6 176.01L231.4 177.17L232.2 178.41L233.0 179.76" fill="none" stroke="#000" stroke-width="0.95" stroke-linejoin="round"/>
<path d="M138.50 193.55L138.5 190.5L139.3 190.3L140.1 189.9L140.9 189.5L141.7 189.0L142.5 188.4L143.3 187.7L144.1 187.0L144.9 186.1L145.6 185.3L146.4 184.4L147.2 183.4L148.0 182.5L148.8 181.4L149.6 180.4L150.4 179.2L151.2 178.0L152.0 176.7L152.8 175.4L153.6 174.0L154.4 172.5L155.2 170.9L156.0 169.3L156.8 167.7L157.6 166.0L158.4 164.3L159.2 162.6L159.9 160.8L160.7 159.1L161.5 157.3L162.3 155.4L163.1 153.6L163.9 151.7L164.7 149.8L165.5 147.9L166.3 146.1L167.1 144.4L167.9 142.7L168.7 141.2L169.5 139.6L170.3 138.2L171.1 136.7L171.9 135.4L172.7 134.3L173.4 133.2L174.2 132.3L175.0 131.5L175.8 130.8L176.6 130.2L177.4 129.7L178.2 129.3L179.0 128.9L179.8 128.6L180.6 128.3L181.4 128.1L182.2 128.0L183.0 128.0L183.8 128.2L184.6 128.5L185.4 128.9L186.2 129.1L186.9 129.4L187.7 129.6L188.5 129.7L189.3 129.8L190.1 129.9L190.9 129.8L191.7 129.4L192.5 128.9L193.3 128.2L194.1 127.5L194.9 126.8L195.7 126.0L196.5 125.3L197.3 124.6L198.1 123.9L198.9 123.1L199.7 122.4L200.4 121.7L201.2 120.9L202.0 120.4L202.8 120.1L203.6 119.9L204.4 119.7L205.2 119.7L206.0 119.8L206.8 120.0L207.6 120.4L208.4 121.0L209.2 121.8L210.0 122.9L210.8 124.3L211.6 125.9L212.4 127.8L213.2 129.9L213.9 132.2L214.7 134.5L215.5 136.9L216.3 139.3L217.1 141.8L217.9 144.4L218.7 146.9L219.5 149.5L220.3 152.0L221.1 154.5L221.9 156.8L222.7 159.1L223.5 161.2L224.3 163.4L225.1 165.5L225.9 167.5L226.7 169.5L227.4 171.4L228.2 173.2L229.0 174.9L229.8 176.6L230.6 178.1L231.4 179.5L232.2 180.8L233.0 182.0L233.01 193.55Z" fill="#FF61C3"/><path d="M138.5 190.53L139.3 190.27L140.1 189.94L140.9 189.52L141.7 189.01L142.5 188.40L143.3 187.71L144.1 186.95L144.9 186.14L145.6 185.28L146.4 184.37L147.2 183.43L148.0 182.46L148.8 181.44L149.6 180.37L150.4 179.23L151.2 178.02L152.0 176.73L152.8 175.38L153.6 173.97L154.4 172.49L155.2 170.94L156.0 169.34L156.8 167.68L157.6 166.00L158.4 164.29L159.2 162.57L159.9 160.82L160.7 159.06L161.5 157.26L162.3 155.42L163.1 153.55L163.9 151.67L164.7 149.80L165.5 147.95L166.3 146.14L167.1 144.41L167.9 142.75L168.7 141.15L169.5 139.62L170.3 138.15L171.1 136.74L171.9 135.44L172.7 134.27L173.4 133.23L174.2 132.31L175.0 131.51L175.8 130.81L176.6 130.21L177.4 129.69L178.2 129.25L179.0 128.88L179.8 128.59L180.6 128.33L181.4 128.12L182.2 128.01L183.0 128.04L183.8 128.25L184.6 128.54L185.4 128.85L186.2 129.14L186.9 129.37L187.7 129.57L188.5 129.73L189.3 129.84L190.1 129.88L190.9 129.75L191.7 129.44L192.5 128.94L193.3 128.24L194.1 127.51L194.9 126.78L195.7 126.05L196.5 125.32L197.3 124.59L198.1 123.86L198.9 123.13L199.7 122.40L200.4 121.67L201.2 120.94L202.0 120.39L202.8 120.07L203.6 119.88L204.4 119.73L205.2 119.68L206.0 119.80L206.8 120.04L207.6 120.42L208.4 121.02L209.2 121.85L210.0 122.94L210.8 124.31L211.6 125.91L212.4 127.76L213.2 129.86L213.9 132.16L214.7 134.50L215.5 136.88L216.3 139.32L217.1 141.81L217.9 144.37L218.7 146.95L219.5 149.52L220.3 152.04L221.1 154.48L221.9 156.82L222.7 159.07L223.5 161.25L224.3 163.38L225.1 165.48L225.9 167.51L226.7 169.48L227.4 171.37L228.2 173.18L229.0 174.92L229.8 176.56L230.6 178.07L231.4 179.49L232.2 180.80L233.0 182.03" fill="none" stroke="#000" stroke-width="0.95" stroke-linejoin="round"/>
</g>
<g clip-path="url(#cp22)">
<path d="M246.50 285.48L246.5 281.9L247.3 282.0L248.1 282.1L248.9 282.1L249.7 282.2L250.5 282.2L251.3 282.2L252.0 282.2L252.8 282.2L253.6 282.1L254.4 281.9L255.2 281.7L256.0 281.3L256.8 280.9L257.6 280.5L258.4 280.0L259.2 279.4L260.0 278.8L260.7 278.1L261.5 277.3L262.3 276.5L263.1 275.6L263.9 274.6L264.7 273.6L265.5 272.4L266.3 271.2L267.1 269.8L267.9 268.4L268.7 266.7L269.5 265.0L270.2 263.1L271.0 261.1L271.8 259.0L272.6 256.8L273.4 254.4L274.2 251.9L275.0 249.4L275.8 246.7L276.6 244.0L277.4 241.4L278.2 238.7L279.0 236.1L279.7 233.4L280.5 230.8L281.3 228.2L282.1 225.5L282.9 222.8L283.7 220.1L284.5 217.5L285.3 215.1L286.1 212.9L286.9 211.0L287.7 209.3L288.4 207.8L289.2 206.7L290.0 205.9L290.8 205.4L291.6 205.3L292.4 205.5L293.2 206.0L294.0 206.9L294.8 208.1L295.6 209.6L296.4 211.1L297.2 212.7L297.9 214.3L298.7 215.9L299.5 217.4L300.3 218.8L301.1 220.1L301.9 221.3L302.7 222.5L303.5 223.6L304.3 224.7L305.1 225.8L305.9 226.8L306.7 227.9L307.4 229.0L308.2 230.2L309.0 231.4L309.8 232.8L310.6 234.3L311.4 235.9L312.2 237.5L313.0 239.2L313.8 241.0L314.6 242.8L315.4 244.6L316.1 246.5L316.9 248.3L317.7 250.1L318.5 251.9L319.3 253.7L320.1 255.4L320.9 257.1L321.7 258.8L322.5 260.4L323.3 262.1L324.1 263.6L324.9 265.0L325.6 266.2L326.4 267.2L327.2 268.0L328.0 268.5L328.8 268.9L329.6 269.2L330.4 269.6L331.2 269.9L332.0 270.3L332.8 270.8L333.6 271.2L334.4 271.7L335.1 272.1L335.9 272.6L336.7 273.2L337.5 273.7L338.3 274.4L339.1 275.2L339.9 276.0L340.7 276.9L340.68 285.48Z" fill="#F8766D"/><path d="M246.5 281.85L247.3 281.97L248.1 282.07L248.9 282.14L249.7 282.21L250.5 282.25L251.3 282.25L252.0 282.22L252.8 282.15L253.6 282.06L254.4 281.90L255.2 281.66L256.0 281.33L256.8 280.94L257.6 280.48L258.4 279.99L259.2 279.44L260.0 278.82L260.7 278.10L261.5 277.32L262.3 276.46L263.1 275.56L263.9 274.60L264.7 273.57L265.5 272.44L266.3 271.20L267.1 269.84L267.9 268.36L268.7 266.75L269.5 265.01L270.2 263.14L271.0 261.15L271.8 259.03L272.6 256.79L273.4 254.43L274.2 251.94L275.0 249.36L275.8 246.72L276.6 244.04L277.4 241.35L278.2 238.69L279.0 236.05L279.7 233.44L280.5 230.81L281.3 228.17L282.1 225.50L282.9 222.81L283.7 220.10L284.5 217.49L285.3 215.10L286.1 212.93L286.9 210.99L287.7 209.28L288.4 207.84L289.2 206.70L290.0 205.89L290.8 205.45L291.6 205.35L292.4 205.51L293.2 205.99L294.0 206.86L294.8 208.13L295.6 209.58L296.4 211.12L297.2 212.71L297.9 214.30L298.7 215.86L299.5 217.35L300.3 218.77L301.1 220.09L301.9 221.34L302.7 222.51L303.5 223.63L304.3 224.71L305.1 225.76L305.9 226.82L306.7 227.90L307.4 229.01L308.2 230.17L309.0 231.42L309.8 232.79L310.6 234.27L311.4 235.85L312.2 237.52L313.0 239.24L313.8 241.00L314.6 242.79L315.4 244.61L316.1 246.45L316.9 248.29L317.7 250.11L318.5 251.91L319.3 253.67L320.1 255.41L320.9 257.12L321.7 258.79L322.5 260.44L323.3 262.06L324.1 263.61L324.9 265.01L325.6 266.22L326.4 267.21L327.2 267.97L328.0 268.49L328.8 268.89L329.6 269.24L330.4 269.58L331.2 269.94L332.0 270.35L332.8 270.79L333.6 271.23L334.4 271.68L335.1 272.15L335.9 272.63L336.7 273.15L337.5 273.74L338.3 274.41L339.1 275.17L339.9 276.00L340.7 276.88" fill="none" stroke="#000" stroke-width="0.95" stroke-linejoin="round"/>
<path d="M246.50 285.48L246.5 282.0L247.3 282.1L248.1 282.2L248.9 282.2L249.7 282.3L250.5 282.2L251.3 282.2L252.0 282.1L252.8 282.0L253.6 281.8L254.4 281.5L255.2 281.2L256.0 280.8L256.8 280.3L257.6 279.8L258.4 279.3L259.2 278.7L260.0 277.9L260.7 277.2L261.5 276.3L262.3 275.4L263.1 274.5L263.9 273.5L264.7 272.4L265.5 271.2L266.3 269.9L267.1 268.4L267.9 266.9L268.7 265.2L269.5 263.4L270.2 261.5L271.0 259.5L271.8 257.3L272.6 255.1L273.4 252.7L274.2 250.3L275.0 247.7L275.8 245.2L276.6 242.6L277.4 240.1L278.2 237.6L279.0 235.2L279.7 232.8L280.5 230.5L281.3 228.2L282.1 226.0L282.9 223.9L283.7 221.8L284.5 220.0L285.3 218.4L286.1 217.1L286.9 216.1L287.7 215.2L288.4 214.5L289.2 214.0L290.0 213.6L290.8 213.4L291.6 213.4L292.4 213.3L293.2 213.3L294.0 213.5L294.8 213.9L295.6 214.4L296.4 214.9L297.2 215.4L297.9 215.9L298.7 216.5L299.5 217.0L300.3 217.7L301.1 218.3L301.9 219.0L302.7 219.8L303.5 220.7L304.3 221.6L305.1 222.7L305.9 223.8L306.7 225.0L307.4 226.3L308.2 227.6L309.0 229.1L309.8 230.6L310.6 232.2L311.4 233.9L312.2 235.6L313.0 237.4L313.8 239.2L314.6 241.0L315.4 242.8L316.1 244.6L316.9 246.4L317.7 248.2L318.5 250.0L319.3 251.8L320.1 253.5L320.9 255.2L321.7 256.8L322.5 258.5L323.3 260.1L324.1 261.7L324.9 263.2L325.6 264.6L326.4 265.8L327.2 266.8L328.0 267.6L328.8 268.1L329.6 268.5L330.4 268.7L331.2 268.9L332.0 269.0L332.8 269.1L333.6 269.2L334.4 269.4L335.1 269.6L335.9 269.9L336.7 270.3L337.5 270.8L338.3 271.4L339.1 272.2L339.9 273.1L340.7 274.1L340.68 285.48Z" fill="#D39200"/><path d="M246.5 282.04L247.3 282.12L248.1 282.19L248.9 282.24L249.7 282.25L250.5 282.23L251.3 282.18L252.0 282.10L252.8 281.99L253.6 281.80L254.4 281.53L255.2 281.18L256.0 280.78L256.8 280.32L257.6 279.83L258.4 279.28L259.2 278.65L260.0 277.94L260.7 277.16L261.5 276.32L262.3 275.44L263.1 274.50L263.9 273.50L264.7 272.39L265.5 271.19L266.3 269.87L267.1 268.44L267.9 266.89L268.7 265.21L269.5 263.42L270.2 261.51L271.0 259.49L271.8 257.35L272.6 255.09L273.4 252.72L274.2 250.25L275.0 247.72L275.8 245.15L276.6 242.59L277.4 240.05L278.2 237.57L279.0 235.16L279.7 232.79L280.5 230.48L281.3 228.21L282.1 226.01L282.9 223.86L283.7 221.81L284.5 219.99L285.3 218.44L286.1 217.14L286.9 216.07L287.7 215.20L288.4 214.51L289.2 214.00L290.0 213.64L290.8 213.44L291.6 213.36L292.4 213.30L293.2 213.32L294.0 213.52L294.8 213.93L295.6 214.41L296.4 214.90L297.2 215.41L297.9 215.92L298.7 216.47L299.5 217.05L300.3 217.65L301.1 218.30L301.9 219.02L302.7 219.80L303.5 220.67L304.3 221.62L305.1 222.66L305.9 223.78L306.7 224.99L307.4 226.28L308.2 227.63L309.0 229.05L309.8 230.56L310.6 232.17L311.4 233.86L312.2 235.60L313.0 237.38L313.8 239.18L314.6 240.98L315.4 242.79L316.1 244.61L316.9 246.43L317.7 248.23L318.5 250.02L319.3 251.77L320.1 253.49L320.9 255.18L321.7 256.84L322.5 258.48L323.3 260.08L324.1 261.66L324.9 263.19L325.6 264.60L326.4 265.82L327.2 266.84L328.0 267.62L328.8 268.13L329.6 268.47L330.4 268.69L331.2 268.85L332.0 268.97L332.8 269.10L333.6 269.25L334.4 269.42L335.1 269.64L335.9 269.92L336.7 270.31L337.5 270.82L338.3 271.45L339.1 272.21L339.9 273.12L340.7 274.12" fill="none" stroke="#000" stroke-width="0.95" stroke-linejoin="round"/>
<path d="M246.50 285.48L246.5 281.9L247.3 282.0L248.1 282.0L248.9 282.0L249.7 282.0L250.5 282.0L251.3 281.9L252.0 281.8L252.8 281.7L253.6 281.5L254.4 281.2L255.2 280.8L256.0 280.3L256.8 279.8L257.6 279.2L258.4 278.6L259.2 278.0L260.0 277.3L260.7 276.5L261.5 275.6L262.3 274.8L263.1 273.8L263.9 272.9L264.7 271.9L265.5 270.8L266.3 269.6L267.1 268.3L267.9 266.8L268.7 265.3L269.5 263.6L270.2 261.8L271.0 259.9L271.8 257.9L272.6 255.7L273.4 253.4L274.2 251.0L275.0 248.5L275.8 245.9L276.6 243.4L277.4 240.8L278.2 238.3L279.0 235.8L279.7 233.4L280.5 231.0L281.3 228.7L282.1 226.5L282.9 224.3L283.7 222.2L284.5 220.3L285.3 218.6L286.1 217.3L286.9 216.2L287.7 215.3L288.4 214.6L289.2 214.1L290.0 213.7L290.8 213.6L291.6 213.5L292.4 213.5L293.2 213.7L294.0 214.0L294.8 214.6L295.6 215.3L296.4 216.0L297.2 216.8L297.9 217.6L298.7 218.5L299.5 219.4L300.3 220.2L301.1 221.1L301.9 222.0L302.7 222.9L303.5 223.9L304.3 224.8L305.1 225.7L305.9 226.7L306.7 227.7L307.4 228.8L308.2 229.9L309.0 231.1L309.8 232.4L310.6 233.8L311.4 235.4L312.2 237.0L313.0 238.7L313.8 240.4L314.6 242.1L315.4 243.9L316.1 245.7L316.9 247.6L317.7 249.4L318.5 251.2L319.3 252.9L320.1 254.6L320.9 256.3L321.7 258.0L322.5 259.7L323.3 261.3L324.1 262.8L324.9 264.3L325.6 265.6L326.4 266.7L327.2 267.6L328.0 268.2L328.8 268.7L329.6 269.0L330.4 269.4L331.2 269.7L332.0 270.1L332.8 270.5L333.6 270.9L334.4 271.4L335.1 271.8L335.9 272.3L336.7 272.8L337.5 273.3L338.3 273.9L339.1 274.6L339.9 275.4L340.7 276.2L340.68 285.48Z" fill="#00BA38"/><path d="M246.5 281.87L247.3 281.95L248.1 282.01L248.9 282.04L249.7 282.05L250.5 282.01L251.3 281.94L252.0 281.82L252.8 281.66L253.6 281.45L254.4 281.16L255.2 280.78L256.0 280.32L256.8 279.81L257.6 279.24L258.4 278.64L259.2 277.99L260.0 277.27L260.7 276.48L261.5 275.63L262.3 274.75L263.1 273.84L263.9 272.90L264.7 271.88L265.5 270.77L266.3 269.57L267.1 268.27L267.9 266.84L268.7 265.30L269.5 263.63L270.2 261.84L271.0 259.92L271.8 257.88L272.6 255.71L273.4 253.41L274.2 251.00L275.0 248.50L275.8 245.94L276.6 243.37L277.4 240.80L278.2 238.28L279.0 235.82L279.7 233.41L280.5 231.05L281.3 228.74L282.1 226.48L282.9 224.28L283.7 222.17L284.5 220.26L285.3 218.65L286.1 217.29L286.9 216.18L287.7 215.28L288.4 214.58L289.2 214.06L290.0 213.72L290.8 213.55L291.6 213.52L292.4 213.53L293.2 213.67L294.0 214.01L294.8 214.60L295.6 215.30L296.4 216.04L297.2 216.81L297.9 217.63L298.7 218.49L299.5 219.36L300.3 220.25L301.1 221.14L301.9 222.04L302.7 222.95L303.5 223.86L304.3 224.79L305.1 225.73L305.9 226.71L306.7 227.72L307.4 228.77L308.2 229.89L309.0 231.08L309.8 232.39L310.6 233.82L311.4 235.35L312.2 236.97L313.0 238.65L313.8 240.38L314.6 242.14L315.4 243.93L316.1 245.74L316.9 247.56L317.7 249.37L318.5 251.15L319.3 252.91L320.1 254.64L320.9 256.34L321.7 258.01L322.5 259.65L323.3 261.26L324.1 262.84L324.9 264.31L325.6 265.60L326.4 266.70L327.2 267.58L328.0 268.21L328.8 268.67L329.6 269.04L330.4 269.37L331.2 269.71L332.0 270.09L332.8 270.50L333.6 270.94L334.4 271.38L335.1 271.83L335.9 272.29L336.7 272.78L337.5 273.31L338.3 273.91L339.1 274.60L339.9 275.37L340.7 276.20" fill="none" stroke="#000" stroke-width="0.95" stroke-linejoin="round"/>
<path d="M246.50 285.48L246.5 282.1L247.3 282.2L248.1 282.2L248.9 282.3L249.7 282.2L250.5 282.2L251.3 282.2L252.0 282.1L252.8 281.9L253.6 281.7L254.4 281.4L255.2 281.0L256.0 280.6L256.8 280.1L257.6 279.6L258.4 279.0L259.2 278.4L260.0 277.7L260.7 276.9L261.5 276.0L262.3 275.1L263.1 274.2L263.9 273.2L264.7 272.0L265.5 270.8L266.3 269.5L267.1 268.0L267.9 266.4L268.7 264.8L269.5 262.9L270.2 261.0L271.0 259.0L271.8 256.8L272.6 254.6L273.4 252.2L274.2 249.7L275.0 247.2L275.8 244.7L276.6 242.1L277.4 239.6L278.2 237.2L279.0 234.8L279.7 232.5L280.5 230.2L281.3 228.0L282.1 225.8L282.9 223.6L283.7 221.6L284.5 219.9L285.3 218.3L286.1 217.1L286.9 216.0L287.7 215.2L288.4 214.5L289.2 214.0L290.0 213.7L290.8 213.6L291.6 213.5L292.4 213.5L293.2 213.7L294.0 214.0L294.8 214.5L295.6 215.2L296.4 215.9L297.2 216.7L297.9 217.5L298.7 218.3L299.5 219.1L300.3 220.0L301.1 220.8L301.9 221.7L302.7 222.6L303.5 223.5L304.3 224.4L305.1 225.3L305.9 226.2L306.7 227.2L307.4 228.2L308.2 229.2L309.0 230.4L309.8 231.6L310.6 232.9L311.4 234.3L312.2 235.8L313.0 237.4L313.8 239.1L314.6 240.7L315.4 242.5L316.1 244.2L316.9 246.0L317.7 247.7L318.5 249.5L319.3 251.2L320.1 252.9L320.9 254.6L321.7 256.3L322.5 257.9L323.3 259.5L324.1 261.1L324.9 262.6L325.6 264.1L326.4 265.4L327.2 266.5L328.0 267.4L328.8 268.1L329.6 268.5L330.4 268.9L331.2 269.3L332.0 269.6L332.8 269.9L333.6 270.3L334.4 270.7L335.1 271.2L335.9 271.6L336.7 272.0L337.5 272.5L338.3 273.0L339.1 273.5L339.9 274.1L340.7 274.8L340.68 285.48Z" fill="#00C19F"/><path d="M246.5 282.09L247.3 282.16L248.1 282.22L248.9 282.25L249.7 282.25L250.5 282.21L251.3 282.15L252.0 282.06L252.8 281.91L253.6 281.69L254.4 281.39L255.2 281.02L256.0 280.59L256.8 280.13L257.6 279.62L258.4 279.05L259.2 278.39L260.0 277.67L260.7 276.87L261.5 276.03L262.3 275.14L263.1 274.19L263.9 273.16L264.7 272.04L265.5 270.81L266.3 269.47L267.1 268.02L267.9 266.44L268.7 264.75L269.5 262.94L270.2 261.02L271.0 258.99L271.8 256.84L272.6 254.57L273.4 252.20L274.2 249.74L275.0 247.23L275.8 244.69L276.6 242.15L277.4 239.64L278.2 237.19L279.0 234.81L279.7 232.47L280.5 230.19L281.3 227.95L282.1 225.77L282.9 223.64L283.7 221.64L284.5 219.86L285.3 218.34L286.1 217.07L286.9 216.03L287.7 215.19L288.4 214.52L289.2 214.03L290.0 213.71L290.8 213.55L291.6 213.52L292.4 213.53L293.2 213.66L294.0 213.98L294.8 214.54L295.6 215.20L296.4 215.91L297.2 216.66L297.9 217.45L298.7 218.27L299.5 219.12L300.3 219.98L301.1 220.85L301.9 221.72L302.7 222.60L303.5 223.49L304.3 224.38L305.1 225.29L305.9 226.22L306.7 227.18L307.4 228.19L308.2 229.24L309.0 230.35L309.8 231.55L310.6 232.87L311.4 234.30L312.2 235.82L313.0 237.41L313.8 239.06L314.6 240.75L315.4 242.47L316.1 244.21L316.9 245.97L317.7 247.74L318.5 249.50L319.3 251.24L320.1 252.95L320.9 254.63L321.7 256.28L322.5 257.90L323.3 259.50L324.1 261.08L324.9 262.62L325.6 264.06L326.4 265.35L327.2 266.46L328.0 267.37L328.8 268.05L329.6 268.54L330.4 268.92L331.2 269.26L332.0 269.58L332.8 269.92L333.6 270.31L334.4 270.73L335.1 271.16L335.9 271.59L336.7 272.03L337.5 272.49L338.3 272.98L339.1 273.52L339.9 274.14L340.7 274.84" fill="none" stroke="#000" stroke-width="0.95" stroke-linejoin="round"/>
<path d="M246.50 285.48L246.5 281.9L247.3 282.0L248.1 282.1L248.9 282.2L249.7 282.2L250.5 282.3L251.3 282.2L252.0 282.2L252.8 282.1L253.6 282.0L254.4 281.8L255.2 281.6L256.0 281.2L256.8 280.8L257.6 280.4L258.4 279.9L259.2 279.3L260.0 278.7L260.7 277.9L261.5 277.1L262.3 276.3L263.1 275.3L263.9 274.4L264.7 273.3L265.5 272.2L266.3 270.9L267.1 269.6L267.9 268.1L268.7 266.4L269.5 264.7L270.2 262.8L271.0 260.8L271.8 258.7L272.6 256.4L273.4 254.1L274.2 251.6L275.0 249.0L275.8 246.4L276.6 243.7L277.4 241.1L278.2 238.4L279.0 235.9L279.7 233.3L280.5 230.8L281.3 228.2L282.1 225.7L282.9 223.3L283.7 220.8L284.5 218.5L285.3 216.5L286.1 214.8L286.9 213.3L287.7 212.0L288.4 211.0L289.2 210.2L290.0 209.7L290.8 209.5L291.6 209.4L292.4 209.6L293.2 209.9L294.0 210.5L294.8 211.4L295.6 212.5L296.4 213.6L297.2 214.7L297.9 215.9L298.7 217.1L299.5 218.3L300.3 219.4L301.1 220.5L301.9 221.6L302.7 222.7L303.5 223.7L304.3 224.7L305.1 225.7L305.9 226.7L306.7 227.8L307.4 228.9L308.2 230.0L309.0 231.2L309.8 232.6L310.6 234.0L311.4 235.6L312.2 237.2L313.0 238.9L313.8 240.7L314.6 242.5L315.4 244.3L316.1 246.1L316.9 247.9L317.7 249.7L318.5 251.5L319.3 253.3L320.1 255.0L320.9 256.7L321.7 258.4L322.5 260.0L323.3 261.7L324.1 263.2L324.9 264.7L325.6 265.9L326.4 267.0L327.2 267.8L328.0 268.4L328.8 268.8L329.6 269.1L330.4 269.5L331.2 269.8L332.0 270.2L332.8 270.6L333.6 271.1L334.4 271.5L335.1 272.0L335.9 272.5L336.7 273.0L337.5 273.5L338.3 274.2L339.1 274.9L339.9 275.7L340.7 276.5L340.68 285.48Z" fill="#00B9E3"/><path d="M246.5 281.90L247.3 282.01L248.1 282.09L248.9 282.17L249.7 282.23L250.5 282.25L251.3 282.24L252.0 282.20L252.8 282.13L253.6 282.02L254.4 281.85L255.2 281.58L256.0 281.23L256.8 280.82L257.6 280.36L258.4 279.86L259.2 279.30L260.0 278.65L260.7 277.92L261.5 277.12L262.3 276.26L263.1 275.35L263.9 274.39L264.7 273.34L265.5 272.19L266.3 270.94L267.1 269.56L267.9 268.07L268.7 266.44L269.5 264.69L270.2 262.81L271.0 260.81L271.8 258.69L272.6 256.44L273.4 254.07L274.2 251.59L275.0 249.01L275.8 246.38L276.6 243.72L277.4 241.06L278.2 238.43L279.0 235.85L279.7 233.30L280.5 230.76L281.3 228.24L282.1 225.74L282.9 223.25L283.7 220.82L284.5 218.54L285.3 216.53L286.1 214.79L286.9 213.29L287.7 212.03L288.4 211.01L289.2 210.24L290.0 209.73L290.8 209.47L291.6 209.45L292.4 209.56L293.2 209.89L294.0 210.49L294.8 211.41L295.6 212.46L296.4 213.58L297.2 214.74L297.9 215.92L298.7 217.11L299.5 218.29L300.3 219.43L301.1 220.54L301.9 221.62L302.7 222.67L303.5 223.70L304.3 224.71L305.1 225.72L305.9 226.74L306.7 227.79L307.4 228.88L308.2 230.02L309.0 231.24L309.8 232.58L310.6 234.04L311.4 235.60L312.2 237.24L313.0 238.94L313.8 240.69L314.6 242.46L315.4 244.27L316.1 246.09L316.9 247.92L317.7 249.74L318.5 251.53L319.3 253.29L320.1 255.02L320.9 256.72L321.7 258.40L322.5 260.05L323.3 261.66L324.1 263.24L324.9 264.67L325.6 265.93L326.4 266.98L327.2 267.81L328.0 268.37L328.8 268.79L329.6 269.14L330.4 269.48L331.2 269.82L332.0 270.21L332.8 270.64L333.6 271.08L334.4 271.52L335.1 271.98L335.9 272.46L336.7 272.97L337.5 273.52L338.3 274.16L339.1 274.88L339.9 275.68L340.7 276.54" fill="none" stroke="#000" stroke-width="0.95" stroke-linejoin="round"/>
<path d="M246.50 285.48L246.5 282.0L247.3 282.1L248.1 282.2L248.9 282.2L249.7 282.3L250.5 282.2L251.3 282.2L252.0 282.1L252.8 282.1L253.6 281.9L254.4 281.7L255.2 281.3L256.0 280.9L256.8 280.5L257.6 280.0L258.4 279.5L259.2 278.9L260.0 278.2L260.7 277.4L261.5 276.6L262.3 275.7L263.1 274.8L263.9 273.8L264.7 272.8L265.5 271.6L266.3 270.3L267.1 268.9L267.9 267.3L268.7 265.7L269.5 263.9L270.2 262.0L271.0 260.0L271.8 257.9L272.6 255.6L273.4 253.2L274.2 250.8L275.0 248.2L275.8 245.6L276.6 243.0L277.4 240.5L278.2 238.0L279.0 235.5L279.7 233.1L280.5 230.8L281.3 228.5L282.1 226.2L282.9 224.1L283.7 222.0L284.5 220.1L285.3 218.5L286.1 217.2L286.9 216.1L287.7 215.3L288.4 214.6L289.2 214.1L290.0 213.7L290.8 213.6L291.6 213.5L292.4 213.5L293.2 213.7L294.0 214.0L294.8 214.6L295.6 215.3L296.4 216.0L297.2 216.8L297.9 217.6L298.7 218.4L299.5 219.3L300.3 220.2L301.1 221.0L301.9 221.9L302.7 222.8L303.5 223.7L304.3 224.7L305.1 225.6L305.9 226.5L306.7 227.5L307.4 228.6L308.2 229.7L309.0 230.8L309.8 232.1L310.6 233.5L311.4 235.0L312.2 236.6L313.0 238.2L313.8 239.9L314.6 241.7L315.4 243.4L316.1 245.2L316.9 247.0L317.7 248.8L318.5 250.6L319.3 252.3L320.1 254.1L320.9 255.8L321.7 257.4L322.5 259.1L323.3 260.7L324.1 262.2L324.9 263.7L325.6 265.1L326.4 266.3L327.2 267.2L328.0 268.0L328.8 268.5L329.6 268.9L330.4 269.2L331.2 269.6L332.0 269.9L332.8 270.3L333.6 270.7L334.4 271.2L335.1 271.6L335.9 272.0L336.7 272.5L337.5 273.0L338.3 273.6L339.1 274.2L339.9 274.9L340.7 275.7L340.68 285.48Z" fill="#619CFF"/><path d="M246.5 282.00L247.3 282.08L248.1 282.16L248.9 282.22L249.7 282.25L250.5 282.25L251.3 282.21L252.0 282.15L252.8 282.05L253.6 281.90L254.4 281.66L255.2 281.34L256.0 280.95L256.8 280.51L257.6 280.03L258.4 279.50L259.2 278.89L260.0 278.21L260.7 277.45L261.5 276.62L262.3 275.75L263.1 274.82L263.9 273.83L264.7 272.75L265.5 271.57L266.3 270.28L267.1 268.87L267.9 267.34L268.7 265.68L269.5 263.91L270.2 262.01L271.0 259.99L271.8 257.85L272.6 255.60L273.4 253.23L274.2 250.75L275.0 248.21L275.8 245.63L276.6 243.04L277.4 240.47L278.2 237.96L279.0 235.51L279.7 233.12L280.5 230.78L281.3 228.48L282.1 226.25L282.9 224.07L283.7 222.00L284.5 220.13L285.3 218.54L286.1 217.22L286.9 216.13L287.7 215.25L288.4 214.56L289.2 214.05L290.0 213.72L290.8 213.55L291.6 213.52L292.4 213.53L293.2 213.66L294.0 214.00L294.8 214.58L295.6 215.26L296.4 215.99L297.2 216.76L297.9 217.57L298.7 218.41L299.5 219.28L300.3 220.16L301.1 221.04L301.9 221.93L302.7 222.83L303.5 223.74L304.3 224.65L305.1 225.58L305.9 226.54L306.7 227.53L307.4 228.57L308.2 229.66L309.0 230.83L309.8 232.09L310.6 233.49L311.4 234.98L312.2 236.57L313.0 238.22L313.8 239.93L314.6 241.66L315.4 243.43L316.1 245.22L316.9 247.02L317.7 248.82L318.5 250.59L319.3 252.34L320.1 254.06L320.9 255.76L321.7 257.42L322.5 259.06L323.3 260.67L324.1 262.25L324.9 263.75L325.6 265.10L326.4 266.27L327.2 267.24L328.0 267.97L328.8 268.49L329.6 268.88L330.4 269.22L331.2 269.55L332.0 269.90L332.8 270.30L333.6 270.72L334.4 271.15L335.1 271.59L335.9 272.05L336.7 272.52L337.5 273.02L338.3 273.57L339.1 274.21L339.9 274.93L340.7 275.72" fill="none" stroke="#000" stroke-width="0.95" stroke-linejoin="round"/>
<path d="M246.50 285.48L246.5 281.8L247.3 281.9L248.1 282.0L248.9 282.1L249.7 282.2L250.5 282.2L251.3 282.3L252.0 282.2L252.8 282.2L253.6 282.1L254.4 282.0L255.2 281.7L256.0 281.4L256.8 281.1L257.6 280.6L258.4 280.1L259.2 279.6L260.0 279.0L260.7 278.3L261.5 277.5L262.3 276.7L263.1 275.8L263.9 274.8L264.7 273.8L265.5 272.7L266.3 271.5L267.1 270.1L267.9 268.7L268.7 267.1L269.5 265.3L270.2 263.5L271.0 261.5L271.8 259.4L272.6 257.2L273.4 254.8L274.2 252.3L275.0 249.7L275.8 247.1L276.6 244.4L277.4 241.8L278.2 239.2L279.0 236.6L279.7 234.1L280.5 231.7L281.3 229.3L282.1 227.0L282.9 224.7L283.7 222.6L284.5 220.6L285.3 218.9L286.1 217.4L286.9 216.3L287.7 215.4L288.4 214.6L289.2 214.1L290.0 213.7L290.8 213.6L291.6 213.5L292.4 213.5L293.2 213.7L294.0 214.0L294.8 214.7L295.6 215.4L296.4 216.1L297.2 216.9L297.9 217.8L298.7 218.6L299.5 219.5L300.3 220.4L301.1 221.3L301.9 222.3L302.7 223.2L303.5 224.1L304.3 225.1L305.1 226.0L305.9 227.0L306.7 228.1L307.4 229.2L308.2 230.3L309.0 231.6L309.8 233.0L310.6 234.5L311.4 236.1L312.2 237.8L313.0 239.5L313.8 241.3L314.6 243.1L315.4 245.0L316.1 246.8L316.9 248.7L317.7 250.5L318.5 252.3L319.3 254.1L320.1 255.8L320.9 257.5L321.7 259.2L322.5 260.8L323.3 262.5L324.1 264.0L324.9 265.4L325.6 266.5L326.4 267.4L327.2 268.1L328.0 268.6L328.8 269.0L329.6 269.3L330.4 269.7L331.2 270.1L332.0 270.5L332.8 270.9L333.6 271.4L334.4 271.8L335.1 272.3L335.9 272.8L336.7 273.4L337.5 274.0L338.3 274.7L339.1 275.5L339.9 276.3L340.7 277.2L340.68 285.48Z" fill="#DB72FB"/><path d="M246.5 281.80L247.3 281.93L248.1 282.03L248.9 282.12L249.7 282.19L250.5 282.24L251.3 282.25L252.0 282.23L252.8 282.17L253.6 282.09L254.4 281.95L255.2 281.74L256.0 281.43L256.8 281.05L257.6 280.61L258.4 280.12L259.2 279.59L260.0 278.98L260.7 278.29L261.5 277.51L262.3 276.67L263.1 275.77L263.9 274.82L264.7 273.80L265.5 272.68L266.3 271.46L267.1 270.12L267.9 268.65L268.7 267.06L269.5 265.33L270.2 263.47L271.0 261.49L271.8 259.38L272.6 257.15L273.4 254.79L274.2 252.32L275.0 249.74L275.8 247.10L276.6 244.44L277.4 241.78L278.2 239.17L279.0 236.62L279.7 234.14L280.5 231.70L281.3 229.32L282.1 227.00L282.9 224.74L283.7 222.56L284.5 220.56L285.3 218.86L286.1 217.45L286.9 216.29L287.7 215.35L288.4 214.62L289.2 214.08L290.0 213.73L290.8 213.55L291.6 213.52L292.4 213.53L293.2 213.67L294.0 214.03L294.8 214.65L295.6 215.36L296.4 216.12L297.2 216.92L297.9 217.76L298.7 218.63L299.5 219.53L300.3 220.43L301.1 221.34L301.9 222.26L302.7 223.19L303.5 224.12L304.3 225.07L305.1 226.04L305.9 227.04L306.7 228.09L307.4 229.19L308.2 230.35L309.0 231.61L309.8 233.00L310.6 234.51L311.4 236.11L312.2 237.80L313.0 239.54L313.8 241.31L314.6 243.13L315.4 244.96L316.1 246.81L316.9 248.66L317.7 250.49L318.5 252.29L319.3 254.06L320.1 255.80L320.9 257.51L321.7 259.20L322.5 260.85L323.3 262.47L324.1 263.99L324.9 265.35L325.6 266.51L326.4 267.44L327.2 268.13L328.0 268.61L328.8 269.00L329.6 269.35L330.4 269.69L331.2 270.07L332.0 270.49L332.8 270.93L333.6 271.38L334.4 271.84L335.1 272.31L335.9 272.82L336.7 273.36L337.5 273.98L338.3 274.69L339.1 275.48L339.9 276.34L340.7 277.24" fill="none" stroke="#000" stroke-width="0.95" stroke-linejoin="round"/>
<path d="M246.50 285.88L246.5 281.7L247.3 281.9L248.1 282.0L248.9 282.1L249.7 282.2L250.5 282.2L251.3 282.3L252.0 282.2L252.8 282.2L253.6 282.1L254.4 282.0L255.2 281.9L256.0 281.6L256.8 281.2L257.6 280.8L258.4 280.3L259.2 279.8L260.0 279.2L260.7 278.6L261.5 277.8L262.3 277.0L263.1 276.1L263.9 275.2L264.7 274.2L265.5 273.1L266.3 271.9L267.1 270.5L267.9 269.1L268.7 267.5L269.5 265.8L270.2 264.0L271.0 262.0L271.8 259.9L272.6 257.7L273.4 255.3L274.2 252.9L275.0 250.3L275.8 247.6L276.6 244.9L277.4 242.2L278.2 239.6L279.0 237.0L279.7 234.5L280.5 232.0L281.3 229.6L282.1 227.3L282.9 225.0L283.7 222.8L284.5 220.7L285.3 219.0L286.1 217.5L286.9 216.3L287.7 215.4L288.4 214.6L289.2 214.1L290.0 213.7L290.8 213.6L291.6 213.5L292.4 213.5L293.2 213.7L294.0 214.0L294.8 214.7L295.6 215.4L296.4 216.2L297.2 217.0L297.9 217.8L298.7 218.7L299.5 219.6L300.3 220.5L301.1 221.4L301.9 222.4L302.7 223.3L303.5 224.3L304.3 225.2L305.1 226.2L305.9 227.2L306.7 228.3L307.4 229.4L308.2 230.6L309.0 231.9L309.8 233.3L310.6 234.9L311.4 236.5L312.2 238.2L313.0 240.0L313.8 241.8L314.6 243.6L315.4 245.5L316.1 247.4L316.9 249.2L317.7 251.1L318.5 252.9L319.3 254.7L320.1 256.4L320.9 258.1L321.7 259.8L322.5 261.5L323.3 263.1L324.1 264.6L324.9 265.9L325.6 267.0L326.4 267.8L327.2 268.4L328.0 268.8L328.8 269.2L329.6 269.5L330.4 269.9L331.2 270.3L332.0 270.7L332.8 271.2L333.6 271.6L334.4 272.1L335.1 272.6L335.9 273.1L336.7 273.7L337.5 274.4L338.3 275.1L339.1 276.0L339.9 276.9L340.7 277.8L340.68 285.88Z" fill="#FF61C3"/><path d="M246.5 281.71L247.3 281.87L248.1 281.99L248.9 282.08L249.7 282.16L250.5 282.22L251.3 282.25L252.0 282.25L252.8 282.21L253.6 282.13L254.4 282.03L255.2 281.86L256.0 281.58L256.8 281.23L257.6 280.81L258.4 280.33L259.2 279.81L260.0 279.24L260.7 278.57L261.5 277.81L262.3 276.98L263.1 276.09L263.9 275.15L264.7 274.15L265.5 273.06L266.3 271.86L267.1 270.54L267.9 269.10L268.7 267.53L269.5 265.82L270.2 263.98L271.0 262.01L271.8 259.91L272.6 257.69L273.4 255.34L274.2 252.86L275.0 250.27L275.8 247.62L276.6 244.93L277.4 242.24L278.2 239.58L279.0 237.00L279.7 234.49L280.5 232.02L281.3 229.61L282.1 227.26L282.9 224.98L283.7 222.75L284.5 220.71L285.3 218.97L286.1 217.53L286.9 216.34L287.7 215.39L288.4 214.64L289.2 214.09L290.0 213.73L290.8 213.55L291.6 213.52L292.4 213.53L293.2 213.68L294.0 214.04L294.8 214.67L295.6 215.40L296.4 216.16L297.2 216.97L297.9 217.82L298.7 218.71L299.5 219.62L300.3 220.53L301.1 221.45L301.9 222.38L302.7 223.31L303.5 224.26L304.3 225.22L305.1 226.20L305.9 227.22L306.7 228.28L307.4 229.40L308.2 230.59L309.0 231.88L309.8 233.31L310.6 234.86L311.4 236.50L312.2 238.22L313.0 239.99L313.8 241.79L314.6 243.63L315.4 245.49L316.1 247.36L316.9 249.23L317.7 251.07L318.5 252.88L319.3 254.65L320.1 256.40L320.9 258.12L321.7 259.80L322.5 261.46L323.3 263.08L324.1 264.57L324.9 265.87L325.6 266.95L326.4 267.80L327.2 268.38L328.0 268.80L328.8 269.16L329.6 269.50L330.4 269.86L331.2 270.26L332.0 270.71L332.8 271.15L333.6 271.61L334.4 272.08L335.1 272.57L335.9 273.10L336.7 273.68L337.5 274.36L338.3 275.12L339.1 275.96L339.9 276.86L340.7 277.79" fill="none" stroke="#000" stroke-width="0.95" stroke-linejoin="round"/>
</g>
<g clip-path="url(#cp33)">
<path d="M354.50 377.48L354.5 376.9L355.3 376.8L356.1 376.5L356.9 376.2L357.7 375.6L358.5 375.0L359.3 374.3L360.0 373.5L360.8 372.7L361.6 371.9L362.4 371.0L363.2 370.0L364.0 369.1L364.8 368.2L365.6 367.3L366.4 366.4L367.2 365.5L368.0 364.6L368.7 363.7L369.5 362.7L370.3 361.8L371.1 360.9L371.9 360.0L372.7 359.1L373.5 358.1L374.3 357.0L375.1 356.0L375.9 354.8L376.7 353.7L377.5 352.4L378.2 351.1L379.0 349.7L379.8 348.2L380.6 346.7L381.4 345.1L382.2 343.5L383.0 341.8L383.8 340.1L384.6 338.3L385.4 336.6L386.2 334.9L387.0 333.4L387.7 331.9L388.5 330.5L389.3 329.2L390.1 328.1L390.9 327.1L391.7 326.2L392.5 325.6L393.3 325.1L394.1 324.8L394.9 324.5L395.7 324.3L396.4 324.0L397.2 323.7L398.0 323.3L398.8 322.8L399.6 322.1L400.4 321.0L401.2 319.7L402.0 318.3L402.8 316.8L403.6 315.2L404.4 313.7L405.2 312.1L405.9 310.5L406.7 308.9L407.5 307.4L408.3 305.9L409.1 304.5L409.9 303.1L410.7 301.7L411.5 300.4L412.3 299.4L413.1 298.8L413.9 298.4L414.7 298.2L415.4 298.2L416.2 298.6L417.0 299.3L417.8 300.4L418.6 301.8L419.4 303.5L420.2 305.7L421.0 308.4L421.8 311.6L422.6 315.0L423.4 318.6L424.1 322.2L424.9 326.0L425.7 329.9L426.5 333.9L427.3 337.8L428.1 341.6L428.9 345.0L429.7 348.2L430.5 351.2L431.3 353.9L432.1 356.5L432.9 358.8L433.6 361.0L434.4 363.0L435.2 364.9L436.0 366.7L436.8 368.4L437.6 369.9L438.4 371.2L439.2 372.2L440.0 373.0L440.8 373.5L441.6 374.0L442.4 374.4L443.1 374.7L443.9 374.9L444.7 375.1L445.5 375.2L446.3 375.3L447.1 375.4L447.9 375.4L448.7 375.4L448.68 377.48Z" fill="#F8766D"/><path d="M354.5 376.93L355.3 376.79L356.1 376.54L356.9 376.16L357.7 375.60L358.5 374.96L359.3 374.27L360.0 373.53L360.8 372.73L361.6 371.86L362.4 370.95L363.2 370.04L364.0 369.13L364.8 368.22L365.6 367.30L366.4 366.39L367.2 365.48L368.0 364.57L368.7 363.65L369.5 362.74L370.3 361.83L371.1 360.92L371.9 360.00L372.7 359.05L373.5 358.06L374.3 357.03L375.1 355.96L375.9 354.85L376.7 353.69L377.5 352.45L378.2 351.11L379.0 349.69L379.8 348.20L380.6 346.67L381.4 345.11L382.2 343.49L383.0 341.81L383.8 340.08L384.6 338.34L385.4 336.61L386.2 334.94L387.0 333.35L387.7 331.87L388.5 330.49L389.3 329.22L390.1 328.07L390.9 327.07L391.7 326.25L392.5 325.59L393.3 325.11L394.1 324.78L394.9 324.54L395.7 324.31L396.4 324.02L397.2 323.68L398.0 323.30L398.8 322.80L399.6 322.05L400.4 321.01L401.2 319.73L402.0 318.29L402.8 316.76L403.6 315.22L404.4 313.66L405.2 312.08L405.9 310.51L406.7 308.94L407.5 307.41L408.3 305.92L409.1 304.49L409.9 303.10L410.7 301.75L411.5 300.44L412.3 299.43L413.1 298.78L413.9 298.40L414.7 298.18L415.4 298.18L416.2 298.56L417.0 299.29L417.8 300.37L418.6 301.77L419.4 303.52L420.2 305.71L421.0 308.43L421.8 311.63L422.6 315.03L423.4 318.56L424.1 322.20L424.9 325.98L425.7 329.91L426.5 333.90L427.3 337.83L428.1 341.56L428.9 345.02L429.7 348.22L430.5 351.17L431.3 353.92L432.1 356.46L432.9 358.81L433.6 360.99L434.4 363.01L435.2 364.90L436.0 366.70L436.8 368.39L437.6 369.92L438.4 371.22L439.2 372.23L440.0 372.96L440.8 373.54L441.6 374.01L442.4 374.39L443.1 374.69L443.9 374.91L444.7 375.07L445.5 375.20L446.3 375.31L447.1 375.39L447.9 375.42L448.7 375.39" fill="none" stroke="#000" stroke-width="0.95" stroke-linejoin="round"/>
<path d="M354.50 377.48L354.5 373.2L355.3 372.7L356.1 372.2L356.9 371.7L357.7 371.3L358.5 370.9L359.3 370.5L360.0 370.1L360.8 369.7L361.6 369.1L362.4 368.6L363.2 368.0L364.0 367.3L364.8 366.6L365.6 365.8L366.4 365.0L367.2 364.1L368.0 363.3L368.7 362.4L369.5 361.5L370.3 360.6L371.1 359.7L371.9 358.8L372.7 357.8L373.5 356.8L374.3 355.8L375.1 354.7L375.9 353.5L376.7 352.3L377.5 351.0L378.2 349.6L379.0 348.1L379.8 346.6L380.6 345.0L381.4 343.4L382.2 341.6L383.0 339.8L383.8 337.9L384.6 335.9L385.4 333.8L386.2 331.8L387.0 329.7L387.7 327.5L388.5 325.4L389.3 323.2L390.1 321.1L390.9 319.1L391.7 317.3L392.5 315.8L393.3 314.6L394.1 313.7L394.9 313.1L395.7 312.7L396.4 312.6L397.2 312.7L398.0 313.0L398.8 313.3L399.6 313.5L400.4 313.5L401.2 313.3L402.0 312.9L402.8 312.4L403.6 311.7L404.4 310.9L405.2 310.0L405.9 308.9L406.7 307.7L407.5 306.5L408.3 305.3L409.1 304.0L409.9 302.8L410.7 301.5L411.5 300.3L412.3 299.3L413.1 298.7L413.9 298.4L414.7 298.2L415.4 298.2L416.2 298.5L417.0 299.2L417.8 300.3L418.6 301.6L419.4 303.3L420.2 305.3L421.0 307.9L421.8 310.9L422.6 314.2L423.4 317.6L424.1 321.1L424.9 324.7L425.7 328.5L426.5 332.2L427.3 335.9L428.1 339.3L428.9 342.3L429.7 344.9L430.5 347.2L431.3 349.0L432.1 350.7L432.9 352.1L433.6 353.5L434.4 354.9L435.2 356.5L436.0 358.3L436.8 360.4L437.6 362.6L438.4 364.9L439.2 367.1L440.0 368.9L440.8 370.5L441.6 371.8L442.4 372.8L443.1 373.6L443.9 374.2L444.7 374.6L445.5 374.9L446.3 375.1L447.1 375.3L447.9 375.4L448.7 375.4L448.68 377.48Z" fill="#D39200"/><path d="M354.5 373.19L355.3 372.69L356.1 372.18L356.9 371.68L357.7 371.25L358.5 370.88L359.3 370.51L360.0 370.11L360.8 369.65L361.6 369.14L362.4 368.58L363.2 367.97L364.0 367.29L364.8 366.56L365.6 365.79L366.4 364.97L367.2 364.13L368.0 363.28L368.7 362.40L369.5 361.52L370.3 360.64L371.1 359.74L371.9 358.81L372.7 357.83L373.5 356.82L374.3 355.76L375.1 354.67L375.9 353.52L376.7 352.30L377.5 350.98L378.2 349.57L379.0 348.10L379.8 346.57L380.6 345.00L381.4 343.36L382.2 341.61L383.0 339.78L383.8 337.86L384.6 335.88L385.4 333.84L386.2 331.77L387.0 329.67L387.7 327.54L388.5 325.38L389.3 323.22L390.1 321.12L390.9 319.14L391.7 317.35L392.5 315.81L393.3 314.59L394.1 313.68L394.9 313.07L395.7 312.72L396.4 312.59L397.2 312.72L398.0 313.02L398.8 313.33L399.6 313.51L400.4 313.49L401.2 313.28L402.0 312.90L402.8 312.38L403.6 311.72L404.4 310.91L405.2 309.97L405.9 308.90L406.7 307.74L407.5 306.52L408.3 305.27L409.1 304.01L409.9 302.75L410.7 301.50L411.5 300.29L412.3 299.35L413.1 298.75L413.9 298.39L414.7 298.17L415.4 298.18L416.2 298.54L417.0 299.24L417.8 300.27L418.6 301.60L419.4 303.27L420.2 305.35L421.0 307.91L421.8 310.95L422.6 314.23L423.4 317.63L424.1 321.14L424.9 324.75L425.7 328.46L426.5 332.21L427.3 335.86L428.1 339.27L428.9 342.31L429.7 344.93L430.5 347.16L431.3 349.04L432.1 350.66L432.9 352.09L433.6 353.46L434.4 354.88L435.2 356.47L436.0 358.29L436.8 360.37L437.6 362.63L438.4 364.93L439.2 367.09L440.0 368.95L440.8 370.49L441.6 371.78L442.4 372.83L443.1 373.63L443.9 374.22L444.7 374.64L445.5 374.92L446.3 375.12L447.1 375.27L447.9 375.37L448.7 375.41" fill="none" stroke="#000" stroke-width="0.95" stroke-linejoin="round"/>
<path d="M354.50 377.48L354.5 371.3L355.3 370.8L356.1 370.1L356.9 369.4L357.7 368.6L358.5 367.7L359.3 366.9L360.0 366.1L360.8 365.4L361.6 364.6L362.4 363.8L363.2 363.2L364.0 362.5L364.8 361.9L365.6 361.4L366.4 360.9L367.2 360.3L368.0 359.8L368.7 359.3L369.5 358.8L370.3 358.3L371.1 357.8L371.9 357.2L372.7 356.6L373.5 355.8L374.3 355.1L375.1 354.2L375.9 353.3L376.7 352.3L377.5 351.2L378.2 350.0L379.0 348.6L379.8 347.2L380.6 345.8L381.4 344.3L382.2 342.7L383.0 341.0L383.8 339.3L384.6 337.6L385.4 336.0L386.2 334.4L387.0 332.8L387.7 331.4L388.5 330.1L389.3 328.9L390.1 327.8L390.9 326.8L391.7 326.0L392.5 325.4L393.3 325.0L394.1 324.7L394.9 324.5L395.7 324.2L396.4 323.9L397.2 323.6L398.0 323.2L398.8 322.7L399.6 321.8L400.4 320.7L401.2 319.3L402.0 317.7L402.8 316.0L403.6 314.1L404.4 312.1L405.2 310.1L405.9 308.2L406.7 306.5L407.5 305.1L408.3 303.9L409.1 302.9L409.9 302.0L410.7 301.0L411.5 300.0L412.3 299.2L413.1 298.7L413.9 298.4L414.7 298.2L415.4 298.2L416.2 298.5L417.0 299.3L417.8 300.3L418.6 301.7L419.4 303.4L420.2 305.6L421.0 308.2L421.8 311.4L422.6 314.7L423.4 318.2L424.1 321.8L424.9 325.5L425.7 329.4L426.5 333.3L427.3 337.2L428.1 340.9L428.9 344.4L429.7 347.6L430.5 350.5L431.3 353.2L432.1 355.7L432.9 358.0L433.6 360.1L434.4 361.9L435.2 363.7L436.0 365.3L436.8 366.8L437.6 368.1L438.4 369.3L439.2 370.1L440.0 370.8L440.8 371.2L441.6 371.6L442.4 372.0L443.1 372.3L443.9 372.7L444.7 373.0L445.5 373.3L446.3 373.6L447.1 373.9L447.9 374.2L448.7 374.4L448.68 377.48Z" fill="#00BA38"/><path d="M354.5 371.31L355.3 370.76L356.1 370.12L356.9 369.37L357.7 368.55L358.5 367.74L359.3 366.94L360.0 366.14L360.8 365.35L361.6 364.58L362.4 363.84L363.2 363.16L364.0 362.52L364.8 361.93L365.6 361.38L366.4 360.85L367.2 360.34L368.0 359.84L368.7 359.33L369.5 358.83L370.3 358.31L371.1 357.77L371.9 357.19L372.7 356.55L373.5 355.85L374.3 355.07L375.1 354.22L375.9 353.31L376.7 352.31L377.5 351.20L378.2 349.96L379.0 348.63L379.8 347.23L380.6 345.77L381.4 344.27L382.2 342.69L383.0 341.04L383.8 339.35L384.6 337.65L385.4 335.97L386.2 334.35L387.0 332.82L387.7 331.39L388.5 330.07L389.3 328.85L390.1 327.76L390.9 326.82L391.7 326.05L392.5 325.45L393.3 325.02L394.1 324.72L394.9 324.49L395.7 324.24L396.4 323.94L397.2 323.60L398.0 323.21L398.8 322.66L399.6 321.85L400.4 320.72L401.2 319.33L402.0 317.73L402.8 315.96L403.6 314.07L404.4 312.08L405.2 310.09L405.9 308.20L406.7 306.51L407.5 305.09L408.3 303.92L409.1 302.92L409.9 301.98L410.7 301.03L411.5 300.03L412.3 299.21L413.1 298.69L413.9 298.37L414.7 298.17L415.4 298.18L416.2 298.55L417.0 299.27L417.8 300.33L418.6 301.70L419.4 303.42L420.2 305.56L421.0 308.22L421.8 311.36L422.6 314.71L423.4 318.19L424.1 321.79L424.9 325.51L425.7 329.38L426.5 333.32L427.3 337.22L428.1 340.94L428.9 344.40L429.7 347.58L430.5 350.51L431.3 353.22L432.1 355.70L432.9 357.98L433.6 360.05L434.4 361.95L435.2 363.68L436.0 365.29L436.8 366.78L437.6 368.12L438.4 369.26L439.2 370.14L440.0 370.76L440.8 371.22L441.6 371.62L442.4 371.99L443.1 372.33L443.9 372.65L444.7 372.96L445.5 373.27L446.3 373.59L447.1 373.90L447.9 374.18L448.7 374.39" fill="none" stroke="#000" stroke-width="0.95" stroke-linejoin="round"/>
<path d="M354.50 377.48L354.5 374.4L355.3 373.8L356.1 373.0L356.9 372.1L357.7 371.2L358.5 370.3L359.3 369.4L360.0 368.4L360.8 367.4L361.6 366.5L362.4 365.6L363.2 364.7L364.0 363.9L364.8 363.1L365.6 362.3L366.4 361.6L367.2 360.9L368.0 360.3L368.7 359.6L369.5 359.0L370.3 358.3L371.1 357.6L371.9 356.9L372.7 356.1L373.5 355.3L374.3 354.4L375.1 353.5L375.9 352.5L376.7 351.3L377.5 350.1L378.2 348.8L379.0 347.4L379.8 346.0L380.6 344.5L381.4 342.9L382.2 341.3L383.0 339.7L383.8 338.0L384.6 336.3L385.4 334.7L386.2 333.2L387.0 331.8L387.7 330.5L388.5 329.2L389.3 328.1L390.1 327.1L390.9 326.3L391.7 325.7L392.5 325.2L393.3 324.8L394.1 324.6L394.9 324.4L395.7 324.1L396.4 323.8L397.2 323.4L398.0 323.0L398.8 322.4L399.6 321.5L400.4 320.3L401.2 318.8L402.0 317.2L402.8 315.4L403.6 313.4L404.4 311.3L405.2 309.1L405.9 306.9L406.7 305.0L407.5 303.4L408.3 302.3L409.1 301.4L409.9 300.8L410.7 300.2L411.5 299.5L412.3 298.9L413.1 298.5L413.9 298.3L414.7 298.1L415.4 298.2L416.2 298.5L417.0 299.2L417.8 300.2L418.6 301.6L419.4 303.2L420.2 305.2L421.0 307.8L421.8 310.8L422.6 314.0L423.4 317.4L424.1 320.9L424.9 324.5L425.7 328.3L426.5 332.1L427.3 336.0L428.1 339.7L428.9 343.2L429.7 346.4L430.5 349.4L431.3 352.2L432.1 354.8L432.9 357.2L433.6 359.5L434.4 361.5L435.2 363.5L436.0 365.3L436.8 367.0L437.6 368.6L438.4 370.1L439.2 371.3L440.0 372.3L440.8 373.0L441.6 373.5L442.4 374.0L443.1 374.4L443.9 374.7L444.7 374.9L445.5 375.0L446.3 375.2L447.1 375.3L447.9 375.4L448.7 375.4L448.68 377.48Z" fill="#00C19F"/><path d="M354.5 374.41L355.3 373.77L356.1 372.97L356.9 372.11L357.7 371.22L358.5 370.31L359.3 369.36L360.0 368.38L360.8 367.40L361.6 366.46L362.4 365.56L363.2 364.69L364.0 363.87L364.8 363.09L365.6 362.35L366.4 361.63L367.2 360.94L368.0 360.27L368.7 359.61L369.5 358.95L370.3 358.30L371.1 357.62L371.9 356.90L372.7 356.13L373.5 355.30L374.3 354.42L375.1 353.48L375.9 352.47L376.7 351.35L377.5 350.11L378.2 348.79L379.0 347.41L379.8 345.97L380.6 344.49L381.4 342.94L382.2 341.33L383.0 339.67L383.8 338.00L384.6 336.34L385.4 334.74L386.2 333.22L387.0 331.79L387.7 330.46L388.5 329.23L389.3 328.11L390.1 327.14L390.9 326.32L391.7 325.66L392.5 325.17L393.3 324.83L394.1 324.59L394.9 324.37L395.7 324.11L396.4 323.78L397.2 323.45L398.0 323.02L398.8 322.39L399.6 321.46L400.4 320.27L401.2 318.84L402.0 317.22L402.8 315.42L403.6 313.45L404.4 311.30L405.2 309.08L405.9 306.91L406.7 304.98L407.5 303.42L408.3 302.27L409.1 301.45L409.9 300.80L410.7 300.16L411.5 299.47L412.3 298.90L413.1 298.53L413.9 298.30L414.7 298.14L415.4 298.17L416.2 298.53L417.0 299.22L417.8 300.24L418.6 301.55L419.4 303.20L420.2 305.24L421.0 307.76L421.8 310.76L422.6 314.01L423.4 317.39L424.1 320.89L424.9 324.50L425.7 328.25L426.5 332.11L427.3 335.95L428.1 339.68L428.9 343.19L429.7 346.43L430.5 349.44L431.3 352.23L432.1 354.82L432.9 357.23L433.6 359.46L434.4 361.52L435.2 363.45L436.0 365.26L436.8 366.99L437.6 368.61L438.4 370.07L439.2 371.31L440.0 372.27L440.8 372.97L441.6 373.53L442.4 373.99L443.1 374.37L443.9 374.66L444.7 374.88L445.5 375.05L446.3 375.18L447.1 375.29L447.9 375.38L448.7 375.42" fill="none" stroke="#000" stroke-width="0.95" stroke-linejoin="round"/>
<path d="M354.50 377.48L354.5 376.9L355.3 376.7L356.1 376.4L356.9 376.0L357.7 375.4L358.5 374.7L359.3 374.0L360.0 373.3L360.8 372.5L361.6 371.6L362.4 370.7L363.2 369.8L364.0 368.9L364.8 367.9L365.6 367.0L366.4 366.1L367.2 365.2L368.0 364.3L368.7 363.4L369.5 362.5L370.3 361.6L371.1 360.7L371.9 359.8L372.7 358.8L373.5 357.8L374.3 356.8L375.1 355.7L375.9 354.6L376.7 353.4L377.5 352.2L378.2 350.8L379.0 349.4L379.8 347.9L380.6 346.4L381.4 344.8L382.2 343.2L383.0 341.5L383.8 339.8L384.6 338.0L385.4 336.3L386.2 334.6L387.0 333.1L387.7 331.6L388.5 330.2L389.3 328.8L390.1 327.6L390.9 326.4L391.7 325.3L392.5 324.3L393.3 323.4L394.1 322.6L394.9 321.8L395.7 321.1L396.4 320.4L397.2 319.8L398.0 319.3L398.8 318.9L399.6 318.4L400.4 317.8L401.2 317.0L402.0 316.1L402.8 315.0L403.6 313.9L404.4 312.7L405.2 311.5L405.9 310.1L406.7 308.7L407.5 307.2L408.3 305.8L409.1 304.4L409.9 303.0L410.7 301.7L411.5 300.4L412.3 299.4L413.1 298.8L413.9 298.4L414.7 298.2L415.4 298.2L416.2 298.6L417.0 299.3L417.8 300.3L418.6 301.7L419.4 303.5L420.2 305.6L421.0 308.3L421.8 311.5L422.6 314.9L423.4 318.4L424.1 322.0L424.9 325.7L425.7 329.6L426.5 333.6L427.3 337.5L428.1 341.3L428.9 344.7L429.7 347.9L430.5 350.9L431.3 353.6L432.1 356.2L432.9 358.5L433.6 360.7L434.4 362.7L435.2 364.6L436.0 366.3L436.8 367.9L437.6 369.3L438.4 370.4L439.2 371.1L440.0 371.5L440.8 371.6L441.6 371.6L442.4 371.5L443.1 371.5L443.9 371.4L444.7 371.5L445.5 371.6L446.3 372.0L447.1 372.4L447.9 372.9L448.7 373.3L448.68 377.48Z" fill="#00B9E3"/><path d="M354.5 376.88L355.3 376.71L356.1 376.42L356.9 375.98L357.7 375.39L358.5 374.73L359.3 374.03L360.0 373.27L360.8 372.46L361.6 371.58L362.4 370.67L363.2 369.76L364.0 368.85L364.8 367.94L365.6 367.04L366.4 366.13L367.2 365.22L368.0 364.31L368.7 363.40L369.5 362.50L370.3 361.59L371.1 360.68L371.9 359.76L372.7 358.81L373.5 357.82L374.3 356.78L375.1 355.70L375.9 354.59L376.7 353.42L377.5 352.16L378.2 350.81L379.0 349.38L379.8 347.89L380.6 346.36L381.4 344.79L382.2 343.17L383.0 341.49L383.8 339.76L384.6 338.02L385.4 336.31L386.2 334.65L387.0 333.07L387.7 331.57L388.5 330.16L389.3 328.83L390.1 327.56L390.9 326.39L391.7 325.30L392.5 324.30L393.3 323.40L394.1 322.58L394.9 321.82L395.7 321.10L396.4 320.40L397.2 319.80L398.0 319.34L398.8 318.91L399.6 318.42L400.4 317.77L401.2 316.97L402.0 316.05L402.8 315.04L403.6 313.94L404.4 312.74L405.2 311.45L405.9 310.08L406.7 308.67L407.5 307.23L408.3 305.81L409.1 304.41L409.9 303.05L410.7 301.71L411.5 300.42L412.3 299.42L413.1 298.78L413.9 298.40L414.7 298.18L415.4 298.18L416.2 298.55L417.0 299.28L417.8 300.35L418.6 301.73L419.4 303.47L420.2 305.64L421.0 308.32L421.8 311.49L422.6 314.87L423.4 318.37L424.1 322.00L424.9 325.75L425.7 329.65L426.5 333.62L427.3 337.53L428.1 341.26L428.9 344.73L429.7 347.94L430.5 350.90L431.3 353.65L432.1 356.20L432.9 358.55L433.6 360.72L434.4 362.73L435.2 364.58L436.0 366.31L436.8 367.89L437.6 369.27L438.4 370.36L439.2 371.09L440.0 371.47L440.8 371.61L441.6 371.62L442.4 371.55L443.1 371.46L443.9 371.41L444.7 371.45L445.5 371.63L446.3 371.95L447.1 372.39L447.9 372.86L448.7 373.32" fill="none" stroke="#000" stroke-width="0.95" stroke-linejoin="round"/>
<path d="M354.50 377.48L354.5 376.7L355.3 376.5L356.1 376.1L356.9 375.5L357.7 374.8L358.5 374.2L359.3 373.4L360.0 372.6L360.8 371.8L361.6 370.9L362.4 370.0L363.2 369.1L364.0 368.2L364.8 367.3L365.6 366.4L366.4 365.5L367.2 364.6L368.0 363.7L368.7 362.8L369.5 361.8L370.3 360.9L371.1 360.0L371.9 359.0L372.7 357.9L373.5 356.7L374.3 355.5L375.1 354.2L375.9 352.8L376.7 351.3L377.5 349.7L378.2 348.0L379.0 346.3L379.8 344.6L380.6 343.0L381.4 341.4L382.2 339.8L383.0 338.3L383.8 336.8L384.6 335.4L385.4 334.1L386.2 332.7L387.0 331.5L387.7 330.4L388.5 329.3L389.3 328.2L390.1 327.3L390.9 326.5L391.7 325.8L392.5 325.3L393.3 324.9L394.1 324.7L394.9 324.4L395.7 324.2L396.4 323.9L397.2 323.6L398.0 323.1L398.8 322.6L399.6 321.7L400.4 320.6L401.2 319.3L402.0 317.9L402.8 316.4L403.6 314.9L404.4 313.3L405.2 311.8L405.9 310.2L406.7 308.7L407.5 307.2L408.3 305.7L409.1 304.3L409.9 303.0L410.7 301.6L411.5 300.4L412.3 299.4L413.1 298.8L413.9 298.4L414.7 298.2L415.4 298.2L416.2 298.5L417.0 299.3L417.8 300.3L418.6 301.7L419.4 303.3L420.2 305.5L421.0 308.1L421.8 311.2L422.6 314.5L423.4 317.9L424.1 321.5L424.9 325.2L425.7 329.0L426.5 332.9L427.3 336.8L428.1 340.5L428.9 344.0L429.7 347.2L430.5 350.2L431.3 353.0L432.1 355.6L432.9 357.9L433.6 360.2L434.4 362.2L435.2 364.1L436.0 365.9L436.8 367.6L437.6 369.2L438.4 370.6L439.2 371.8L440.0 372.6L440.8 373.2L441.6 373.8L442.4 374.2L443.1 374.5L443.9 374.8L444.7 375.0L445.5 375.1L446.3 375.2L447.1 375.3L447.9 375.4L448.7 375.4L448.68 377.48Z" fill="#619CFF"/><path d="M354.5 376.74L355.3 376.47L356.1 376.06L356.9 375.49L357.7 374.84L358.5 374.16L359.3 373.42L360.0 372.62L360.8 371.76L361.6 370.87L362.4 369.97L363.2 369.07L364.0 368.17L364.8 367.28L365.6 366.38L366.4 365.48L367.2 364.58L368.0 363.67L368.7 362.76L369.5 361.85L370.3 360.92L371.1 359.96L371.9 358.96L372.7 357.89L373.5 356.74L374.3 355.50L375.1 354.19L375.9 352.79L376.7 351.29L377.5 349.69L378.2 348.02L379.0 346.32L379.8 344.63L380.6 342.98L381.4 341.40L382.2 339.85L383.0 338.32L383.8 336.85L384.6 335.42L385.4 334.05L386.2 332.75L387.0 331.52L387.7 330.36L388.5 329.27L389.3 328.24L390.1 327.30L390.9 326.49L391.7 325.82L392.5 325.29L393.3 324.92L394.1 324.65L394.9 324.44L395.7 324.20L396.4 323.89L397.2 323.55L398.0 323.15L398.8 322.58L399.6 321.75L400.4 320.64L401.2 319.33L402.0 317.89L402.8 316.39L403.6 314.87L404.4 313.32L405.2 311.77L405.9 310.23L406.7 308.69L407.5 307.19L408.3 305.74L409.1 304.33L409.9 302.97L410.7 301.64L411.5 300.38L412.3 299.39L413.1 298.77L413.9 298.40L414.7 298.18L415.4 298.18L416.2 298.55L417.0 299.26L417.8 300.30L418.6 301.65L419.4 303.35L420.2 305.46L421.0 308.06L421.8 311.15L422.6 314.47L423.4 317.92L424.1 321.49L424.9 325.17L425.7 329.01L426.5 332.92L427.3 336.80L428.1 340.53L428.9 344.02L429.7 347.24L430.5 350.23L431.3 352.99L432.1 355.57L432.9 357.95L433.6 360.15L434.4 362.20L435.2 364.12L436.0 365.92L436.8 367.64L437.6 369.23L438.4 370.63L439.2 371.78L440.0 372.63L440.8 373.25L441.6 373.77L442.4 374.20L443.1 374.53L443.9 374.79L444.7 374.98L445.5 375.12L446.3 375.24L447.1 375.35L447.9 375.41L448.7 375.42" fill="none" stroke="#000" stroke-width="0.95" stroke-linejoin="round"/>
<path d="M354.50 377.48L354.5 376.9L355.3 376.8L356.1 376.6L356.9 376.3L357.7 375.8L358.5 375.1L359.3 374.4L360.0 373.7L360.8 372.8L361.6 371.9L362.4 370.9L363.2 369.8L364.0 368.7L364.8 367.5L365.6 366.2L366.4 364.9L367.2 363.5L368.0 362.1L368.7 360.7L369.5 359.3L370.3 357.9L371.1 356.6L371.9 355.5L372.7 354.4L373.5 353.4L374.3 352.6L375.1 351.8L375.9 351.1L376.7 350.4L377.5 349.7L378.2 348.9L379.0 348.0L379.8 346.9L380.6 345.8L381.4 344.5L382.2 343.2L383.0 341.7L383.8 340.1L384.6 338.5L385.4 336.8L386.2 335.1L387.0 333.6L387.7 332.1L388.5 330.7L389.3 329.4L390.1 328.2L390.9 327.2L391.7 326.3L392.5 325.7L393.3 325.2L394.1 324.8L394.9 324.6L395.7 324.3L396.4 324.1L397.2 323.7L398.0 323.3L398.8 322.9L399.6 322.1L400.4 321.1L401.2 319.8L402.0 318.4L402.8 316.9L403.6 315.3L404.4 313.8L405.2 312.2L405.9 310.6L406.7 309.0L407.5 307.5L408.3 306.0L409.1 304.5L409.9 303.1L410.7 301.8L411.5 300.5L412.3 299.4L413.1 298.8L413.9 298.4L414.7 298.2L415.4 298.2L416.2 298.6L417.0 299.3L417.8 300.4L418.6 301.8L419.4 303.6L420.2 305.8L421.0 308.5L421.8 311.8L422.6 315.2L423.4 318.7L424.1 322.4L424.9 326.2L425.7 330.2L426.5 334.2L427.3 338.1L428.1 341.9L428.9 345.3L429.7 348.5L430.5 351.5L431.3 354.2L432.1 356.7L432.9 359.1L433.6 361.2L434.4 363.2L435.2 365.1L436.0 366.9L436.8 368.6L437.6 370.1L438.4 371.4L439.2 372.4L440.0 373.1L440.8 373.6L441.6 374.1L442.4 374.4L443.1 374.7L443.9 374.9L444.7 375.1L445.5 375.2L446.3 375.3L447.1 375.4L447.9 375.4L448.7 375.4L448.68 377.48Z" fill="#DB72FB"/><path d="M354.5 376.95L355.3 376.84L356.1 376.63L356.9 376.29L357.7 375.78L358.5 375.15L359.3 374.45L360.0 373.68L360.8 372.84L361.6 371.91L362.4 370.90L363.2 369.82L364.0 368.69L364.8 367.50L365.6 366.24L366.4 364.92L367.2 363.55L368.0 362.14L368.7 360.71L369.5 359.29L370.3 357.92L371.1 356.64L371.9 355.46L372.7 354.40L373.5 353.44L374.3 352.58L375.1 351.80L375.9 351.09L376.7 350.41L377.5 349.69L378.2 348.88L379.0 347.96L379.8 346.92L380.6 345.77L381.4 344.52L382.2 343.17L383.0 341.69L383.8 340.10L384.6 338.46L385.4 336.79L386.2 335.14L387.0 333.56L387.7 332.07L388.5 330.68L389.3 329.40L390.1 328.23L390.9 327.20L391.7 326.34L392.5 325.66L393.3 325.16L394.1 324.81L394.9 324.56L395.7 324.34L396.4 324.06L397.2 323.71L398.0 323.35L398.8 322.86L399.6 322.14L400.4 321.12L401.2 319.84L402.0 318.40L402.8 316.87L403.6 315.33L404.4 313.76L405.2 312.17L405.9 310.59L406.7 309.02L407.5 307.47L408.3 305.98L409.1 304.54L409.9 303.14L410.7 301.78L411.5 300.46L412.3 299.44L413.1 298.79L413.9 298.41L414.7 298.18L415.4 298.18L416.2 298.56L417.0 299.30L417.8 300.39L418.6 301.80L419.4 303.57L420.2 305.78L421.0 308.53L421.8 311.77L422.6 315.19L423.4 318.74L424.1 322.41L424.9 326.21L425.7 330.17L426.5 334.19L427.3 338.12L428.1 341.86L428.9 345.31L429.7 348.50L430.5 351.45L431.3 354.19L432.1 356.72L432.9 359.06L433.6 361.23L434.4 363.25L435.2 365.13L436.0 366.93L436.8 368.61L437.6 370.13L438.4 371.40L439.2 372.36L440.0 373.06L440.8 373.62L441.6 374.08L442.4 374.45L443.1 374.73L443.9 374.94L444.7 375.09L445.5 375.22L446.3 375.33L447.1 375.40L447.9 375.42L448.7 375.37" fill="none" stroke="#000" stroke-width="0.95" stroke-linejoin="round"/>
<path d="M354.50 377.88L354.5 377.0L355.3 376.9L356.1 376.8L356.9 376.5L357.7 376.1L358.5 375.5L359.3 374.9L360.0 374.1L360.8 373.4L361.6 372.6L362.4 371.7L363.2 370.8L364.0 369.8L364.8 368.9L365.6 368.0L366.4 367.1L367.2 366.1L368.0 365.2L368.7 364.3L369.5 363.4L370.3 362.4L371.1 361.5L371.9 360.6L372.7 359.7L373.5 358.7L374.3 357.7L375.1 356.6L375.9 355.5L376.7 354.4L377.5 353.2L378.2 351.9L379.0 350.5L379.8 349.0L380.6 347.5L381.4 345.9L382.2 344.3L383.0 342.6L383.8 340.9L384.6 339.1L385.4 337.4L386.2 335.6L387.0 334.0L387.7 332.4L388.5 331.0L389.3 329.7L390.1 328.5L390.9 327.4L391.7 326.5L392.5 325.8L393.3 325.2L394.1 324.9L394.9 324.6L395.7 324.4L396.4 324.1L397.2 323.8L398.0 323.4L398.8 323.0L399.6 322.3L400.4 321.3L401.2 320.0L402.0 318.6L402.8 317.0L403.6 315.5L404.4 313.9L405.2 312.3L405.9 310.7L406.7 309.1L407.5 307.6L408.3 306.1L409.1 304.6L409.9 303.2L410.7 301.8L411.5 300.5L412.3 299.4L413.1 298.8L413.9 298.4L414.7 298.2L415.4 298.2L416.2 298.6L417.0 299.3L417.8 300.4L418.6 301.9L419.4 303.6L420.2 305.9L421.0 308.7L421.8 312.0L422.6 315.4L423.4 319.0L424.1 322.7L424.9 326.6L425.7 330.6L426.5 334.6L427.3 338.6L428.1 342.3L428.9 345.8L429.7 348.9L430.5 351.9L431.3 354.6L432.1 357.1L432.9 359.4L433.6 361.6L434.4 363.6L435.2 365.5L436.0 367.3L436.8 368.9L437.6 370.4L438.4 371.7L439.2 372.6L440.0 373.2L440.8 373.7L441.6 374.2L442.4 374.5L443.1 374.8L443.9 375.0L444.7 375.1L445.5 375.3L446.3 375.4L447.1 375.4L447.9 375.4L448.7 375.3L448.68 377.88Z" fill="#FF61C3"/><path d="M354.5 376.98L355.3 376.92L356.1 376.77L356.9 376.51L357.7 376.10L358.5 375.52L359.3 374.85L360.0 374.15L360.8 373.39L361.6 372.57L362.4 371.68L363.2 370.75L364.0 369.83L364.8 368.91L365.6 367.98L366.4 367.06L367.2 366.14L368.0 365.21L368.7 364.29L369.5 363.37L370.3 362.44L371.1 361.52L371.9 360.60L372.7 359.66L373.5 358.69L374.3 357.67L375.1 356.61L375.9 355.51L376.7 354.37L377.5 353.17L378.2 351.87L379.0 350.48L379.8 349.00L380.6 347.47L381.4 345.90L382.2 344.30L383.0 342.63L383.8 340.90L384.6 339.13L385.4 337.37L386.2 335.65L387.0 334.00L387.7 332.45L388.5 331.01L389.3 329.68L390.1 328.47L390.9 327.39L391.7 326.50L392.5 325.77L393.3 325.23L394.1 324.86L394.9 324.60L395.7 324.38L396.4 324.11L397.2 323.77L398.0 323.42L398.8 322.96L399.6 322.28L400.4 321.28L401.2 320.02L402.0 318.58L402.8 317.04L403.6 315.48L404.4 313.91L405.2 312.31L405.9 310.71L406.7 309.13L407.5 307.57L408.3 306.06L409.1 304.61L409.9 303.20L410.7 301.83L411.5 300.49L412.3 299.45L413.1 298.79L413.9 298.41L414.7 298.18L415.4 298.18L416.2 298.57L417.0 299.32L417.8 300.42L418.6 301.85L419.4 303.65L420.2 305.90L421.0 308.69L421.8 311.98L422.6 315.44L423.4 319.02L424.1 322.73L424.9 326.57L425.7 330.57L426.5 334.62L427.3 338.58L428.1 342.31L428.9 345.76L429.7 348.93L430.5 351.87L431.3 354.60L432.1 357.12L432.9 359.44L433.6 361.60L434.4 363.61L435.2 365.48L436.0 367.28L436.8 368.95L437.6 370.43L438.4 371.66L439.2 372.56L440.0 373.21L440.8 373.75L441.6 374.19L442.4 374.54L443.1 374.80L443.9 374.99L444.7 375.13L445.5 375.26L446.3 375.36L447.1 375.42L447.9 375.42L448.7 375.35" fill="none" stroke="#000" stroke-width="0.95" stroke-linejoin="round"/>
</g>
<g clip-path="url(#cp44)">
<path d="M462.50 469.97L462.5 469.9L463.3 469.9L464.1 469.8L464.9 469.6L465.7 469.4L466.5 469.2L467.3 468.9L468.0 468.6L468.8 468.2L469.6 467.6L470.4 466.9L471.2 466.1L472.0 465.2L472.8 464.1L473.6 463.0L474.4 461.7L475.2 460.5L476.0 459.1L476.7 457.8L477.5 456.4L478.3 455.0L479.1 453.6L479.9 452.2L480.7 450.7L481.5 449.1L482.3 447.4L483.1 445.7L483.9 443.9L484.7 442.2L485.5 440.5L486.2 439.0L487.0 437.6L487.8 436.2L488.6 434.8L489.4 433.3L490.2 431.9L491.0 430.5L491.8 429.1L492.6 427.7L493.4 426.2L494.2 424.8L495.0 423.4L495.7 422.0L496.5 420.5L497.3 419.1L498.1 417.7L498.9 416.3L499.7 414.9L500.5 413.4L501.3 412.0L502.1 410.6L502.9 409.2L503.7 407.7L504.4 406.3L505.2 404.9L506.0 403.5L506.8 402.1L507.6 400.9L508.4 399.8L509.2 398.8L510.0 397.9L510.8 397.1L511.6 396.4L512.4 395.9L513.2 395.5L513.9 395.4L514.7 395.3L515.5 395.5L516.3 395.8L517.1 396.5L517.9 397.3L518.7 398.1L519.5 399.0L520.3 399.8L521.1 400.7L521.9 401.6L522.7 402.5L523.4 403.5L524.2 404.4L525.0 405.3L525.8 406.2L526.6 407.0L527.4 407.7L528.2 408.3L529.0 408.9L529.8 409.4L530.6 409.9L531.4 410.4L532.1 410.9L532.9 411.3L533.7 411.8L534.5 412.3L535.3 412.8L536.1 413.4L536.9 414.2L537.7 415.0L538.5 416.1L539.3 417.3L540.1 418.7L540.9 420.2L541.6 421.8L542.4 423.6L543.2 425.4L544.0 427.2L544.8 429.1L545.6 430.9L546.4 432.8L547.2 434.8L548.0 436.7L548.8 438.8L549.6 440.9L550.4 442.9L551.1 444.8L551.9 446.7L552.7 448.5L553.5 450.2L554.3 451.9L555.1 453.5L555.9 455.0L556.7 456.5L556.68 469.97Z" fill="#F8766D"/><path d="M462.5 469.88L463.3 469.86L464.1 469.78L464.9 469.63L465.7 469.44L466.5 469.21L467.3 468.93L468.0 468.59L468.8 468.16L469.6 467.62L470.4 466.94L471.2 466.11L472.0 465.15L472.8 464.09L473.6 462.95L474.4 461.74L475.2 460.47L476.0 459.15L476.7 457.80L477.5 456.43L478.3 455.05L479.1 453.64L479.9 452.19L480.7 450.69L481.5 449.12L482.3 447.45L483.1 445.69L483.9 443.92L484.7 442.19L485.5 440.55L486.2 439.05L487.0 437.62L487.8 436.19L488.6 434.77L489.4 433.35L490.2 431.93L491.0 430.50L491.8 429.08L492.6 427.66L493.4 426.24L494.2 424.81L495.0 423.39L495.7 421.97L496.5 420.55L497.3 419.12L498.1 417.70L498.9 416.28L499.7 414.86L500.5 413.43L501.3 412.01L502.1 410.59L502.9 409.17L503.7 407.74L504.4 406.32L505.2 404.90L506.0 403.48L506.8 402.13L507.6 400.92L508.4 399.84L509.2 398.85L510.0 397.92L510.8 397.06L511.6 396.36L512.4 395.86L513.2 395.53L513.9 395.36L514.7 395.32L515.5 395.47L516.3 395.84L517.1 396.51L517.9 397.31L518.7 398.13L519.5 398.97L520.3 399.82L521.1 400.70L521.9 401.60L522.7 402.52L523.4 403.45L524.2 404.38L525.0 405.28L525.8 406.15L526.6 406.95L527.4 407.66L528.2 408.29L529.0 408.86L529.8 409.41L530.6 409.94L531.4 410.44L532.1 410.89L532.9 411.33L533.7 411.78L534.5 412.27L535.3 412.82L536.1 413.45L536.9 414.18L537.7 415.05L538.5 416.08L539.3 417.29L540.1 418.67L540.9 420.20L541.6 421.85L542.4 423.59L543.2 425.39L544.0 427.21L544.8 429.05L545.6 430.92L546.4 432.81L547.2 434.75L548.0 436.75L548.8 438.80L549.6 440.85L550.4 442.88L551.1 444.85L551.9 446.72L552.7 448.50L553.5 450.22L554.3 451.87L555.1 453.48L555.9 455.03L556.7 456.52" fill="none" stroke="#000" stroke-width="0.95" stroke-linejoin="round"/>
<path d="M462.50 469.97L462.5 469.7L463.3 469.5L464.1 469.3L464.9 469.1L465.7 468.8L466.5 468.5L467.3 468.0L468.0 467.5L468.8 466.8L469.6 466.0L470.4 465.0L471.2 464.0L472.0 462.9L472.8 461.7L473.6 460.5L474.4 459.2L475.2 458.0L476.0 456.6L476.7 455.3L477.5 454.0L478.3 452.6L479.1 451.1L479.9 449.7L480.7 448.1L481.5 446.4L482.3 444.7L483.1 443.0L483.9 441.4L484.7 439.9L485.5 438.5L486.2 437.1L487.0 435.7L487.8 434.4L488.6 433.0L489.4 431.6L490.2 430.3L491.0 428.9L491.8 427.5L492.6 426.2L493.4 424.8L494.2 423.4L495.0 422.0L495.7 420.7L496.5 419.3L497.3 417.9L498.1 416.6L498.9 415.2L499.7 413.8L500.5 412.5L501.3 411.1L502.1 409.7L502.9 408.4L503.7 407.0L504.4 405.6L505.2 404.3L506.0 402.9L506.8 401.7L507.6 400.5L508.4 399.5L509.2 398.6L510.0 397.7L510.8 396.9L511.6 396.3L512.4 395.8L513.2 395.5L513.9 395.4L514.7 395.3L515.5 395.5L516.3 395.8L517.1 396.4L517.9 397.2L518.7 398.0L519.5 398.8L520.3 399.6L521.1 400.4L521.9 401.3L522.7 402.2L523.4 403.1L524.2 403.9L525.0 404.8L525.8 405.6L526.6 406.3L527.4 407.0L528.2 407.4L529.0 407.8L529.8 408.2L530.6 408.5L531.4 408.8L532.1 409.2L532.9 409.7L533.7 410.2L534.5 410.8L535.3 411.5L536.1 412.2L536.9 413.0L537.7 413.8L538.5 414.8L539.3 415.8L540.1 417.0L540.9 418.3L541.6 419.7L542.4 421.3L543.2 423.0L544.0 424.7L544.8 426.4L545.6 428.2L546.4 430.0L547.2 431.8L548.0 433.6L548.8 435.5L549.6 437.4L550.4 439.4L551.1 441.4L551.9 443.3L552.7 445.2L553.5 447.0L554.3 448.7L555.1 450.3L555.9 451.9L556.7 453.5L556.68 469.97Z" fill="#D39200"/><path d="M462.5 469.71L463.3 469.55L464.1 469.35L464.9 469.10L465.7 468.82L466.5 468.46L467.3 468.02L468.0 467.47L468.8 466.79L469.6 465.97L470.4 465.03L471.2 464.01L472.0 462.91L472.8 461.74L473.6 460.52L474.4 459.25L475.2 457.95L476.0 456.64L476.7 455.31L477.5 453.96L478.3 452.57L479.1 451.14L479.9 449.66L480.7 448.09L481.5 446.43L482.3 444.73L483.1 443.03L483.9 441.40L484.7 439.87L485.5 438.48L486.2 437.11L487.0 435.74L487.8 434.37L488.6 433.00L489.4 431.63L490.2 430.26L491.0 428.89L491.8 427.52L492.6 426.16L493.4 424.79L494.2 423.42L495.0 422.05L495.7 420.68L496.5 419.31L497.3 417.94L498.1 416.57L498.9 415.21L499.7 413.84L500.5 412.47L501.3 411.10L502.1 409.73L502.9 408.36L503.7 406.99L504.4 405.62L505.2 404.26L506.0 402.91L506.8 401.67L507.6 400.55L508.4 399.54L509.2 398.60L510.0 397.72L510.8 396.92L511.6 396.29L512.4 395.82L513.2 395.52L513.9 395.36L514.7 395.32L515.5 395.46L516.3 395.81L517.1 396.43L517.9 397.19L518.7 397.97L519.5 398.78L520.3 399.60L521.1 400.43L521.9 401.29L522.7 402.16L523.4 403.05L524.2 403.93L525.0 404.79L525.8 405.60L526.6 406.33L527.4 406.96L528.2 407.45L529.0 407.84L529.8 408.16L530.6 408.49L531.4 408.84L532.1 409.22L532.9 409.66L533.7 410.17L534.5 410.77L535.3 411.45L536.1 412.19L536.9 412.98L537.7 413.83L538.5 414.76L539.3 415.79L540.1 416.97L540.9 418.28L541.6 419.73L542.4 421.29L543.2 422.95L544.0 424.67L544.8 426.42L545.6 428.18L546.4 429.96L547.2 431.77L548.0 433.61L548.8 435.50L549.6 437.44L550.4 439.42L551.1 441.39L551.9 443.33L552.7 445.20L553.5 446.99L554.3 448.70L555.1 450.34L555.9 451.93L556.7 453.48" fill="none" stroke="#000" stroke-width="0.95" stroke-linejoin="round"/>
<path d="M462.50 469.97L462.5 469.9L463.3 469.8L464.1 469.6L464.9 469.4L465.7 469.2L466.5 468.9L467.3 468.6L468.0 468.2L468.8 467.6L469.6 467.0L470.4 466.2L471.2 465.2L472.0 464.2L472.8 463.1L473.6 461.9L474.4 460.6L475.2 459.3L476.0 457.9L476.7 456.5L477.5 455.2L478.3 453.7L479.1 452.3L479.9 450.8L480.7 449.2L481.5 447.5L482.3 445.8L483.1 444.0L483.9 442.2L484.7 440.5L485.5 438.8L486.2 437.4L487.0 435.9L487.8 434.4L488.6 433.0L489.4 431.5L490.2 430.1L491.0 428.6L491.8 427.2L492.6 425.8L493.4 424.3L494.2 422.9L495.0 421.5L495.7 420.1L496.5 418.7L497.3 417.3L498.1 416.0L498.9 414.6L499.7 413.2L500.5 411.8L501.3 410.3L502.1 408.9L502.9 407.4L503.7 405.9L504.4 404.3L505.2 402.7L506.0 401.0L506.8 399.4L507.6 397.9L508.4 396.5L509.2 395.2L510.0 394.0L510.8 392.9L511.6 392.1L512.4 391.5L513.2 391.2L513.9 391.2L514.7 391.4L515.5 391.8L516.3 392.5L517.1 393.6L517.9 394.8L518.7 396.0L519.5 397.2L520.3 398.4L521.1 399.5L521.9 400.7L522.7 401.8L523.4 402.9L524.2 403.9L525.0 404.9L525.8 405.8L526.6 406.7L527.4 407.4L528.2 408.1L529.0 408.7L529.8 409.2L530.6 409.8L531.4 410.3L532.1 410.7L532.9 411.2L533.7 411.6L534.5 412.1L535.3 412.6L536.1 413.2L536.9 413.8L537.7 414.6L538.5 415.6L539.3 416.7L540.1 418.0L540.9 419.4L541.6 421.0L542.4 422.6L543.2 424.4L544.0 426.2L544.8 428.0L545.6 429.8L546.4 431.6L547.2 433.5L548.0 435.4L548.8 437.4L549.6 439.5L550.4 441.5L551.1 443.5L551.9 445.4L552.7 447.2L553.5 448.9L554.3 450.6L555.1 452.2L555.9 453.8L556.7 455.3L556.68 469.97Z" fill="#00BA38"/><path d="M462.5 469.86L463.3 469.77L464.1 469.63L464.9 469.43L465.7 469.20L466.5 468.93L467.3 468.59L468.0 468.17L468.8 467.65L469.6 466.99L470.4 466.18L471.2 465.23L472.0 464.19L472.8 463.06L473.6 461.86L474.4 460.59L475.2 459.28L476.0 457.92L476.7 456.55L477.5 455.15L478.3 453.73L479.1 452.27L479.9 450.76L480.7 449.19L481.5 447.53L482.3 445.77L483.1 443.97L483.9 442.17L484.7 440.45L485.5 438.85L486.2 437.36L487.0 435.90L487.8 434.44L488.6 432.98L489.4 431.53L490.2 430.08L491.0 428.64L491.8 427.20L492.6 425.77L493.4 424.35L494.2 422.94L495.0 421.53L495.7 420.13L496.5 418.74L497.3 417.35L498.1 415.96L498.9 414.57L499.7 413.17L500.5 411.76L501.3 410.33L502.1 408.87L502.9 407.39L503.7 405.86L504.4 404.28L505.2 402.67L506.0 401.01L506.8 399.40L507.6 397.90L508.4 396.51L509.2 395.21L510.0 394.00L510.8 392.91L511.6 392.08L512.4 391.51L513.2 391.22L513.9 391.18L514.7 391.36L515.5 391.79L516.3 392.52L517.1 393.57L517.9 394.76L518.7 395.98L519.5 397.19L520.3 398.38L521.1 399.54L521.9 400.68L522.7 401.79L523.4 402.88L524.2 403.91L525.0 404.90L525.8 405.83L526.6 406.68L527.4 407.44L528.2 408.09L529.0 408.69L529.8 409.24L530.6 409.77L531.4 410.28L532.1 410.74L532.9 411.17L533.7 411.60L534.5 412.07L535.3 412.58L536.1 413.16L536.9 413.83L537.7 414.62L538.5 415.56L539.3 416.67L540.1 417.96L540.9 419.40L541.6 420.97L542.4 422.64L543.2 424.39L544.0 426.17L544.8 427.97L545.6 429.79L546.4 431.64L547.2 433.52L548.0 435.45L548.8 437.44L549.6 439.46L550.4 441.48L551.1 443.45L551.9 445.36L552.7 447.18L553.5 448.92L554.3 450.59L555.1 452.21L555.9 453.78L556.7 455.30" fill="none" stroke="#000" stroke-width="0.95" stroke-linejoin="round"/>
<path d="M462.50 469.97L462.5 469.6L463.3 469.4L464.1 469.2L464.9 468.9L465.7 468.6L466.5 468.2L467.3 467.7L468.0 467.0L468.8 466.3L469.6 465.4L470.4 464.4L471.2 463.3L472.0 462.2L472.8 461.0L473.6 459.8L474.4 458.5L475.2 457.2L476.0 455.9L476.7 454.6L477.5 453.2L478.3 451.8L479.1 450.4L479.9 448.9L480.7 447.3L481.5 445.6L482.3 443.9L483.1 442.3L483.9 440.7L484.7 439.3L485.5 437.9L486.2 436.6L487.0 435.2L487.8 433.8L488.6 432.5L489.4 431.1L490.2 429.8L491.0 428.4L491.8 427.1L492.6 425.7L493.4 424.4L494.2 423.0L495.0 421.7L495.7 420.3L496.5 418.9L497.3 417.6L498.1 416.2L498.9 414.8L499.7 413.4L500.5 412.0L501.3 410.5L502.1 409.0L502.9 407.5L503.7 405.9L504.4 404.2L505.2 402.5L506.0 400.7L506.8 399.0L507.6 397.4L508.4 395.9L509.2 394.5L510.0 393.1L510.8 392.0L511.6 391.1L512.4 390.4L513.2 390.1L513.9 390.1L514.7 390.3L515.5 390.8L516.3 391.6L517.1 392.7L517.9 394.0L518.7 395.3L519.5 396.6L520.3 397.8L521.1 399.0L521.9 400.2L522.7 401.3L523.4 402.4L524.2 403.5L525.0 404.5L525.8 405.4L526.6 406.3L527.4 407.1L528.2 407.7L529.0 408.3L529.8 408.9L530.6 409.4L531.4 409.9L532.1 410.4L532.9 410.8L533.7 411.3L534.5 411.7L535.3 412.1L536.1 412.6L536.9 413.2L537.7 413.8L538.5 414.6L539.3 415.5L540.1 416.5L540.9 417.7L541.6 419.0L542.4 420.4L543.2 421.9L544.0 423.5L544.8 425.0L545.6 426.6L546.4 428.2L547.2 429.8L548.0 431.4L548.8 433.0L549.6 434.8L550.4 436.6L551.1 438.5L551.9 440.4L552.7 442.3L553.5 444.1L554.3 446.0L555.1 447.8L555.9 449.6L556.7 451.3L556.68 469.97Z" fill="#00C19F"/><path d="M462.5 469.60L463.3 469.41L464.1 469.18L464.9 468.91L465.7 468.58L466.5 468.18L467.3 467.68L468.0 467.05L468.8 466.28L469.6 465.38L470.4 464.40L471.2 463.33L472.0 462.20L472.8 461.02L473.6 459.78L474.4 458.51L475.2 457.22L476.0 455.91L476.7 454.59L477.5 453.23L478.3 451.85L479.1 450.41L479.9 448.91L480.7 447.30L481.5 445.63L482.3 443.94L483.1 442.29L483.9 440.72L484.7 439.28L485.5 437.91L486.2 436.56L487.0 435.20L487.8 433.85L488.6 432.49L489.4 431.14L490.2 429.79L491.0 428.43L491.8 427.08L492.6 425.73L493.4 424.37L494.2 423.02L495.0 421.66L495.7 420.30L496.5 418.94L497.3 417.57L498.1 416.19L498.9 414.80L499.7 413.40L500.5 411.97L501.3 410.51L502.1 409.00L502.9 407.46L503.7 405.85L504.4 404.19L505.2 402.46L506.0 400.70L506.8 399.00L507.6 397.40L508.4 395.88L509.2 394.45L510.0 393.12L510.8 391.95L511.6 391.05L512.4 390.45L513.2 390.13L513.9 390.10L514.7 390.31L515.5 390.80L516.3 391.60L517.1 392.70L517.9 393.97L518.7 395.27L519.5 396.55L520.3 397.81L521.1 399.03L521.9 400.20L522.7 401.33L523.4 402.43L524.2 403.47L525.0 404.47L525.8 405.41L526.6 406.28L527.4 407.06L528.2 407.74L529.0 408.34L529.8 408.89L530.6 409.42L531.4 409.93L532.1 410.40L532.9 410.84L533.7 411.25L534.5 411.67L535.3 412.13L536.1 412.63L536.9 413.19L537.7 413.83L538.5 414.58L539.3 415.46L540.1 416.49L540.9 417.67L541.6 418.99L542.4 420.41L543.2 421.90L544.0 423.45L544.8 425.03L545.6 426.60L546.4 428.17L547.2 429.75L548.0 431.36L548.8 433.02L549.6 434.76L550.4 436.58L551.1 438.46L551.9 440.36L552.7 442.26L553.5 444.13L554.3 445.97L555.1 447.78L555.9 449.55L556.7 451.29" fill="none" stroke="#000" stroke-width="0.95" stroke-linejoin="round"/>
<path d="M462.50 469.97L462.5 469.9L463.3 469.8L464.1 469.7L464.9 469.5L465.7 469.3L466.5 469.1L467.3 468.8L468.0 468.4L468.8 467.9L469.6 467.3L470.4 466.6L471.2 465.7L472.0 464.7L472.8 463.6L473.6 462.5L474.4 461.2L475.2 460.0L476.0 458.6L476.7 457.3L477.5 455.9L478.3 454.5L479.1 453.1L479.9 451.7L480.7 450.2L481.5 448.6L482.3 446.9L483.1 445.1L483.9 443.4L484.7 441.7L485.5 440.1L486.2 438.6L487.0 437.2L487.8 435.8L488.6 434.4L489.4 433.0L490.2 431.6L491.0 430.2L491.8 428.8L492.6 427.3L493.4 425.9L494.2 424.5L495.0 423.1L495.7 421.7L496.5 420.3L497.3 418.9L498.1 417.5L498.9 416.1L499.7 414.6L500.5 413.2L501.3 411.8L502.1 410.4L502.9 409.0L503.7 407.6L504.4 406.2L505.2 404.8L506.0 403.4L506.8 402.0L507.6 400.8L508.4 399.8L509.2 398.8L510.0 397.9L510.8 397.0L511.6 396.3L512.4 395.9L513.2 395.5L513.9 395.4L514.7 395.3L515.5 395.5L516.3 395.8L517.1 396.5L517.9 397.3L518.7 398.1L519.5 398.9L520.3 399.8L521.1 400.6L521.9 401.5L522.7 402.4L523.4 403.4L524.2 404.3L525.0 405.2L525.8 406.1L526.6 406.9L527.4 407.6L528.2 408.2L529.0 408.8L529.8 409.3L530.6 409.9L531.4 410.4L532.1 410.8L532.9 411.2L533.7 411.7L534.5 412.2L535.3 412.7L536.1 413.3L536.9 414.0L537.7 414.8L538.5 415.8L539.3 417.0L540.1 418.3L540.9 419.8L541.6 421.4L542.4 423.1L543.2 424.9L544.0 426.7L544.8 428.5L545.6 430.3L546.4 432.2L547.2 434.1L548.0 436.1L548.8 438.1L549.6 440.2L550.4 442.2L551.1 444.1L551.9 446.0L552.7 447.8L553.5 449.6L554.3 451.2L555.1 452.8L555.9 454.4L556.7 455.9L556.68 469.97Z" fill="#00B9E3"/><path d="M462.5 469.88L463.3 469.83L464.1 469.71L464.9 469.54L465.7 469.33L466.5 469.08L467.3 468.77L468.0 468.40L468.8 467.92L469.6 467.32L470.4 466.59L471.2 465.70L472.0 464.71L472.8 463.62L473.6 462.46L474.4 461.24L475.2 459.96L476.0 458.63L476.7 457.29L477.5 455.93L478.3 454.55L479.1 453.13L479.9 451.68L480.7 450.17L481.5 448.59L482.3 446.90L483.1 445.14L483.9 443.39L484.7 441.68L485.5 440.09L486.2 438.64L487.0 437.23L487.8 435.82L488.6 434.41L489.4 432.99L490.2 431.58L491.0 430.17L491.8 428.76L492.6 427.35L493.4 425.94L494.2 424.53L495.0 423.11L495.7 421.70L496.5 420.29L497.3 418.88L498.1 417.47L498.9 416.06L499.7 414.65L500.5 413.23L501.3 411.82L502.1 410.41L502.9 409.00L503.7 407.59L504.4 406.18L505.2 404.77L506.0 403.37L506.8 402.03L507.6 400.85L508.4 399.78L509.2 398.80L510.0 397.88L510.8 397.03L511.6 396.35L512.4 395.85L513.2 395.53L513.9 395.36L514.7 395.32L515.5 395.46L516.3 395.84L517.1 396.50L517.9 397.28L518.7 398.09L519.5 398.93L520.3 399.78L521.1 400.64L521.9 401.53L522.7 402.45L523.4 403.37L524.2 404.29L525.0 405.19L525.8 406.06L526.6 406.86L527.4 407.58L528.2 408.21L529.0 408.78L529.8 409.33L530.6 409.86L531.4 410.36L532.1 410.81L532.9 411.25L533.7 411.69L534.5 412.17L535.3 412.70L536.1 413.30L536.9 414.01L537.7 414.83L538.5 415.81L539.3 416.97L540.1 418.30L540.9 419.79L541.6 421.40L542.4 423.10L543.2 424.88L544.0 426.68L544.8 428.50L545.6 430.35L546.4 432.22L547.2 434.12L548.0 436.09L548.8 438.11L549.6 440.15L550.4 442.18L551.1 444.15L551.9 446.04L552.7 447.84L553.5 449.56L554.3 451.23L555.1 452.84L555.9 454.40L556.7 455.90" fill="none" stroke="#000" stroke-width="0.95" stroke-linejoin="round"/>
<path d="M462.50 469.97L462.5 469.8L463.3 469.7L464.1 469.5L464.9 469.3L465.7 469.0L466.5 468.7L467.3 468.3L468.0 467.9L468.8 467.3L469.6 466.5L470.4 465.6L471.2 464.7L472.0 463.6L472.8 462.5L473.6 461.2L474.4 460.0L475.2 458.7L476.0 457.4L476.7 456.0L477.5 454.7L478.3 453.3L479.1 451.9L479.9 450.4L480.7 448.9L481.5 447.2L482.3 445.5L483.1 443.8L483.9 442.1L484.7 440.5L485.5 439.1L486.2 437.7L487.0 436.3L487.8 434.9L488.6 433.5L489.4 432.1L490.2 430.7L491.0 429.4L491.8 428.0L492.6 426.6L493.4 425.2L494.2 423.8L495.0 422.4L495.7 421.1L496.5 419.7L497.3 418.3L498.1 416.9L498.9 415.5L499.7 414.1L500.5 412.8L501.3 411.4L502.1 410.0L502.9 408.6L503.7 407.2L504.4 405.8L505.2 404.4L506.0 403.1L506.8 401.8L507.6 400.7L508.4 399.6L509.2 398.7L510.0 397.8L510.8 397.0L511.6 396.3L512.4 395.8L513.2 395.5L513.9 395.4L514.7 395.3L515.5 395.5L516.3 395.8L517.1 396.5L517.9 397.2L518.7 398.0L519.5 398.8L520.3 399.7L521.1 400.5L521.9 401.4L522.7 402.3L523.4 403.2L524.2 404.1L525.0 405.0L525.8 405.8L526.6 406.6L527.4 407.4L528.2 408.0L529.0 408.6L529.8 409.1L530.6 409.7L531.4 410.2L532.1 410.6L532.9 411.1L533.7 411.5L534.5 411.9L535.3 412.4L536.1 413.0L536.9 413.6L537.7 414.4L538.5 415.2L539.3 416.3L540.1 417.5L540.9 418.8L541.6 420.3L542.4 422.0L543.2 423.7L544.0 425.4L544.8 427.2L545.6 429.0L546.4 430.8L547.2 432.6L548.0 434.5L548.8 436.4L549.6 438.4L550.4 440.4L551.1 442.4L551.9 444.4L552.7 446.2L553.5 448.0L554.3 449.6L555.1 451.3L555.9 452.9L556.7 454.4L556.68 469.97Z" fill="#619CFF"/><path d="M462.5 469.81L463.3 469.68L464.1 469.50L464.9 469.29L465.7 469.03L466.5 468.72L467.3 468.34L468.0 467.86L468.8 467.25L469.6 466.51L470.4 465.64L471.2 464.66L472.0 463.59L472.8 462.45L473.6 461.25L474.4 459.99L475.2 458.70L476.0 457.38L476.7 456.04L477.5 454.69L478.3 453.31L479.1 451.89L479.9 450.42L480.7 448.89L481.5 447.24L482.3 445.53L483.1 443.80L483.9 442.11L484.7 440.52L485.5 439.07L486.2 437.67L487.0 436.29L487.8 434.90L488.6 433.52L489.4 432.13L490.2 430.75L491.0 429.36L491.8 427.98L492.6 426.59L493.4 425.21L494.2 423.83L495.0 422.44L495.7 421.06L496.5 419.67L497.3 418.29L498.1 416.90L498.9 415.52L499.7 414.13L500.5 412.75L501.3 411.37L502.1 409.98L502.9 408.60L503.7 407.21L504.4 405.83L505.2 404.44L506.0 403.08L506.8 401.80L507.6 400.66L508.4 399.63L509.2 398.68L510.0 397.78L510.8 396.96L511.6 396.31L512.4 395.83L513.2 395.52L513.9 395.36L514.7 395.32L515.5 395.46L516.3 395.82L517.1 396.46L517.9 397.22L518.7 398.02L519.5 398.83L520.3 399.66L521.1 400.51L521.9 401.38L522.7 402.27L523.4 403.18L524.2 404.08L525.0 404.97L525.8 405.83L526.6 406.64L527.4 407.37L528.2 408.01L529.0 408.59L529.8 409.14L530.6 409.66L531.4 410.17L532.1 410.63L532.9 411.06L533.7 411.48L534.5 411.93L535.3 412.42L536.1 412.98L536.9 413.62L537.7 414.36L538.5 415.24L539.3 416.27L540.1 417.48L540.9 418.85L541.6 420.35L542.4 421.96L543.2 423.66L544.0 425.41L544.8 427.18L545.6 428.97L546.4 430.79L547.2 432.63L548.0 434.51L548.8 436.44L549.6 438.43L550.4 440.44L551.1 442.42L551.9 444.35L552.7 446.19L553.5 447.95L554.3 449.64L555.1 451.27L555.9 452.85L556.7 454.38" fill="none" stroke="#000" stroke-width="0.95" stroke-linejoin="round"/>
<path d="M462.50 469.97L462.5 465.7L463.3 465.6L464.1 465.6L464.9 465.5L465.7 465.5L466.5 465.5L467.3 465.5L468.0 465.5L468.8 465.5L469.6 465.3L470.4 465.1L471.2 464.6L472.0 464.0L472.8 463.3L473.6 462.4L474.4 461.5L475.2 460.4L476.0 459.2L476.7 458.0L477.5 456.7L478.3 455.4L479.1 454.0L479.9 452.6L480.7 451.1L481.5 449.6L482.3 448.0L483.1 446.2L483.9 444.5L484.7 442.7L485.5 441.0L486.2 439.5L487.0 438.0L487.8 436.6L488.6 435.1L489.4 433.7L490.2 432.3L491.0 430.8L491.8 429.4L492.6 428.0L493.4 426.5L494.2 425.1L495.0 423.7L495.7 422.2L496.5 420.8L497.3 419.4L498.1 417.9L498.9 416.5L499.7 415.1L500.5 413.6L501.3 412.2L502.1 410.8L502.9 409.3L503.7 407.9L504.4 406.5L505.2 405.0L506.0 403.6L506.8 402.2L507.6 401.0L508.4 399.9L509.2 398.9L510.0 398.0L510.8 397.1L511.6 396.4L512.4 395.9L513.2 395.5L513.9 395.4L514.7 395.3L515.5 395.5L516.3 395.8L517.1 396.5L517.9 397.3L518.7 398.2L519.5 399.0L520.3 399.9L521.1 400.8L521.9 401.7L522.7 402.6L523.4 403.5L524.2 404.5L525.0 405.4L525.8 406.2L526.6 407.0L527.4 407.7L528.2 408.4L529.0 408.9L529.8 409.5L530.6 410.0L531.4 410.5L532.1 411.0L532.9 411.4L533.7 411.9L534.5 412.4L535.3 412.9L536.1 413.6L536.9 414.4L537.7 415.3L538.5 416.3L539.3 417.6L540.1 419.0L540.9 420.6L541.6 422.3L542.4 424.1L543.2 425.9L544.0 427.7L544.8 429.6L545.6 431.5L546.4 433.4L547.2 435.4L548.0 437.4L548.8 439.5L549.6 441.6L550.4 443.6L551.1 445.5L551.9 447.2L552.7 448.8L553.5 450.2L554.3 451.5L555.1 452.7L555.9 454.0L556.7 455.5L556.68 469.97Z" fill="#DB72FB"/><path d="M462.5 465.72L463.3 465.65L464.1 465.58L464.9 465.53L465.7 465.51L466.5 465.50L467.3 465.52L468.0 465.52L468.8 465.47L469.6 465.33L470.4 465.07L471.2 464.64L472.0 464.04L472.8 463.30L473.6 462.43L474.4 461.46L475.2 460.38L476.0 459.21L476.7 457.98L477.5 456.70L478.3 455.38L479.1 454.02L479.9 452.61L480.7 451.15L481.5 449.61L482.3 447.98L483.1 446.24L483.9 444.46L484.7 442.70L485.5 441.01L486.2 439.46L487.0 438.01L487.8 436.58L488.6 435.14L489.4 433.71L490.2 432.28L491.0 430.84L491.8 429.41L492.6 427.97L493.4 426.54L494.2 425.11L495.0 423.67L495.7 422.24L496.5 420.81L497.3 419.37L498.1 417.94L498.9 416.50L499.7 415.07L500.5 413.64L501.3 412.20L502.1 410.77L502.9 409.34L503.7 407.90L504.4 406.47L505.2 405.03L506.0 403.61L506.8 402.23L507.6 401.00L508.4 399.90L509.2 398.90L510.0 397.96L510.8 397.08L511.6 396.38L512.4 395.87L513.2 395.54L513.9 395.36L514.7 395.32L515.5 395.47L516.3 395.85L517.1 396.53L517.9 397.33L518.7 398.16L519.5 399.01L520.3 399.87L521.1 400.75L521.9 401.66L522.7 402.59L523.4 403.53L524.2 404.47L525.0 405.38L525.8 406.25L526.6 407.04L527.4 407.75L528.2 408.37L529.0 408.94L529.8 409.49L530.6 410.03L531.4 410.52L532.1 410.97L532.9 411.41L533.7 411.86L534.5 412.37L535.3 412.94L536.1 413.59L536.9 414.36L537.7 415.27L538.5 416.35L539.3 417.61L540.1 419.04L540.9 420.62L541.6 422.31L542.4 424.09L543.2 425.91L544.0 427.75L544.8 429.61L545.6 431.50L546.4 433.42L547.2 435.39L548.0 437.43L548.8 439.50L549.6 441.56L550.4 443.56L551.1 445.47L551.9 447.23L552.7 448.81L553.5 450.21L554.3 451.48L555.1 452.70L555.9 454.03L556.7 455.53" fill="none" stroke="#000" stroke-width="0.95" stroke-linejoin="round"/>
<path d="M462.50 470.37L462.5 469.8L463.3 469.9L464.1 469.9L464.9 469.8L465.7 469.7L466.5 469.5L467.3 469.3L468.0 469.0L468.8 468.7L469.6 468.2L470.4 467.7L471.2 467.0L472.0 466.2L472.8 465.2L473.6 464.1L474.4 463.0L475.2 461.7L476.0 460.4L476.7 459.1L477.5 457.7L478.3 456.3L479.1 454.9L479.9 453.5L480.7 452.0L481.5 450.4L482.3 448.8L483.1 447.1L483.9 445.3L484.7 443.5L485.5 441.7L486.2 440.1L487.0 438.6L487.8 437.2L488.6 435.7L489.4 434.3L490.2 432.8L491.0 431.4L491.8 429.9L492.6 428.5L493.4 427.0L494.2 425.6L495.0 424.1L495.7 422.7L496.5 421.2L497.3 419.8L498.1 418.3L498.9 416.8L499.7 415.4L500.5 413.9L501.3 412.5L502.1 411.0L502.9 409.6L503.7 408.1L504.4 406.7L505.2 405.2L506.0 403.8L506.8 402.4L507.6 401.1L508.4 400.0L509.2 399.0L510.0 398.0L510.8 397.1L511.6 396.4L512.4 395.9L513.2 395.5L513.9 395.4L514.7 395.3L515.5 395.5L516.3 395.9L517.1 396.6L517.9 397.4L518.7 398.2L519.5 399.1L520.3 399.9L521.1 400.8L521.9 401.8L522.7 402.7L523.4 403.7L524.2 404.6L525.0 405.5L525.8 406.4L526.6 407.2L527.4 407.9L528.2 408.5L529.0 409.1L529.8 409.6L530.6 410.2L531.4 410.6L532.1 411.1L532.9 411.5L533.7 412.0L534.5 412.5L535.3 413.1L536.1 413.8L536.9 414.6L537.7 415.6L538.5 416.8L539.3 418.1L540.1 419.6L540.9 421.3L541.6 423.0L542.4 424.8L543.2 426.7L544.0 428.6L544.8 430.5L545.6 432.4L546.4 434.4L547.2 436.4L548.0 438.5L548.8 440.6L549.6 442.6L550.4 444.7L551.1 446.6L551.9 448.4L552.7 450.2L553.5 451.8L554.3 453.5L555.1 455.1L555.9 456.6L556.7 458.0L556.68 470.37Z" fill="#FF61C3"/><path d="M462.5 469.80L463.3 469.88L464.1 469.88L464.9 469.81L465.7 469.68L466.5 469.49L467.3 469.26L468.0 468.99L468.8 468.65L469.6 468.23L470.4 467.70L471.2 467.02L472.0 466.19L472.8 465.21L473.6 464.14L474.4 462.98L475.2 461.74L476.0 460.44L476.7 459.10L477.5 457.72L478.3 456.32L479.1 454.91L479.9 453.47L480.7 451.98L481.5 450.45L482.3 448.84L483.1 447.11L483.9 445.31L484.7 443.50L485.5 441.74L486.2 440.10L487.0 438.61L487.8 437.16L488.6 435.71L489.4 434.26L490.2 432.81L491.0 431.36L491.8 429.91L492.6 428.46L493.4 427.00L494.2 425.55L495.0 424.10L495.7 422.65L496.5 421.20L497.3 419.75L498.1 418.30L498.9 416.85L499.7 415.40L500.5 413.95L501.3 412.50L502.1 411.04L502.9 409.59L503.7 408.14L504.4 406.69L505.2 405.24L506.0 403.79L506.8 402.38L507.6 401.12L508.4 400.00L509.2 398.98L510.0 398.03L510.8 397.13L511.6 396.41L512.4 395.88L513.2 395.54L513.9 395.36L514.7 395.32L515.5 395.47L516.3 395.86L517.1 396.55L517.9 397.37L518.7 398.21L519.5 399.07L520.3 399.94L521.1 400.84L521.9 401.76L522.7 402.70L523.4 403.66L524.2 404.60L525.0 405.52L525.8 406.39L526.6 407.19L527.4 407.88L528.2 408.49L529.0 409.06L529.8 409.62L530.6 410.15L531.4 410.64L532.1 411.08L532.9 411.53L533.7 412.00L534.5 412.53L535.3 413.12L536.1 413.81L536.9 414.63L537.7 415.60L538.5 416.76L539.3 418.11L540.1 419.62L540.9 421.27L541.6 423.02L542.4 424.85L543.2 426.70L544.0 428.57L544.8 430.46L545.6 432.39L546.4 434.35L547.2 436.38L548.0 438.47L548.8 440.57L549.6 442.65L550.4 444.66L551.1 446.57L551.9 448.40L552.7 450.15L553.5 451.84L554.3 453.48L555.1 455.06L555.9 456.58L556.7 458.03" fill="none" stroke="#000" stroke-width="0.95" stroke-linejoin="round"/>
</g>
<g clip-path="url(#cp55)">
<path d="M570.50 562.78L570.5 562.4L571.3 562.3L572.1 562.3L572.9 562.2L573.7 562.1L574.5 562.0L575.3 561.9L576.0 561.8L576.8 561.7L577.6 561.6L578.4 561.5L579.2 561.5L580.0 561.4L580.8 561.3L581.6 561.1L582.4 560.9L583.2 560.7L584.0 560.4L584.7 560.0L585.5 559.5L586.3 559.0L587.1 558.3L587.9 557.6L588.7 556.9L589.5 556.3L590.3 555.6L591.1 554.9L591.9 554.1L592.7 553.4L593.5 552.7L594.2 552.1L595.0 551.7L595.8 551.5L596.6 551.4L597.4 551.4L598.2 551.4L599.0 551.2L599.8 550.9L600.6 550.4L601.4 549.7L602.2 548.8L603.0 547.5L603.7 545.8L604.5 543.7L605.3 541.1L606.1 538.2L606.9 535.2L607.7 532.1L608.5 528.9L609.3 525.7L610.1 522.4L610.9 519.1L611.7 515.8L612.4 512.5L613.2 509.4L614.0 506.4L614.8 503.6L615.6 500.8L616.4 498.1L617.2 495.6L618.0 493.3L618.8 491.2L619.6 489.3L620.4 487.7L621.2 486.4L621.9 485.3L622.7 484.3L623.5 483.6L624.3 483.1L625.1 483.0L625.9 483.3L626.7 483.8L627.5 484.7L628.3 485.7L629.1 486.9L629.9 488.4L630.7 490.1L631.4 492.0L632.2 494.0L633.0 496.4L633.8 499.1L634.6 502.2L635.4 505.3L636.2 508.4L637.0 511.5L637.8 514.6L638.6 517.7L639.4 520.8L640.1 523.9L640.9 527.0L641.7 530.0L642.5 532.7L643.3 535.3L644.1 537.8L644.9 540.1L645.7 542.1L646.5 543.9L647.3 545.6L648.1 547.2L648.9 548.7L649.6 550.1L650.4 551.5L651.2 552.7L652.0 553.9L652.8 555.0L653.6 556.0L654.4 556.8L655.2 557.4L656.0 557.7L656.8 557.8L657.6 557.7L658.4 557.5L659.1 557.1L659.9 556.7L660.7 556.3L661.5 555.9L662.3 555.7L663.1 555.7L663.9 555.9L664.7 556.2L664.68 562.78Z" fill="#F8766D"/><path d="M570.5 562.39L571.3 562.33L572.1 562.26L572.9 562.18L573.7 562.09L574.5 562.00L575.3 561.91L576.0 561.81L576.8 561.72L577.6 561.63L578.4 561.54L579.2 561.46L580.0 561.36L580.8 561.25L581.6 561.11L582.4 560.93L583.2 560.70L584.0 560.42L584.7 560.04L585.5 559.54L586.3 558.95L587.1 558.30L587.9 557.63L588.7 556.95L589.5 556.29L590.3 555.60L591.1 554.87L591.9 554.14L592.7 553.41L593.5 552.73L594.2 552.11L595.0 551.69L595.8 551.49L596.6 551.42L597.4 551.41L598.2 551.37L599.0 551.20L599.8 550.88L600.6 550.40L601.4 549.72L602.2 548.80L603.0 547.54L603.7 545.84L604.5 543.68L605.3 541.11L606.1 538.21L606.9 535.18L607.7 532.08L608.5 528.93L609.3 525.70L610.1 522.41L610.9 519.07L611.7 515.75L612.4 512.50L613.2 509.38L614.0 506.42L614.8 503.56L615.6 500.79L616.4 498.11L617.2 495.62L618.0 493.32L618.8 491.22L619.6 489.32L620.4 487.73L621.2 486.39L621.9 485.27L622.7 484.30L623.5 483.56L624.3 483.11L625.1 483.00L625.9 483.26L626.7 483.84L627.5 484.68L628.3 485.72L629.1 486.95L629.9 488.39L630.7 490.08L631.4 491.97L632.2 494.05L633.0 496.39L633.8 499.11L634.6 502.15L635.4 505.26L636.2 508.37L637.0 511.48L637.8 514.59L638.6 517.70L639.4 520.81L640.1 523.92L640.9 527.00L641.7 529.96L642.5 532.73L643.3 535.34L644.1 537.79L644.9 540.05L645.7 542.09L646.5 543.93L647.3 545.63L648.1 547.21L648.9 548.71L649.6 550.14L650.4 551.48L651.2 552.73L652.0 553.91L652.8 555.01L653.6 556.00L654.4 556.81L655.2 557.39L656.0 557.69L656.8 557.77L657.6 557.69L658.4 557.45L659.1 557.10L659.9 556.68L660.7 556.25L661.5 555.91L662.3 555.71L663.1 555.70L663.9 555.87L664.7 556.20" fill="none" stroke="#000" stroke-width="0.95" stroke-linejoin="round"/>
<path d="M570.50 562.78L570.5 562.5L571.3 562.4L572.1 562.3L572.9 562.3L573.7 562.2L574.5 562.1L575.3 562.0L576.0 561.9L576.8 561.8L577.6 561.7L578.4 561.6L579.2 561.5L580.0 561.5L580.8 561.4L581.6 561.3L582.4 561.1L583.2 560.9L584.0 560.7L584.7 560.4L585.5 560.0L586.3 559.5L587.1 558.9L587.9 558.2L588.7 557.5L589.5 556.8L590.3 556.2L591.1 555.4L591.9 554.7L592.7 553.9L593.5 553.2L594.2 552.5L595.0 551.9L595.8 551.6L596.6 551.4L597.4 551.4L598.2 551.4L599.0 551.3L599.8 551.1L600.6 550.7L601.4 550.1L602.2 549.3L603.0 548.3L603.7 546.8L604.5 544.8L605.3 542.4L606.1 539.5L606.9 536.4L607.7 533.3L608.5 530.1L609.3 526.9L610.1 523.5L610.9 520.2L611.7 516.8L612.4 513.4L613.2 510.2L614.0 507.1L614.8 504.2L615.6 501.4L616.4 498.6L617.2 496.0L618.0 493.7L618.8 491.5L619.6 489.5L620.4 487.9L621.2 486.5L621.9 485.3L622.7 484.3L623.5 483.5L624.3 482.9L625.1 482.7L625.9 482.8L626.7 483.1L627.5 483.7L628.3 484.3L629.1 484.9L629.9 485.7L630.7 486.5L631.4 487.3L632.2 488.1L633.0 489.1L633.8 490.5L634.6 492.1L635.4 493.9L636.2 495.7L637.0 497.9L637.8 500.3L638.6 503.1L639.4 506.4L640.1 510.0L640.9 513.9L641.7 518.0L642.5 522.1L643.3 526.1L644.1 530.1L644.9 533.8L645.7 537.1L646.5 540.2L647.3 542.9L648.1 545.4L648.9 547.6L649.6 549.5L650.4 551.3L651.2 552.8L652.0 554.2L652.8 555.5L653.6 556.6L654.4 557.5L655.2 558.1L656.0 558.6L656.8 559.0L657.6 559.3L658.4 559.5L659.1 559.7L659.9 559.8L660.7 559.9L661.5 560.0L662.3 560.1L663.1 560.2L663.9 560.2L664.7 560.2L664.68 562.78Z" fill="#93AA00"/><path d="M570.5 562.46L571.3 562.41L572.1 562.34L572.9 562.27L573.7 562.19L574.5 562.10L575.3 562.01L576.0 561.92L576.8 561.82L577.6 561.73L578.4 561.63L579.2 561.54L580.0 561.46L580.8 561.36L581.6 561.25L582.4 561.11L583.2 560.93L584.0 560.69L584.7 560.39L585.5 560.00L586.3 559.48L587.1 558.87L587.9 558.20L588.7 557.51L589.5 556.82L590.3 556.15L591.1 555.44L591.9 554.69L592.7 553.94L593.5 553.21L594.2 552.52L595.0 551.92L595.8 551.58L596.6 551.44L597.4 551.42L598.2 551.41L599.0 551.34L599.8 551.10L600.6 550.71L601.4 550.14L602.2 549.35L603.0 548.28L603.7 546.79L604.5 544.80L605.3 542.36L606.1 539.52L606.9 536.45L607.7 533.32L608.5 530.14L609.3 526.88L610.1 523.55L610.9 520.15L611.7 516.76L612.4 513.42L613.2 510.19L614.0 507.14L614.8 504.22L615.6 501.38L616.4 498.61L617.2 496.04L618.0 493.67L618.8 491.49L619.6 489.52L620.4 487.86L621.2 486.47L621.9 485.30L622.7 484.28L623.5 483.46L624.3 482.92L625.1 482.69L625.9 482.79L626.7 483.14L627.5 483.67L628.3 484.28L629.1 484.93L629.9 485.65L630.7 486.45L631.4 487.28L632.2 488.13L633.0 489.14L633.8 490.48L634.6 492.13L635.4 493.86L636.2 495.74L637.0 497.87L637.8 500.32L638.6 503.14L639.4 506.37L640.1 509.98L640.9 513.93L641.7 517.98L642.5 522.07L643.3 526.13L644.1 530.08L644.9 533.76L645.7 537.12L646.5 540.16L647.3 542.89L648.1 545.36L648.9 547.56L649.6 549.53L650.4 551.28L651.2 552.84L652.0 554.24L652.8 555.51L653.6 556.60L654.4 557.49L655.2 558.14L656.0 558.60L656.8 558.97L657.6 559.27L658.4 559.50L659.1 559.68L659.9 559.82L660.7 559.92L661.5 560.02L662.3 560.11L663.1 560.16L663.9 560.19L664.7 560.17" fill="none" stroke="#000" stroke-width="0.95" stroke-linejoin="round"/>
<path d="M570.50 562.78L570.5 562.2L571.3 562.1L572.1 562.1L572.9 562.0L573.7 561.9L574.5 561.8L575.3 561.7L576.0 561.6L576.8 561.5L577.6 561.5L578.4 561.4L579.2 561.3L580.0 561.1L580.8 560.9L581.6 560.7L582.4 560.5L583.2 560.1L584.0 559.7L584.7 559.1L585.5 558.5L586.3 557.8L587.1 557.2L587.9 556.5L588.7 555.9L589.5 555.2L590.3 554.5L591.1 553.8L591.9 553.1L592.7 552.5L593.5 551.9L594.2 551.6L595.0 551.4L595.8 551.4L596.6 551.4L597.4 551.4L598.2 551.2L599.0 550.8L599.8 550.3L600.6 549.7L601.4 548.8L602.2 547.6L603.0 545.9L603.7 543.9L604.5 541.4L605.3 538.7L606.1 535.7L606.9 532.8L607.7 529.7L608.5 526.6L609.3 523.5L610.1 520.2L610.9 517.0L611.7 513.8L612.4 510.8L613.2 507.8L614.0 505.0L614.8 502.3L615.6 499.7L616.4 497.2L617.2 494.8L618.0 492.7L618.8 490.7L619.6 488.9L620.4 487.4L621.2 486.2L621.9 485.1L622.7 484.2L623.5 483.5L624.3 483.1L625.1 483.0L625.9 483.3L626.7 483.8L627.5 484.6L628.3 485.6L629.1 486.7L629.9 488.1L630.7 489.7L631.4 491.5L632.2 493.4L633.0 495.6L633.8 498.1L634.6 500.9L635.4 503.9L636.2 506.9L637.0 509.9L637.8 512.9L638.6 515.9L639.4 518.9L640.1 521.9L640.9 524.9L641.7 527.9L642.5 530.7L643.3 533.3L644.1 535.8L644.9 538.1L645.7 540.3L646.5 542.2L647.3 544.0L648.1 545.6L648.9 547.2L649.6 548.6L650.4 550.0L651.2 551.3L652.0 552.6L652.8 553.7L653.6 554.8L654.4 555.9L655.2 556.8L656.0 557.6L656.8 558.2L657.6 558.6L658.4 558.9L659.1 559.2L659.9 559.4L660.7 559.6L661.5 559.8L662.3 559.9L663.1 560.0L663.9 560.1L664.7 560.1L664.68 562.78Z" fill="#D39200"/><path d="M570.5 562.23L571.3 562.15L572.1 562.07L572.9 561.98L573.7 561.89L574.5 561.80L575.3 561.70L576.0 561.62L576.8 561.53L577.6 561.45L578.4 561.36L579.2 561.26L580.0 561.12L580.8 560.95L581.6 560.73L582.4 560.46L583.2 560.11L584.0 559.66L584.7 559.11L585.5 558.50L586.3 557.85L587.1 557.19L587.9 556.55L588.7 555.90L589.5 555.21L590.3 554.50L591.1 553.80L591.9 553.11L592.7 552.46L593.5 551.91L594.2 551.58L595.0 551.45L595.8 551.42L596.6 551.41L597.4 551.36L598.2 551.17L599.0 550.83L599.8 550.35L600.6 549.67L601.4 548.77L602.2 547.55L603.0 545.92L603.7 543.87L604.5 541.42L605.3 538.66L606.1 535.73L606.9 532.76L607.7 529.72L608.5 526.63L609.3 523.46L610.1 520.24L610.9 517.02L611.7 513.85L612.4 510.77L613.2 507.85L614.0 505.04L614.8 502.33L615.6 499.68L616.4 497.16L617.2 494.82L618.0 492.67L618.8 490.69L619.6 488.94L620.4 487.45L621.2 486.20L621.9 485.13L622.7 484.23L623.5 483.53L624.3 483.11L625.1 483.00L625.9 483.25L626.7 483.80L627.5 484.60L628.3 485.58L629.1 486.74L629.9 488.09L630.7 489.67L631.4 491.45L632.2 493.40L633.0 495.57L633.8 498.06L634.6 500.88L635.4 503.88L636.2 506.88L637.0 509.89L637.8 512.89L638.6 515.89L639.4 518.90L640.1 521.90L640.9 524.90L641.7 527.87L642.5 530.68L643.3 533.31L644.1 535.80L644.9 538.14L645.7 540.29L646.5 542.24L647.3 544.01L648.1 545.64L648.9 547.17L649.6 548.63L650.4 550.01L651.2 551.32L652.0 552.56L652.8 553.72L653.6 554.84L654.4 555.88L655.2 556.82L656.0 557.60L656.8 558.17L657.6 558.59L658.4 558.93L659.1 559.22L659.9 559.45L660.7 559.63L661.5 559.77L662.3 559.88L663.1 559.98L663.9 560.06L664.7 560.13" fill="none" stroke="#000" stroke-width="0.95" stroke-linejoin="round"/>
<path d="M570.50 562.78L570.5 558.9L571.3 558.7L572.1 558.6L572.9 558.6L573.7 558.7L574.5 558.8L575.3 559.0L576.0 559.3L576.8 559.5L577.6 559.8L578.4 560.0L579.2 560.2L580.0 560.4L580.8 560.5L581.6 560.5L582.4 560.4L583.2 560.1L584.0 559.8L584.7 559.3L585.5 558.6L586.3 557.7L587.1 556.7L587.9 555.6L588.7 554.5L589.5 553.3L590.3 552.0L591.1 550.8L591.9 549.7L592.7 548.8L593.5 548.1L594.2 547.8L595.0 547.9L595.8 548.3L596.6 548.8L597.4 549.4L598.2 549.8L599.0 550.0L599.8 550.0L600.6 549.7L601.4 549.1L602.2 548.2L603.0 546.9L603.7 545.1L604.5 542.8L605.3 540.1L606.1 537.2L606.9 534.2L607.7 531.1L608.5 528.0L609.3 524.8L610.1 521.5L610.9 518.2L611.7 515.0L612.4 511.8L613.2 508.8L614.0 505.9L614.8 503.1L615.6 500.3L616.4 497.7L617.2 495.3L618.0 493.1L618.8 491.0L619.6 489.2L620.4 487.6L621.2 486.3L621.9 485.2L622.7 484.3L623.5 483.6L624.3 483.1L625.1 483.0L625.9 483.3L626.7 483.8L627.5 484.6L628.3 485.7L629.1 486.9L629.9 488.3L630.7 489.9L631.4 491.8L632.2 493.8L633.0 496.1L633.8 498.7L634.6 501.6L635.4 504.7L636.2 507.8L637.0 510.8L637.8 513.9L638.6 517.0L639.4 520.0L640.1 523.1L640.9 526.1L641.7 529.1L642.5 531.9L643.3 534.5L644.1 537.0L644.9 539.3L645.7 541.4L646.5 543.3L647.3 545.0L648.1 546.6L648.9 548.1L649.6 549.5L650.4 550.9L651.2 552.2L652.0 553.4L652.8 554.6L653.6 555.6L654.4 556.6L655.2 557.4L656.0 558.1L656.8 558.5L657.6 558.9L658.4 559.2L659.1 559.4L659.9 559.6L660.7 559.8L661.5 559.9L662.3 560.0L663.1 560.1L663.9 560.1L664.7 560.2L664.68 562.78Z" fill="#00BA38"/><path d="M570.5 558.86L571.3 558.68L572.1 558.59L572.9 558.58L573.7 558.66L574.5 558.81L575.3 559.01L576.0 559.25L576.8 559.51L577.6 559.77L578.4 560.02L579.2 560.23L580.0 560.38L580.8 560.46L581.6 560.45L582.4 560.36L583.2 560.15L584.0 559.80L584.7 559.28L585.5 558.59L586.3 557.73L587.1 556.74L587.9 555.64L588.7 554.48L589.5 553.25L590.3 552.00L591.1 550.78L591.9 549.69L592.7 548.79L593.5 548.14L594.2 547.82L595.0 547.89L595.8 548.27L596.6 548.81L597.4 549.36L598.2 549.79L599.0 550.00L599.8 549.96L600.6 549.67L601.4 549.10L602.2 548.20L603.0 546.87L603.7 545.05L604.5 542.79L605.3 540.12L606.1 537.20L606.9 534.19L607.7 531.12L608.5 527.99L609.3 524.79L610.1 521.52L610.9 518.24L611.7 514.98L612.4 511.80L613.2 508.76L614.0 505.86L614.8 503.06L615.6 500.34L616.4 497.72L617.2 495.29L618.0 493.05L618.8 491.00L619.6 489.17L620.4 487.61L621.2 486.31L621.9 485.21L622.7 484.27L623.5 483.55L624.3 483.11L625.1 483.00L625.9 483.26L626.7 483.82L627.5 484.65L628.3 485.67L629.1 486.86L629.9 488.27L630.7 489.91L631.4 491.76L632.2 493.78L633.0 496.06L633.8 498.68L634.6 501.63L635.4 504.70L636.2 507.76L637.0 510.83L637.8 513.89L638.6 516.96L639.4 520.03L640.1 523.09L640.9 526.15L641.7 529.11L642.5 531.90L643.3 534.52L644.1 536.99L644.9 539.30L645.7 541.38L646.5 543.27L647.3 544.99L648.1 546.59L648.9 548.10L649.6 549.54L650.4 550.91L651.2 552.19L652.0 553.40L652.8 554.55L653.6 555.64L654.4 556.61L655.2 557.44L656.0 558.06L656.8 558.52L657.6 558.89L658.4 559.19L659.1 559.43L659.9 559.62L660.7 559.76L661.5 559.88L662.3 559.97L663.1 560.06L663.9 560.13L664.7 560.18" fill="none" stroke="#000" stroke-width="0.95" stroke-linejoin="round"/>
<path d="M570.50 562.78L570.5 562.2L571.3 562.1L572.1 562.0L572.9 561.9L573.7 561.8L574.5 561.7L575.3 561.6L576.0 561.6L576.8 561.5L577.6 561.4L578.4 561.3L579.2 561.2L580.0 561.0L580.8 560.8L581.6 560.6L582.4 560.3L583.2 559.9L584.0 559.4L584.7 558.8L585.5 558.2L586.3 557.5L587.1 556.9L587.9 556.2L588.7 555.6L589.5 554.9L590.3 554.2L591.1 553.5L591.9 552.8L592.7 552.2L593.5 551.8L594.2 551.5L595.0 551.4L595.8 551.4L596.6 551.4L597.4 551.2L598.2 551.0L599.0 550.5L599.8 549.9L600.6 549.0L601.4 547.8L602.2 546.1L603.0 544.0L603.7 541.4L604.5 538.3L605.3 534.9L606.1 531.5L606.9 528.0L607.7 524.5L608.5 521.2L609.3 517.9L610.1 514.8L610.9 511.8L611.7 509.1L612.4 506.6L613.2 504.2L614.0 502.1L614.8 499.9L615.6 497.8L616.4 495.8L617.2 493.8L618.0 491.9L618.8 490.2L619.6 488.6L620.4 487.2L621.2 486.1L621.9 485.1L622.7 484.2L623.5 483.5L624.3 483.1L625.1 483.0L625.9 483.2L626.7 483.8L627.5 484.6L628.3 485.5L629.1 486.7L629.9 488.0L630.7 489.6L631.4 491.3L632.2 493.2L633.0 495.3L633.8 497.7L634.6 500.5L635.4 503.4L636.2 506.3L637.0 509.2L637.8 512.0L638.6 514.8L639.4 517.6L640.1 520.2L640.9 522.8L641.7 525.3L642.5 527.5L643.3 529.6L644.1 531.4L644.9 533.1L645.7 534.7L646.5 536.2L647.3 537.6L648.1 539.0L648.9 540.5L649.6 542.1L650.4 543.8L651.2 545.6L652.0 547.4L652.8 549.2L653.6 551.0L654.4 552.7L655.2 554.2L656.0 555.6L656.8 556.6L657.6 557.5L658.4 558.1L659.1 558.6L659.9 559.1L660.7 559.4L661.5 559.6L662.3 559.8L663.1 559.9L663.9 560.0L664.7 560.1L664.68 562.78Z" fill="#00C19F"/><path d="M570.5 562.17L571.3 562.09L572.1 562.01L572.9 561.92L573.7 561.83L574.5 561.74L575.3 561.65L576.0 561.56L576.8 561.48L577.6 561.40L578.4 561.30L579.2 561.18L580.0 561.02L580.8 560.83L581.6 560.59L582.4 560.28L583.2 559.88L584.0 559.38L584.7 558.80L585.5 558.17L586.3 557.52L587.1 556.88L587.9 556.25L588.7 555.58L589.5 554.89L590.3 554.19L591.1 553.49L591.9 552.83L592.7 552.23L593.5 551.77L594.2 551.52L595.0 551.42L595.8 551.40L596.6 551.36L597.4 551.24L598.2 550.96L599.0 550.51L599.8 549.86L600.6 548.96L601.4 547.76L602.2 546.12L603.0 543.98L603.7 541.36L604.5 538.30L605.3 534.94L606.1 531.47L606.9 527.99L607.7 524.54L608.5 521.18L609.3 517.91L610.1 514.78L610.9 511.83L611.7 509.08L612.4 506.55L613.2 504.24L614.0 502.06L614.8 499.92L615.6 497.80L616.4 495.75L617.2 493.79L618.0 491.93L618.8 490.18L619.6 488.60L620.4 487.23L621.2 486.06L621.9 485.05L622.7 484.18L623.5 483.51L624.3 483.10L625.1 483.00L625.9 483.25L626.7 483.78L627.5 484.57L628.3 485.54L629.1 486.68L629.9 488.00L630.7 489.55L631.4 491.29L632.2 493.21L633.0 495.32L633.8 497.73L634.6 500.46L635.4 503.39L636.2 506.30L637.0 509.19L637.8 512.03L638.6 514.83L639.4 517.56L640.1 520.22L640.9 522.79L641.7 525.26L642.5 527.52L643.3 529.56L644.1 531.41L644.9 533.12L645.7 534.71L646.5 536.18L647.3 537.59L648.1 539.02L648.9 540.51L649.6 542.11L650.4 543.82L651.2 545.59L652.0 547.40L652.8 549.20L653.6 550.97L654.4 552.67L655.2 554.21L656.0 555.56L656.8 556.64L657.6 557.48L658.4 558.13L659.1 558.65L659.9 559.05L660.7 559.36L661.5 559.59L662.3 559.76L663.1 559.89L663.9 560.00L664.7 560.09" fill="none" stroke="#000" stroke-width="0.95" stroke-linejoin="round"/>
<path d="M570.50 562.78L570.5 562.4L571.3 562.3L572.1 562.2L572.9 562.1L573.7 562.0L574.5 562.0L575.3 561.9L576.0 561.8L576.8 561.7L577.6 561.6L578.4 561.5L579.2 561.4L580.0 561.3L580.8 561.2L581.6 561.0L582.4 560.8L583.2 560.6L584.0 560.3L584.7 559.9L585.5 559.3L586.3 558.7L587.1 558.1L587.9 557.4L588.7 556.7L589.5 556.1L590.3 555.4L591.1 554.7L591.9 553.9L592.7 553.2L593.5 552.5L594.2 551.9L595.0 551.6L595.8 551.5L596.6 551.4L597.4 551.4L598.2 551.4L599.0 551.1L599.8 550.8L600.6 550.3L601.4 549.6L602.2 548.6L603.0 547.3L603.7 545.5L604.5 543.2L605.3 540.6L606.1 537.7L606.9 534.7L607.7 531.6L608.5 528.5L609.3 525.2L610.1 522.0L610.9 518.7L611.7 515.4L612.4 512.1L613.2 509.1L614.0 506.1L614.8 503.3L615.6 500.6L616.4 497.9L617.2 495.5L618.0 493.2L618.8 491.1L619.6 489.2L620.4 487.7L621.2 486.4L621.9 485.2L622.7 484.3L623.5 483.6L624.3 483.1L625.1 483.0L625.9 483.3L626.7 483.8L627.5 484.7L628.3 485.7L629.1 486.9L629.9 488.3L630.7 490.0L631.4 491.9L632.2 493.9L633.0 496.2L633.8 498.9L634.6 501.9L635.4 505.0L636.2 508.1L637.0 511.2L637.8 514.2L638.6 517.3L639.4 520.4L640.1 523.5L640.9 526.6L641.7 529.5L642.5 532.3L643.3 534.9L644.1 537.4L644.9 539.7L645.7 541.7L646.5 543.6L647.3 545.3L648.1 546.9L648.9 548.4L649.6 549.8L650.4 551.2L651.2 552.5L652.0 553.7L652.8 554.8L653.6 555.9L654.4 556.8L655.2 557.6L656.0 558.2L656.8 558.6L657.6 559.0L658.4 559.3L659.1 559.5L659.9 559.7L660.7 559.8L661.5 559.9L662.3 560.0L663.1 560.1L663.9 560.2L664.7 560.2L664.68 562.78Z" fill="#00B9E3"/><path d="M570.5 562.36L571.3 562.30L572.1 562.22L572.9 562.14L573.7 562.05L574.5 561.96L575.3 561.87L576.0 561.77L576.8 561.68L577.6 561.59L578.4 561.51L579.2 561.42L580.0 561.32L580.8 561.20L581.6 561.04L582.4 560.85L583.2 560.60L584.0 560.28L584.7 559.87L585.5 559.34L586.3 558.74L587.1 558.08L587.9 557.40L588.7 556.73L589.5 556.08L590.3 555.38L591.1 554.65L591.9 553.92L592.7 553.21L593.5 552.54L594.2 551.95L595.0 551.60L595.8 551.45L596.6 551.42L597.4 551.41L598.2 551.35L599.0 551.15L599.8 550.79L600.6 550.28L601.4 549.56L602.2 548.59L603.0 547.25L603.7 545.47L604.5 543.24L605.3 540.62L606.1 537.71L606.9 534.68L607.7 531.60L608.5 528.46L609.3 525.24L610.1 521.96L610.9 518.65L611.7 515.36L612.4 512.15L613.2 509.07L614.0 506.13L614.8 503.31L615.6 500.56L616.4 497.92L617.2 495.46L618.0 493.19L618.8 491.11L619.6 489.24L620.4 487.67L621.2 486.35L621.9 485.24L622.7 484.29L623.5 483.56L624.3 483.11L625.1 483.00L625.9 483.26L626.7 483.83L627.5 484.67L628.3 485.69L629.1 486.91L629.9 488.33L630.7 490.00L631.4 491.87L632.2 493.92L633.0 496.22L633.8 498.89L634.6 501.89L635.4 504.98L636.2 508.06L637.0 511.15L637.8 514.24L638.6 517.33L639.4 520.41L640.1 523.50L640.9 526.57L641.7 529.53L642.5 532.31L643.3 534.93L644.1 537.39L644.9 539.67L645.7 541.73L646.5 543.60L647.3 545.31L648.1 546.90L648.9 548.41L649.6 549.84L650.4 551.19L651.2 552.47L652.0 553.67L652.8 554.82L653.6 555.90L654.4 556.85L655.2 557.63L656.0 558.22L656.8 558.64L657.6 558.99L658.4 559.27L659.1 559.49L659.9 559.67L660.7 559.80L661.5 559.91L662.3 560.01L663.1 560.09L663.9 560.15L664.7 560.18" fill="none" stroke="#000" stroke-width="0.95" stroke-linejoin="round"/>
<path d="M570.50 562.78L570.5 562.3L571.3 562.2L572.1 562.1L572.9 562.0L573.7 561.9L574.5 561.9L575.3 561.8L576.0 561.7L576.8 561.6L577.6 561.5L578.4 561.4L579.2 561.3L580.0 561.2L580.8 561.1L581.6 560.9L582.4 560.6L583.2 560.3L584.0 559.9L584.7 559.4L585.5 558.8L586.3 558.2L587.1 557.5L587.9 556.9L588.7 556.2L589.5 555.5L590.3 554.8L591.1 554.1L591.9 553.4L592.7 552.7L593.5 552.1L594.2 551.7L595.0 551.5L595.8 551.4L596.6 551.4L597.4 551.4L598.2 551.2L599.0 550.9L599.8 550.4L600.6 549.8L601.4 548.8L602.2 547.6L603.0 545.8L603.7 543.6L604.5 540.8L605.3 537.7L606.1 534.3L606.9 530.9L607.7 527.5L608.5 524.1L609.3 520.9L610.1 517.7L610.9 514.6L611.7 511.7L612.4 509.0L613.2 506.4L614.0 504.0L614.8 501.6L615.6 499.3L616.4 496.9L617.2 494.7L618.0 492.7L618.8 490.7L619.6 489.0L620.4 487.5L621.2 486.2L621.9 485.2L622.7 484.2L623.5 483.5L624.3 483.1L625.1 483.0L625.9 483.3L626.7 483.8L627.5 484.6L628.3 485.6L629.1 486.8L629.9 488.2L630.7 489.8L631.4 491.6L632.2 493.6L633.0 495.8L633.8 498.4L634.6 501.3L635.4 504.3L636.2 507.3L637.0 510.4L637.8 513.4L638.6 516.4L639.4 519.5L640.1 522.5L640.9 525.5L641.7 528.5L642.5 531.3L643.3 533.9L644.1 536.4L644.9 538.7L645.7 540.9L646.5 542.8L647.3 544.5L648.1 546.1L648.9 547.6L649.6 549.1L650.4 550.5L651.2 551.8L652.0 553.0L652.8 554.1L653.6 555.2L654.4 556.2L655.2 557.1L656.0 557.8L656.8 558.3L657.6 558.7L658.4 559.1L659.1 559.3L659.9 559.5L660.7 559.7L661.5 559.8L662.3 559.9L663.1 560.0L663.9 560.1L664.7 560.2L664.68 562.78Z" fill="#619CFF"/><path d="M570.5 562.28L571.3 562.21L572.1 562.12L572.9 562.04L573.7 561.95L574.5 561.86L575.3 561.76L576.0 561.67L576.8 561.59L577.6 561.50L578.4 561.42L579.2 561.32L580.0 561.20L580.8 561.05L581.6 560.86L582.4 560.62L583.2 560.32L584.0 559.92L584.7 559.41L585.5 558.82L586.3 558.18L587.1 557.52L587.9 556.86L588.7 556.22L589.5 555.53L590.3 554.83L591.1 554.11L591.9 553.40L592.7 552.73L593.5 552.13L594.2 551.71L595.0 551.50L595.8 551.42L596.6 551.41L597.4 551.37L598.2 551.22L599.0 550.91L599.8 550.43L600.6 549.76L601.4 548.82L602.2 547.55L603.0 545.82L603.7 543.57L604.5 540.84L605.3 537.70L606.1 534.32L606.9 530.91L607.7 527.50L608.5 524.14L609.3 520.85L610.1 517.66L610.9 514.61L611.7 511.71L612.4 508.99L613.2 506.44L614.0 504.01L614.8 501.63L615.6 499.26L616.4 496.94L617.2 494.74L618.0 492.67L618.8 490.73L619.6 488.99L620.4 487.50L621.2 486.24L621.9 485.17L622.7 484.25L623.5 483.54L624.3 483.11L625.1 483.00L625.9 483.25L626.7 483.81L627.5 484.62L628.3 485.62L629.1 486.80L629.9 488.18L630.7 489.79L631.4 491.60L632.2 493.59L633.0 495.81L633.8 498.37L634.6 501.25L635.4 504.28L636.2 507.32L637.0 510.35L637.8 513.39L638.6 516.42L639.4 519.46L640.1 522.49L640.9 525.52L641.7 528.49L642.5 531.29L643.3 533.93L644.1 536.41L644.9 538.74L645.7 540.85L646.5 542.76L647.3 544.51L648.1 546.12L648.9 547.64L649.6 549.08L650.4 550.45L651.2 551.75L652.0 552.97L652.8 554.13L653.6 555.23L654.4 556.25L655.2 557.12L656.0 557.83L656.8 558.35L657.6 558.74L658.4 559.06L659.1 559.33L659.9 559.54L660.7 559.70L661.5 559.83L662.3 559.93L663.1 560.02L663.9 560.10L664.7 560.16" fill="none" stroke="#000" stroke-width="0.95" stroke-linejoin="round"/>
<path d="M570.50 562.78L570.5 561.0L571.3 560.7L572.1 560.5L572.9 560.3L573.7 560.1L574.5 559.9L575.3 559.7L576.0 559.6L576.8 559.5L577.6 559.4L578.4 559.4L579.2 559.4L580.0 559.4L580.8 559.4L581.6 559.4L582.4 559.4L583.2 559.4L584.0 559.3L584.7 559.1L585.5 558.8L586.3 558.4L587.1 557.9L587.9 557.3L588.7 556.7L589.5 556.2L590.3 555.6L591.1 554.9L591.9 554.2L592.7 553.5L593.5 552.8L594.2 552.2L595.0 551.6L595.8 551.2L596.6 550.9L597.4 550.4L598.2 549.6L599.0 548.4L599.8 546.9L600.6 545.3L601.4 543.9L602.2 542.8L603.0 542.0L603.7 541.3L604.5 540.4L605.3 539.0L606.1 537.1L606.9 534.8L607.7 532.1L608.5 529.2L609.3 526.1L610.1 522.8L610.9 519.5L611.7 516.1L612.4 512.9L613.2 509.7L614.0 506.7L614.8 503.8L615.6 501.0L616.4 498.3L617.2 495.8L618.0 493.5L618.8 491.3L619.6 489.4L620.4 487.8L621.2 486.4L621.9 485.3L622.7 484.3L623.5 483.6L624.3 483.1L625.1 483.0L625.9 483.3L626.7 483.8L627.5 484.7L628.3 485.8L629.1 487.0L629.9 488.5L630.7 490.2L631.4 492.1L632.2 494.2L633.0 496.6L633.8 499.3L634.6 502.4L635.4 505.5L636.2 508.7L637.0 511.8L637.8 514.9L638.6 518.1L639.4 521.2L640.1 524.3L640.9 527.4L641.7 530.4L642.5 533.2L643.3 535.8L644.1 538.2L644.9 540.4L645.7 542.4L646.5 544.3L647.3 546.0L648.1 547.5L648.9 549.0L649.6 550.4L650.4 551.8L651.2 553.0L652.0 554.2L652.8 555.4L653.6 556.4L654.4 557.3L655.2 558.0L656.0 558.4L656.8 558.8L657.6 559.2L658.4 559.4L659.1 559.6L659.9 559.8L660.7 559.9L661.5 560.0L662.3 560.1L663.1 560.1L663.9 560.2L664.7 560.2L664.68 562.78Z" fill="#DB72FB"/><path d="M570.5 560.96L571.3 560.74L572.1 560.51L572.9 560.29L573.7 560.08L574.5 559.89L575.3 559.72L576.0 559.58L576.8 559.47L577.6 559.40L578.4 559.36L579.2 559.36L580.0 559.38L580.8 559.41L581.6 559.43L582.4 559.43L583.2 559.38L584.0 559.28L584.7 559.10L585.5 558.80L586.3 558.39L587.1 557.88L587.9 557.33L588.7 556.74L589.5 556.16L590.3 555.55L591.1 554.89L591.9 554.20L592.7 553.50L593.5 552.82L594.2 552.17L595.0 551.63L595.8 551.24L596.6 550.88L597.4 550.37L598.2 549.57L599.0 548.41L599.8 546.92L600.6 545.34L601.4 543.91L602.2 542.81L603.0 542.02L603.7 541.30L604.5 540.39L605.3 539.04L606.1 537.15L606.9 534.80L607.7 532.13L608.5 529.21L609.3 526.09L610.1 522.83L610.9 519.49L611.7 516.15L612.4 512.86L613.2 509.70L614.0 506.70L614.8 503.82L615.6 501.02L616.4 498.31L617.2 495.78L618.0 493.46L618.8 491.33L619.6 489.41L620.4 487.78L621.2 486.43L621.9 485.29L622.7 484.32L623.5 483.57L624.3 483.11L625.1 483.00L625.9 483.26L626.7 483.85L627.5 484.70L628.3 485.75L629.1 486.99L629.9 488.45L630.7 490.17L631.4 492.08L632.2 494.18L633.0 496.56L633.8 499.33L634.6 502.42L635.4 505.55L636.2 508.68L637.0 511.81L637.8 514.94L638.6 518.07L639.4 521.21L640.1 524.34L640.9 527.44L641.7 530.39L642.5 533.16L643.3 535.75L644.1 538.20L644.9 540.43L645.7 542.45L646.5 544.27L647.3 545.95L648.1 547.53L648.9 549.03L649.6 550.45L650.4 551.78L651.2 553.04L652.0 554.24L652.8 555.36L653.6 556.39L654.4 557.27L655.2 557.95L656.0 558.45L656.8 558.84L657.6 559.15L658.4 559.40L659.1 559.60L659.9 559.75L660.7 559.87L661.5 559.97L662.3 560.06L663.1 560.13L663.9 560.18L664.7 560.18" fill="none" stroke="#000" stroke-width="0.95" stroke-linejoin="round"/>
<path d="M570.50 563.18L570.5 562.5L571.3 562.4L572.1 562.3L572.9 562.3L573.7 562.2L574.5 562.1L575.3 562.0L576.0 561.9L576.8 561.8L577.6 561.7L578.4 561.6L579.2 561.5L580.0 561.5L580.8 561.4L581.6 561.3L582.4 561.1L583.2 560.9L584.0 560.7L584.7 560.4L585.5 560.0L586.3 559.5L587.1 558.9L587.9 558.2L588.7 557.5L589.5 556.8L590.3 556.2L591.1 555.4L591.9 554.7L592.7 553.9L593.5 553.2L594.2 552.5L595.0 551.9L595.8 551.6L596.6 551.4L597.4 551.4L598.2 551.4L599.0 551.3L599.8 551.1L600.6 550.7L601.4 550.1L602.2 549.3L603.0 548.3L603.7 546.8L604.5 544.8L605.3 542.4L606.1 539.5L606.9 536.4L607.7 533.3L608.5 530.1L609.3 526.9L610.1 523.5L610.9 520.2L611.7 516.8L612.4 513.4L613.2 510.2L614.0 507.1L614.8 504.2L615.6 501.4L616.4 498.6L617.2 496.0L618.0 493.7L618.8 491.5L619.6 489.5L620.4 487.9L621.2 486.5L621.9 485.3L622.7 484.3L623.5 483.6L624.3 483.1L625.1 483.0L625.9 483.3L626.7 483.9L627.5 484.7L628.3 485.8L629.1 487.1L629.9 488.5L630.7 490.3L631.4 492.3L632.2 494.4L633.0 496.8L633.8 499.7L634.6 502.8L635.4 506.0L636.2 509.2L637.0 512.3L637.8 515.5L638.6 518.6L639.4 521.8L640.1 525.0L640.9 528.1L641.7 531.0L642.5 533.8L643.3 536.4L644.1 538.8L644.9 541.0L645.7 543.0L646.5 544.8L647.3 546.4L648.1 548.0L648.9 549.5L649.6 550.9L650.4 552.2L651.2 553.5L652.0 554.7L652.8 555.8L653.6 556.8L654.4 557.6L655.2 558.2L656.0 558.6L656.8 559.0L657.6 559.3L658.4 559.5L659.1 559.7L659.9 559.8L660.7 559.9L661.5 560.0L662.3 560.1L663.1 560.2L663.9 560.2L664.7 560.2L664.68 563.18Z" fill="#FF61C3"/><path d="M570.5 562.46L571.3 562.41L572.1 562.34L572.9 562.27L573.7 562.19L574.5 562.10L575.3 562.01L576.0 561.92L576.8 561.82L577.6 561.73L578.4 561.63L579.2 561.54L580.0 561.46L580.8 561.36L581.6 561.25L582.4 561.11L583.2 560.93L584.0 560.69L584.7 560.39L585.5 560.00L586.3 559.48L587.1 558.87L587.9 558.20L588.7 557.51L589.5 556.82L590.3 556.15L591.1 555.44L591.9 554.69L592.7 553.94L593.5 553.21L594.2 552.52L595.0 551.92L595.8 551.58L596.6 551.44L597.4 551.42L598.2 551.41L599.0 551.34L599.8 551.10L600.6 550.71L601.4 550.14L602.2 549.35L603.0 548.28L603.7 546.79L604.5 544.80L605.3 542.36L606.1 539.52L606.9 536.45L607.7 533.32L608.5 530.14L609.3 526.88L610.1 523.55L610.9 520.15L611.7 516.76L612.4 513.42L613.2 510.19L614.0 507.14L614.8 504.22L615.6 501.38L616.4 498.61L617.2 496.04L618.0 493.67L618.8 491.50L619.6 489.53L620.4 487.87L621.2 486.49L621.9 485.34L622.7 484.35L623.5 483.58L624.3 483.11L625.1 483.00L625.9 483.26L626.7 483.86L627.5 484.73L628.3 485.80L629.1 487.06L629.9 488.55L630.7 490.30L631.4 492.25L632.2 494.39L633.0 496.82L633.8 499.66L634.6 502.82L635.4 505.99L636.2 509.15L637.0 512.32L637.8 515.48L638.6 518.65L639.4 521.82L640.1 524.98L640.9 528.11L641.7 531.05L642.5 533.80L643.3 536.39L644.1 538.82L644.9 541.02L645.7 543.00L646.5 544.79L647.3 546.45L648.1 548.02L648.9 549.50L649.6 550.91L650.4 552.24L651.2 553.48L652.0 554.67L652.8 555.78L653.6 556.77L654.4 557.59L655.2 558.20L656.0 558.63L656.8 558.99L657.6 559.28L658.4 559.51L659.1 559.68L659.9 559.82L660.7 559.92L661.5 560.02L662.3 560.11L663.1 560.16L663.9 560.19L664.7 560.17" fill="none" stroke="#000" stroke-width="0.95" stroke-linejoin="round"/>
</g>
<text x="185.82" y="29.76" text-anchor="middle" class="ct" fill="#4a4a4a">Corr: −0.078.</text>
<text x="185.82" y="37.65" text-anchor="middle" class="ct" fill="#F8766D">a: −0.072</text>
<text x="185.82" y="45.18" text-anchor="middle" class="ct" fill="#D39200">b: −0.073</text>
<text x="185.82" y="53.06" text-anchor="middle" class="ct" fill="#00BA38">c: −0.059</text>
<text x="185.82" y="60.07" text-anchor="middle" class="ct" fill="#00C19F">d: −0.107</text>
<text x="185.82" y="67.96" text-anchor="middle" class="ct" fill="#00B9E3">e: −0.094</text>
<text x="185.82" y="75.31" text-anchor="middle" class="ct" fill="#619CFF">f: −0.075</text>
<text x="185.82" y="83.37" text-anchor="middle" class="ct" fill="#DB72FB">g: −0.074</text>
<text x="185.82" y="92.48" text-anchor="middle" class="ct" fill="#FF61C3">h: −0.082</text>
<text x="293.68" y="29.76" text-anchor="middle" class="ct" fill="#4a4a4a">Corr: −0.134**</text>
<text x="293.68" y="37.65" text-anchor="middle" class="ct" fill="#F8766D">a: −0.126</text>
<text x="293.68" y="45.18" text-anchor="middle" class="ct" fill="#D39200">b: −0.101</text>
<text x="293.68" y="54.82" text-anchor="middle" class="ct" fill="#00BA38">c: −0.136</text>
<text x="293.68" y="61.82" text-anchor="middle" class="ct" fill="#00C19F">d: −0.154</text>
<text x="293.68" y="69.36" text-anchor="middle" class="ct" fill="#00B9E3">e: −0.127</text>
<text x="293.68" y="77.24" text-anchor="middle" class="ct" fill="#619CFF">f: −0.148</text>
<text x="293.68" y="85.83" text-anchor="middle" class="ct" fill="#DB72FB">g: −0.146</text>
<text x="293.68" y="94.76" text-anchor="middle" class="ct" fill="#FF61C3">h: −0.132</text>
<text x="401.52" y="29.76" text-anchor="middle" class="ct" fill="#4a4a4a">Corr: 0.375***</text>
<text x="401.52" y="37.65" text-anchor="middle" class="ct" fill="#F8766D">a: 0.355*</text>
<text x="401.52" y="45.18" text-anchor="middle" class="ct" fill="#D39200">b: 0.410**</text>
<text x="401.52" y="54.82" text-anchor="middle" class="ct" fill="#00BA38">c: 0.387**</text>
<text x="401.52" y="61.82" text-anchor="middle" class="ct" fill="#00C19F">d: 0.335*</text>
<text x="401.52" y="69.36" text-anchor="middle" class="ct" fill="#00B9E3">e: 0.381**</text>
<text x="401.52" y="77.24" text-anchor="middle" class="ct" fill="#619CFF">f: 0.377**</text>
<text x="401.52" y="85.83" text-anchor="middle" class="ct" fill="#DB72FB">g: 0.371**</text>
<text x="401.52" y="94.76" text-anchor="middle" class="ct" fill="#FF61C3">h: 0.395**</text>
<text x="509.37" y="29.76" text-anchor="middle" class="ct" fill="#4a4a4a">Corr: 0.005</text>
<text x="509.37" y="37.65" text-anchor="middle" class="ct" fill="#F8766D">a: 0.003</text>
<text x="509.37" y="45.18" text-anchor="middle" class="ct" fill="#D39200">b: 0.031</text>
<text x="509.37" y="54.82" text-anchor="middle" class="ct" fill="#00BA38">c: 0.020</text>
<text x="509.37" y="61.82" text-anchor="middle" class="ct" fill="#00C19F">d: −0.033</text>
<text x="509.37" y="69.36" text-anchor="middle" class="ct" fill="#00B9E3">f: 0.002</text>
<text x="509.37" y="77.24" text-anchor="middle" class="ct" fill="#619CFF">e: −0.001</text>
<text x="509.37" y="85.83" text-anchor="middle" class="ct" fill="#DB72FB">f: −0.002</text>
<text x="509.37" y="94.76" text-anchor="middle" class="ct" fill="#FF61C3">g: 0.007</text>
<text x="617.23" y="29.55" text-anchor="middle" class="ct" fill="#4a4a4a">Corr: 0.272***</text>
<text x="617.23" y="36.85" text-anchor="middle" class="ct" fill="#F8766D">a: 0.248.</text>
<text x="617.23" y="45.35" text-anchor="middle" class="ct" fill="#D39200">b: 0.293*</text>
<text x="617.23" y="54.15" text-anchor="middle" class="ct" fill="#00BA38">d: 0.316*</text>
<text x="617.23" y="61.15" text-anchor="middle" class="ct" fill="#00C19F">e: 0.225</text>
<text x="617.23" y="69.15" text-anchor="middle" class="ct" fill="#00B9E3">f: 0.296*</text>
<text x="617.23" y="76.75" text-anchor="middle" class="ct" fill="#619CFF">g: 0.291*</text>
<text x="617.23" y="85.15" text-anchor="middle" class="ct" fill="#DB72FB">h: 0.261.</text>
<text x="617.23" y="94.15" text-anchor="middle" class="ct" fill="#FF61C3">i: 0.294*</text>
<text x="293.68" y="120.54" text-anchor="middle" class="ct" fill="#4a4a4a">Corr: 0.414***</text>
<text x="293.68" y="129.30" text-anchor="middle" class="ct" fill="#F8766D">a: 0.483***</text>
<text x="293.68" y="137.18" text-anchor="middle" class="ct" fill="#D39200">b: 0.463***</text>
<text x="293.68" y="146.82" text-anchor="middle" class="ct" fill="#00BA38">c: 0.460***</text>
<text x="293.68" y="153.82" text-anchor="middle" class="ct" fill="#00C19F">d: 0.322*</text>
<text x="293.68" y="161.36" text-anchor="middle" class="ct" fill="#00B9E3">e: 0.465***</text>
<text x="293.68" y="169.24" text-anchor="middle" class="ct" fill="#619CFF">f: 0.374**</text>
<text x="293.68" y="177.48" text-anchor="middle" class="ct" fill="#DB72FB">g: 0.378**</text>
<text x="293.68" y="185.36" text-anchor="middle" class="ct" fill="#FF61C3">h: 0.381**</text>
<text x="401.52" y="120.54" text-anchor="middle" class="ct" fill="#4a4a4a">Corr: 0.169***</text>
<text x="401.52" y="129.82" text-anchor="middle" class="ct" fill="#F8766D">a: 0.109</text>
<text x="401.52" y="137.18" text-anchor="middle" class="ct" fill="#D39200">b: 0.097</text>
<text x="401.52" y="146.29" text-anchor="middle" class="ct" fill="#00BA38">c: 0.241.</text>
<text x="401.52" y="152.95" text-anchor="middle" class="ct" fill="#00C19F">d: 0.089</text>
<text x="401.52" y="160.48" text-anchor="middle" class="ct" fill="#00B9E3">e: 0.066</text>
<text x="401.52" y="168.37" text-anchor="middle" class="ct" fill="#619CFF">f: 0.186</text>
<text x="401.52" y="176.60" text-anchor="middle" class="ct" fill="#DB72FB">g: 0.193</text>
<text x="401.52" y="184.48" text-anchor="middle" class="ct" fill="#FF61C3">h: 0.095</text>
<text x="509.37" y="120.54" text-anchor="middle" class="ct" fill="#4a4a4a">Corr: 0.798***</text>
<text x="509.37" y="129.82" text-anchor="middle" class="ct" fill="#F8766D">a: 0.814***</text>
<text x="509.37" y="137.18" text-anchor="middle" class="ct" fill="#D39200">b: 0.821***</text>
<text x="509.37" y="146.47" text-anchor="middle" class="ct" fill="#00BA38">c: 0.813***</text>
<text x="509.37" y="153.47" text-anchor="middle" class="ct" fill="#00C19F">d: 0.748***</text>
<text x="509.37" y="161.36" text-anchor="middle" class="ct" fill="#00B9E3">e: 0.783***</text>
<text x="509.37" y="169.24" text-anchor="middle" class="ct" fill="#619CFF">f: 0.795***</text>
<text x="509.37" y="177.48" text-anchor="middle" class="ct" fill="#DB72FB">g: 0.792***</text>
<text x="509.37" y="185.36" text-anchor="middle" class="ct" fill="#FF61C3">h: 0.770***</text>
<text x="617.23" y="120.54" text-anchor="middle" class="ct" fill="#4a4a4a">Corr: 0.274***</text>
<text x="617.23" y="129.65" text-anchor="middle" class="ct" fill="#F8766D">a: 0.277*</text>
<text x="617.23" y="137.18" text-anchor="middle" class="ct" fill="#D39200">b: 0.261.</text>
<text x="617.23" y="146.47" text-anchor="middle" class="ct" fill="#00BA38">c: 0.391**</text>
<text x="617.23" y="153.82" text-anchor="middle" class="ct" fill="#00C19F">d: 0.095</text>
<text x="617.23" y="161.36" text-anchor="middle" class="ct" fill="#00B9E3">e: 0.111</text>
<text x="617.23" y="169.24" text-anchor="middle" class="ct" fill="#619CFF">f: 0.332*</text>
<text x="617.23" y="177.48" text-anchor="middle" class="ct" fill="#DB72FB">g: 0.354*</text>
<text x="617.23" y="185.36" text-anchor="middle" class="ct" fill="#FF61C3">h: 0.186</text>
<text x="401.52" y="212.54" text-anchor="middle" class="ct" fill="#4a4a4a">Corr: 0.207***</text>
<text x="401.52" y="221.82" text-anchor="middle" class="ct" fill="#F8766D">a: 0.201</text>
<text x="401.52" y="229.18" text-anchor="middle" class="ct" fill="#D39200">b: 0.133</text>
<text x="401.52" y="237.41" text-anchor="middle" class="ct" fill="#00BA38">c: 0.279*</text>
<text x="401.52" y="244.07" text-anchor="middle" class="ct" fill="#00C19F">d: 0.179</text>
<text x="401.52" y="251.96" text-anchor="middle" class="ct" fill="#00B9E3">e: 0.264.</text>
<text x="401.52" y="259.49" text-anchor="middle" class="ct" fill="#619CFF">f: 0.203</text>
<text x="401.52" y="268.25" text-anchor="middle" class="ct" fill="#DB72FB">g: 0.249.</text>
<text x="401.52" y="277.36" text-anchor="middle" class="ct" fill="#FF61C3">h: 0.200</text>
<text x="509.37" y="212.54" text-anchor="middle" class="ct" fill="#4a4a4a">Corr: 0.805***</text>
<text x="509.37" y="221.82" text-anchor="middle" class="ct" fill="#F8766D">a: 0.832***</text>
<text x="509.37" y="229.18" text-anchor="middle" class="ct" fill="#D39200">b: 0.812***</text>
<text x="509.37" y="237.41" text-anchor="middle" class="ct" fill="#00BA38">c: 0.822***</text>
<text x="509.37" y="243.72" text-anchor="middle" class="ct" fill="#00C19F">d: 0.790***</text>
<text x="509.37" y="251.96" text-anchor="middle" class="ct" fill="#00B9E3">e: 0.849***</text>
<text x="509.37" y="259.49" text-anchor="middle" class="ct" fill="#619CFF">f: 0.786***</text>
<text x="509.37" y="268.25" text-anchor="middle" class="ct" fill="#DB72FB">g: 0.796***</text>
<text x="509.37" y="277.01" text-anchor="middle" class="ct" fill="#FF61C3">h: 0.811***</text>
<text x="617.23" y="212.54" text-anchor="middle" class="ct" fill="#4a4a4a">Corr: 0.125**</text>
<text x="617.23" y="221.82" text-anchor="middle" class="ct" fill="#F8766D">a: 0.182</text>
<text x="617.23" y="229.18" text-anchor="middle" class="ct" fill="#D39200">b: 0.049</text>
<text x="617.23" y="236.71" text-anchor="middle" class="ct" fill="#00BA38">c: 0.157</text>
<text x="617.23" y="243.20" text-anchor="middle" class="ct" fill="#00C19F">d: 0.118</text>
<text x="617.23" y="251.43" text-anchor="middle" class="ct" fill="#00B9E3">e: 0.068</text>
<text x="617.23" y="258.61" text-anchor="middle" class="ct" fill="#619CFF">f: 0.195</text>
<text x="617.23" y="267.37" text-anchor="middle" class="ct" fill="#DB72FB">g: 0.236.</text>
<text x="617.23" y="276.48" text-anchor="middle" class="ct" fill="#FF61C3">h: 0.056</text>
<text x="509.37" y="303.31" text-anchor="middle" class="ct" fill="#4a4a4a">Corr: 0.508***</text>
<text x="509.37" y="313.30" text-anchor="middle" class="ct" fill="#F8766D">a: 0.461***</text>
<text x="509.37" y="321.18" text-anchor="middle" class="ct" fill="#D39200">b: 0.423**</text>
<text x="509.37" y="329.94" text-anchor="middle" class="ct" fill="#00BA38">c: 0.569***</text>
<text x="509.37" y="336.95" text-anchor="middle" class="ct" fill="#00C19F">d: 0.478***</text>
<text x="509.37" y="346.06" text-anchor="middle" class="ct" fill="#00B9E3">e: 0.480***</text>
<text x="509.37" y="353.24" text-anchor="middle" class="ct" fill="#619CFF">f: 0.516***</text>
<text x="509.37" y="362.70" text-anchor="middle" class="ct" fill="#DB72FB">g: 0.536***</text>
<text x="509.37" y="371.46" text-anchor="middle" class="ct" fill="#FF61C3">h: 0.472***</text>
<text x="617.23" y="303.31" text-anchor="middle" class="ct" fill="#4a4a4a">Corr: 0.497***</text>
<text x="617.23" y="313.30" text-anchor="middle" class="ct" fill="#F8766D">a: 0.481***</text>
<text x="617.23" y="321.18" text-anchor="middle" class="ct" fill="#D39200">b: 0.500***</text>
<text x="617.23" y="329.94" text-anchor="middle" class="ct" fill="#00BA38">c: 0.524***</text>
<text x="617.23" y="336.95" text-anchor="middle" class="ct" fill="#00C19F">d: 0.457***</text>
<text x="617.23" y="345.71" text-anchor="middle" class="ct" fill="#00B9E3">e: 0.442**</text>
<text x="617.23" y="352.72" text-anchor="middle" class="ct" fill="#619CFF">f: 0.487***</text>
<text x="617.23" y="361.83" text-anchor="middle" class="ct" fill="#DB72FB">g: 0.472***</text>
<text x="617.23" y="370.59" text-anchor="middle" class="ct" fill="#FF61C3">h: 0.457***</text>
<text x="617.23" y="395.31" text-anchor="middle" class="ct" fill="#4a4a4a">Corr: 0.364***</text>
<text x="617.23" y="405.65" text-anchor="middle" class="ct" fill="#F8766D">a: 0.385**</text>
<text x="617.23" y="413.53" text-anchor="middle" class="ct" fill="#D39200">b: 0.321*</text>
<text x="617.23" y="424.57" text-anchor="middle" class="ct" fill="#00BA38">c: 0.438**</text>
<text x="617.23" y="431.58" text-anchor="middle" class="ct" fill="#00C19F">e: 0.268.</text>
<text x="617.23" y="442.09" text-anchor="middle" class="ct" fill="#00B9E3">d: 0.229</text>
<text x="617.23" y="449.10" text-anchor="middle" class="ct" fill="#619CFF">e: 0.432**</text>
<text x="617.23" y="457.85" text-anchor="middle" class="ct" fill="#DB72FB">f: 0.456***</text>
<text x="617.23" y="467.49" text-anchor="middle" class="ct" fill="#FF61C3">g: 0.272.</text>
<g clip-path="url(#cp10)">
<g fill="#F8766D"><circle cx="125.5" cy="166.8" r="1.95"/><circle cx="79.6" cy="172.2" r="1.95"/></g>
<g fill="#D39200"><circle cx="35.1" cy="130.9" r="1.95"/><circle cx="39.7" cy="180.7" r="1.95"/><circle cx="31.6" cy="191.2" r="1.95"/></g>
<g fill="#00BA38"><circle cx="31.5" cy="134.1" r="1.95"/><circle cx="70.4" cy="137.2" r="1.95"/><circle cx="40.3" cy="145.4" r="1.95"/><circle cx="32.8" cy="153.6" r="1.95"/><circle cx="48.3" cy="167.5" r="1.95"/><circle cx="31.8" cy="173.5" r="1.95"/><circle cx="113.6" cy="160.9" r="1.95"/><circle cx="123.7" cy="167.8" r="1.95"/><circle cx="31.0" cy="186.1" r="1.95"/><circle cx="31.0" cy="190.2" r="1.95"/></g>
<g fill="#00C19F"><circle cx="39.7" cy="129.9" r="1.95"/><circle cx="31.0" cy="153.3" r="1.95"/><circle cx="30.2" cy="170.7" r="1.95"/><circle cx="40.0" cy="181.5" r="1.95"/><circle cx="31.8" cy="155.1" r="1.95"/><circle cx="41.9" cy="142.0" r="1.95"/><circle cx="35.9" cy="154.5" r="1.95"/><circle cx="36.4" cy="171.1" r="1.95"/><circle cx="33.8" cy="147.1" r="1.95"/><circle cx="34.8" cy="158.5" r="1.95"/></g>
<g fill="#00B9E3"><circle cx="35.6" cy="116.5" r="1.95"/><circle cx="46.2" cy="114.2" r="1.95"/><circle cx="32.1" cy="126.4" r="1.95"/><circle cx="36.7" cy="162.6" r="1.95"/><circle cx="83.3" cy="151.3" r="1.95"/><circle cx="122.1" cy="164.5" r="1.95"/><circle cx="57.3" cy="178.9" r="1.95"/><circle cx="31.8" cy="177.9" r="1.95"/><circle cx="46.2" cy="128.7" r="1.95"/><circle cx="31.0" cy="151.5" r="1.95"/><circle cx="31.8" cy="159.6" r="1.95"/><circle cx="32.5" cy="145.5" r="1.95"/></g>
<g fill="#619CFF"><circle cx="31.8" cy="127.3" r="1.95"/><circle cx="55.7" cy="140.8" r="1.95"/><circle cx="31.8" cy="139.8" r="1.95"/><circle cx="36.7" cy="143.0" r="1.95"/><circle cx="31.0" cy="167.8" r="1.95"/><circle cx="116.2" cy="159.8" r="1.95"/><circle cx="32.5" cy="138.0" r="1.95"/><circle cx="35.1" cy="160.0" r="1.95"/><circle cx="47.3" cy="162.9" r="1.95"/></g>
<g fill="#DB72FB"><circle cx="35.6" cy="113.4" r="1.95"/><circle cx="36.7" cy="135.6" r="1.95"/><circle cx="70.4" cy="135.4" r="1.95"/><circle cx="54.7" cy="138.4" r="1.95"/><circle cx="40.3" cy="148.2" r="1.95"/><circle cx="31.0" cy="163.4" r="1.95"/><circle cx="36.7" cy="165.0" r="1.95"/><circle cx="121.7" cy="167.5" r="1.95"/><circle cx="39.2" cy="177.0" r="1.95"/><circle cx="31.2" cy="193.6" r="1.95"/><circle cx="35.7" cy="144.6" r="1.95"/><circle cx="32.1" cy="166.8" r="1.95"/><circle cx="46.9" cy="120.5" r="1.95"/><circle cx="47.3" cy="122.5" r="1.95"/><circle cx="42.6" cy="135.4" r="1.95"/></g>
<g fill="#FF61C3"><circle cx="35.7" cy="115.0" r="1.95"/><circle cx="46.2" cy="116.1" r="1.95"/><circle cx="32.1" cy="123.2" r="1.95"/><circle cx="46.9" cy="122.4" r="1.95"/><circle cx="47.3" cy="124.3" r="1.95"/><circle cx="46.2" cy="130.5" r="1.95"/><circle cx="40.0" cy="131.0" r="1.95"/><circle cx="33.4" cy="130.5" r="1.95"/><circle cx="33.0" cy="132.2" r="1.95"/><circle cx="33.4" cy="134.6" r="1.95"/><circle cx="38.4" cy="135.9" r="1.95"/><circle cx="41.6" cy="134.8" r="1.95"/><circle cx="42.6" cy="137.1" r="1.95"/><circle cx="40.8" cy="137.9" r="1.95"/><circle cx="57.5" cy="132.7" r="1.95"/><circle cx="70.4" cy="136.4" r="1.95"/><circle cx="54.9" cy="139.2" r="1.95"/><circle cx="56.7" cy="143.1" r="1.95"/><circle cx="34.3" cy="140.3" r="1.95"/><circle cx="35.9" cy="141.3" r="1.95"/><circle cx="33.4" cy="143.0" r="1.95"/><circle cx="34.4" cy="145.2" r="1.95"/><circle cx="41.9" cy="143.3" r="1.95"/><circle cx="40.5" cy="149.2" r="1.95"/><circle cx="41.6" cy="152.6" r="1.95"/><circle cx="31.0" cy="149.8" r="1.95"/><circle cx="33.4" cy="155.1" r="1.95"/><circle cx="35.9" cy="155.9" r="1.95"/><circle cx="32.6" cy="158.3" r="1.95"/><circle cx="34.4" cy="159.1" r="1.95"/><circle cx="31.8" cy="160.8" r="1.95"/><circle cx="33.4" cy="161.8" r="1.95"/><circle cx="83.3" cy="153.3" r="1.95"/><circle cx="47.3" cy="164.9" r="1.95"/><circle cx="47.7" cy="169.1" r="1.95"/><circle cx="36.4" cy="169.1" r="1.95"/><circle cx="31.8" cy="171.6" r="1.95"/><circle cx="114.4" cy="159.1" r="1.95"/><circle cx="120.1" cy="166.8" r="1.95"/><circle cx="39.2" cy="180.4" r="1.95"/><circle cx="57.2" cy="177.1" r="1.95"/><circle cx="31.8" cy="180.9" r="1.95"/><circle cx="33.8" cy="137.1" r="1.95"/><circle cx="32.5" cy="146.9" r="1.95"/><circle cx="33.8" cy="148.8" r="1.95"/><circle cx="32.1" cy="155.9" r="1.95"/><circle cx="34.8" cy="157.0" r="1.95"/><circle cx="33.1" cy="164.0" r="1.95"/></g>
</g>
<g clip-path="url(#cp20)">
<g fill="#F8766D"><circle cx="79.6" cy="249.5" r="1.95"/><circle cx="125.3" cy="261.3" r="1.95"/></g>
<g fill="#D39200"><circle cx="32.5" cy="249.2" r="1.95"/><circle cx="34.3" cy="258.8" r="1.95"/><circle cx="31.3" cy="261.4" r="1.95"/></g>
<g fill="#00BA38"><circle cx="30.5" cy="213.0" r="1.95"/><circle cx="38.0" cy="216.5" r="1.95"/><circle cx="30.5" cy="235.6" r="1.95"/><circle cx="36.7" cy="236.9" r="1.95"/><circle cx="57.5" cy="253.8" r="1.95"/><circle cx="31.3" cy="266.7" r="1.95"/><circle cx="113.2" cy="251.1" r="1.95"/><circle cx="123.5" cy="261.9" r="1.95"/></g>
<g fill="#00C19F"><circle cx="32.3" cy="205.4" r="1.95"/><circle cx="46.2" cy="223.8" r="1.95"/><circle cx="46.5" cy="232.7" r="1.95"/><circle cx="31.8" cy="257.4" r="1.95"/><circle cx="35.4" cy="247.1" r="1.95"/><circle cx="41.3" cy="233.2" r="1.95"/><circle cx="36.2" cy="270.8" r="1.95"/></g>
<g fill="#00B9E3"><circle cx="30.5" cy="218.4" r="1.95"/><circle cx="30.5" cy="214.4" r="1.95"/><circle cx="39.2" cy="243.3" r="1.95"/><circle cx="33.4" cy="242.5" r="1.95"/><circle cx="39.7" cy="249.8" r="1.95"/><circle cx="32.8" cy="244.3" r="1.95"/></g>
<g fill="#619CFF"><circle cx="31.8" cy="224.7" r="1.95"/><circle cx="34.3" cy="232.0" r="1.95"/><circle cx="48.2" cy="247.2" r="1.95"/><circle cx="35.1" cy="254.4" r="1.95"/><circle cx="40.5" cy="257.8" r="1.95"/><circle cx="47.3" cy="253.6" r="1.95"/><circle cx="35.9" cy="262.6" r="1.95"/><circle cx="115.7" cy="250.6" r="1.95"/><circle cx="121.9" cy="260.9" r="1.95"/><circle cx="33.4" cy="235.9" r="1.95"/><circle cx="31.8" cy="250.6" r="1.95"/><circle cx="41.6" cy="223.0" r="1.95"/><circle cx="47.0" cy="234.5" r="1.95"/></g>
<g fill="#DB72FB"><circle cx="32.1" cy="207.5" r="1.95"/><circle cx="37.9" cy="218.1" r="1.95"/><circle cx="33.1" cy="227.4" r="1.95"/><circle cx="57.5" cy="231.5" r="1.95"/><circle cx="54.4" cy="247.1" r="1.95"/><circle cx="31.3" cy="264.2" r="1.95"/><circle cx="35.9" cy="265.0" r="1.95"/><circle cx="120.9" cy="262.7" r="1.95"/><circle cx="31.5" cy="239.7" r="1.95"/><circle cx="34.8" cy="215.3" r="1.95"/><circle cx="41.3" cy="243.7" r="1.95"/><circle cx="34.1" cy="242.0" r="1.95"/></g>
<g fill="#FF61C3"><circle cx="32.1" cy="208.3" r="1.95"/><circle cx="30.5" cy="215.7" r="1.95"/><circle cx="34.8" cy="216.8" r="1.95"/><circle cx="32.8" cy="226.8" r="1.95"/><circle cx="41.6" cy="224.2" r="1.95"/><circle cx="47.3" cy="225.1" r="1.95"/><circle cx="41.3" cy="232.0" r="1.95"/><circle cx="46.2" cy="230.7" r="1.95"/><circle cx="47.0" cy="235.9" r="1.95"/><circle cx="56.7" cy="232.5" r="1.95"/><circle cx="31.8" cy="232.3" r="1.95"/><circle cx="32.6" cy="235.9" r="1.95"/><circle cx="34.8" cy="236.4" r="1.95"/><circle cx="33.4" cy="238.1" r="1.95"/><circle cx="36.4" cy="238.9" r="1.95"/><circle cx="39.2" cy="241.8" r="1.95"/><circle cx="41.3" cy="242.5" r="1.95"/><circle cx="32.1" cy="241.8" r="1.95"/><circle cx="33.4" cy="243.8" r="1.95"/><circle cx="47.0" cy="242.5" r="1.95"/><circle cx="47.8" cy="245.4" r="1.95"/><circle cx="54.4" cy="246.2" r="1.95"/><circle cx="70.4" cy="244.1" r="1.95"/><circle cx="83.3" cy="245.1" r="1.95"/><circle cx="32.1" cy="248.5" r="1.95"/><circle cx="34.3" cy="250.0" r="1.95"/><circle cx="37.0" cy="249.0" r="1.95"/><circle cx="39.7" cy="248.4" r="1.95"/><circle cx="42.8" cy="250.3" r="1.95"/><circle cx="57.2" cy="251.6" r="1.95"/><circle cx="32.1" cy="252.0" r="1.95"/><circle cx="33.8" cy="252.8" r="1.95"/><circle cx="31.0" cy="254.9" r="1.95"/><circle cx="33.1" cy="255.6" r="1.95"/><circle cx="34.8" cy="256.5" r="1.95"/><circle cx="40.5" cy="255.6" r="1.95"/><circle cx="47.3" cy="255.6" r="1.95"/><circle cx="35.9" cy="267.5" r="1.95"/><circle cx="36.2" cy="269.3" r="1.95"/><circle cx="114.4" cy="250.8" r="1.95"/><circle cx="119.8" cy="259.8" r="1.95"/><circle cx="31.3" cy="285.8" r="1.95"/><circle cx="33.1" cy="234.3" r="1.95"/><circle cx="34.1" cy="240.2" r="1.95"/><circle cx="32.8" cy="246.2" r="1.95"/></g>
</g>
<g clip-path="url(#cp30)">
<g fill="#F8766D"><circle cx="33.1" cy="308.0" r="1.95"/><circle cx="79.6" cy="342.8" r="1.95"/><circle cx="125.3" cy="320.2" r="1.95"/></g>
<g fill="#D39200"><circle cx="41.3" cy="318.1" r="1.95"/><circle cx="42.9" cy="336.4" r="1.95"/><circle cx="48.2" cy="341.7" r="1.95"/><circle cx="41.8" cy="366.2" r="1.95"/></g>
<g fill="#00BA38"><circle cx="30.7" cy="306.4" r="1.95"/><circle cx="30.2" cy="332.8" r="1.95"/><circle cx="31.0" cy="352.9" r="1.95"/><circle cx="36.4" cy="355.7" r="1.95"/><circle cx="57.3" cy="361.1" r="1.95"/><circle cx="31.3" cy="370.1" r="1.95"/><circle cx="113.2" cy="299.8" r="1.95"/><circle cx="123.4" cy="323.5" r="1.95"/></g>
<g fill="#00C19F"><circle cx="35.6" cy="301.0" r="1.95"/><circle cx="35.1" cy="322.7" r="1.95"/><circle cx="47.5" cy="333.3" r="1.95"/><circle cx="47.8" cy="345.8" r="1.95"/><circle cx="39.7" cy="343.1" r="1.95"/><circle cx="33.4" cy="365.5" r="1.95"/><circle cx="38.0" cy="328.1" r="1.95"/><circle cx="37.7" cy="339.1" r="1.95"/><circle cx="31.0" cy="317.8" r="1.95"/><circle cx="32.6" cy="344.7" r="1.95"/><circle cx="40.3" cy="349.0" r="1.95"/><circle cx="33.4" cy="347.3" r="1.95"/></g>
<g fill="#00B9E3"><circle cx="47.8" cy="322.7" r="1.95"/><circle cx="45.7" cy="330.5" r="1.95"/><circle cx="39.2" cy="331.2" r="1.95"/><circle cx="83.3" cy="329.7" r="1.95"/><circle cx="54.4" cy="340.0" r="1.95"/><circle cx="57.5" cy="354.6" r="1.95"/><circle cx="30.5" cy="361.5" r="1.95"/><circle cx="115.5" cy="301.8" r="1.95"/><circle cx="122.7" cy="319.9" r="1.95"/><circle cx="37.7" cy="331.9" r="1.95"/><circle cx="46.9" cy="327.2" r="1.95"/></g>
<g fill="#619CFF"><circle cx="39.2" cy="326.1" r="1.95"/><circle cx="37.5" cy="348.0" r="1.95"/><circle cx="35.9" cy="352.9" r="1.95"/><circle cx="31.5" cy="327.0" r="1.95"/><circle cx="37.0" cy="344.0" r="1.95"/></g>
<g fill="#DB72FB"><circle cx="31.0" cy="314.9" r="1.95"/><circle cx="35.9" cy="317.0" r="1.95"/><circle cx="37.5" cy="318.1" r="1.95"/><circle cx="57.2" cy="316.3" r="1.95"/><circle cx="40.0" cy="324.3" r="1.95"/><circle cx="35.9" cy="330.9" r="1.95"/><circle cx="70.4" cy="339.5" r="1.95"/><circle cx="47.0" cy="343.3" r="1.95"/><circle cx="57.3" cy="357.4" r="1.95"/><circle cx="35.9" cy="360.3" r="1.95"/><circle cx="115.4" cy="300.3" r="1.95"/><circle cx="121.7" cy="319.6" r="1.95"/><circle cx="33.9" cy="324.8" r="1.95"/><circle cx="35.4" cy="329.9" r="1.95"/><circle cx="31.5" cy="339.1" r="1.95"/><circle cx="41.3" cy="320.7" r="1.95"/></g>
<g fill="#FF61C3"><circle cx="41.0" cy="319.1" r="1.95"/><circle cx="56.8" cy="314.9" r="1.95"/><circle cx="31.0" cy="319.8" r="1.95"/><circle cx="33.4" cy="320.2" r="1.95"/><circle cx="40.3" cy="320.2" r="1.95"/><circle cx="41.3" cy="321.9" r="1.95"/><circle cx="46.9" cy="323.7" r="1.95"/><circle cx="46.9" cy="326.0" r="1.95"/><circle cx="46.5" cy="328.4" r="1.95"/><circle cx="47.2" cy="332.5" r="1.95"/><circle cx="32.1" cy="325.2" r="1.95"/><circle cx="33.8" cy="326.0" r="1.95"/><circle cx="35.4" cy="326.8" r="1.95"/><circle cx="31.8" cy="328.4" r="1.95"/><circle cx="34.3" cy="329.2" r="1.95"/><circle cx="32.6" cy="331.7" r="1.95"/><circle cx="33.8" cy="333.3" r="1.95"/><circle cx="32.1" cy="335.0" r="1.95"/><circle cx="42.4" cy="335.0" r="1.95"/><circle cx="83.3" cy="327.6" r="1.95"/><circle cx="54.4" cy="337.9" r="1.95"/><circle cx="70.4" cy="338.1" r="1.95"/><circle cx="35.9" cy="337.4" r="1.95"/><circle cx="33.4" cy="338.2" r="1.95"/><circle cx="32.1" cy="340.7" r="1.95"/><circle cx="34.8" cy="341.0" r="1.95"/><circle cx="36.4" cy="339.9" r="1.95"/><circle cx="47.0" cy="341.0" r="1.95"/><circle cx="32.6" cy="343.1" r="1.95"/><circle cx="34.3" cy="344.8" r="1.95"/><circle cx="31.8" cy="346.4" r="1.95"/><circle cx="35.9" cy="345.6" r="1.95"/><circle cx="39.2" cy="346.4" r="1.95"/><circle cx="40.3" cy="347.2" r="1.95"/><circle cx="33.4" cy="348.9" r="1.95"/><circle cx="31.8" cy="350.5" r="1.95"/><circle cx="35.1" cy="350.2" r="1.95"/><circle cx="33.4" cy="353.8" r="1.95"/><circle cx="31.8" cy="355.4" r="1.95"/><circle cx="57.2" cy="352.1" r="1.95"/><circle cx="31.0" cy="357.4" r="1.95"/><circle cx="32.1" cy="363.3" r="1.95"/><circle cx="41.6" cy="364.9" r="1.95"/><circle cx="114.4" cy="299.2" r="1.95"/><circle cx="120.1" cy="321.1" r="1.95"/><circle cx="121.1" cy="320.4" r="1.95"/><circle cx="32.8" cy="322.7" r="1.95"/><circle cx="33.1" cy="327.3" r="1.95"/><circle cx="34.8" cy="327.9" r="1.95"/><circle cx="33.4" cy="330.9" r="1.95"/><circle cx="32.8" cy="334.1" r="1.95"/><circle cx="33.1" cy="339.4" r="1.95"/><circle cx="33.8" cy="342.0" r="1.95"/><circle cx="32.8" cy="344.9" r="1.95"/></g>
</g>
<g clip-path="url(#cp40)">
<g fill="#F8766D"><circle cx="79.6" cy="442.0" r="1.95"/><circle cx="125.3" cy="438.1" r="1.95"/></g>
<g fill="#D39200"><circle cx="32.5" cy="393.1" r="1.95"/><circle cx="31.3" cy="458.5" r="1.95"/></g>
<g fill="#00BA38"><circle cx="32.1" cy="393.6" r="1.95"/><circle cx="30.5" cy="397.9" r="1.95"/><circle cx="31.0" cy="431.1" r="1.95"/><circle cx="35.1" cy="436.8" r="1.95"/><circle cx="31.0" cy="437.6" r="1.95"/><circle cx="39.7" cy="445.6" r="1.95"/><circle cx="57.5" cy="453.5" r="1.95"/><circle cx="31.0" cy="469.8" r="1.95"/><circle cx="113.2" cy="422.5" r="1.95"/><circle cx="123.4" cy="440.2" r="1.95"/></g>
<g fill="#00C19F"><circle cx="35.4" cy="402.8" r="1.95"/><circle cx="30.5" cy="405.1" r="1.95"/><circle cx="46.0" cy="404.2" r="1.95"/><circle cx="47.5" cy="430.1" r="1.95"/><circle cx="35.7" cy="427.0" r="1.95"/><circle cx="33.8" cy="415.5" r="1.95"/><circle cx="31.0" cy="446.6" r="1.95"/><circle cx="33.4" cy="424.5" r="1.95"/></g>
<g fill="#00B9E3"><circle cx="46.2" cy="397.0" r="1.95"/><circle cx="39.7" cy="416.3" r="1.95"/><circle cx="54.7" cy="424.2" r="1.95"/><circle cx="48.2" cy="439.7" r="1.95"/><circle cx="121.9" cy="437.3" r="1.95"/></g>
<g fill="#619CFF"><circle cx="37.9" cy="397.9" r="1.95"/><circle cx="56.7" cy="409.5" r="1.95"/><circle cx="35.4" cy="407.0" r="1.95"/><circle cx="35.4" cy="413.4" r="1.95"/><circle cx="31.0" cy="418.3" r="1.95"/><circle cx="34.4" cy="429.6" r="1.95"/><circle cx="35.9" cy="444.9" r="1.95"/><circle cx="30.5" cy="450.3" r="1.95"/><circle cx="36.2" cy="450.7" r="1.95"/><circle cx="116.0" cy="422.4" r="1.95"/><circle cx="35.1" cy="419.3" r="1.95"/><circle cx="31.5" cy="429.1" r="1.95"/></g>
<g fill="#DB72FB"><circle cx="32.1" cy="389.7" r="1.95"/><circle cx="37.9" cy="397.4" r="1.95"/><circle cx="35.4" cy="406.5" r="1.95"/><circle cx="41.3" cy="408.3" r="1.95"/><circle cx="31.5" cy="443.8" r="1.95"/><circle cx="39.2" cy="441.7" r="1.95"/><circle cx="31.3" cy="452.6" r="1.95"/><circle cx="31.3" cy="465.9" r="1.95"/><circle cx="121.2" cy="439.4" r="1.95"/><circle cx="31.5" cy="424.8" r="1.95"/><circle cx="31.8" cy="403.5" r="1.95"/><circle cx="31.8" cy="417.2" r="1.95"/><circle cx="41.6" cy="434.1" r="1.95"/></g>
<g fill="#FF61C3"><circle cx="32.1" cy="391.3" r="1.95"/><circle cx="47.0" cy="398.4" r="1.95"/><circle cx="31.8" cy="401.6" r="1.95"/><circle cx="30.5" cy="403.3" r="1.95"/><circle cx="46.0" cy="402.4" r="1.95"/><circle cx="57.5" cy="403.3" r="1.95"/><circle cx="56.7" cy="407.8" r="1.95"/><circle cx="41.3" cy="406.5" r="1.95"/><circle cx="47.0" cy="406.5" r="1.95"/><circle cx="34.3" cy="411.4" r="1.95"/><circle cx="32.6" cy="413.1" r="1.95"/><circle cx="39.7" cy="413.9" r="1.95"/><circle cx="47.0" cy="413.9" r="1.95"/><circle cx="31.8" cy="415.5" r="1.95"/><circle cx="33.8" cy="416.7" r="1.95"/><circle cx="32.6" cy="419.6" r="1.95"/><circle cx="34.3" cy="420.9" r="1.95"/><circle cx="31.8" cy="422.1" r="1.95"/><circle cx="42.6" cy="422.1" r="1.95"/><circle cx="54.4" cy="422.4" r="1.95"/><circle cx="70.4" cy="419.6" r="1.95"/><circle cx="83.3" cy="424.8" r="1.95"/><circle cx="32.1" cy="424.2" r="1.95"/><circle cx="33.8" cy="425.3" r="1.95"/><circle cx="36.7" cy="426.1" r="1.95"/><circle cx="31.8" cy="427.5" r="1.95"/><circle cx="34.3" cy="428.6" r="1.95"/><circle cx="36.4" cy="429.4" r="1.95"/><circle cx="32.6" cy="430.7" r="1.95"/><circle cx="47.3" cy="429.3" r="1.95"/><circle cx="32.1" cy="433.0" r="1.95"/><circle cx="33.4" cy="434.6" r="1.95"/><circle cx="40.5" cy="434.6" r="1.95"/><circle cx="41.6" cy="436.0" r="1.95"/><circle cx="47.7" cy="437.9" r="1.95"/><circle cx="31.5" cy="441.7" r="1.95"/><circle cx="39.5" cy="443.8" r="1.95"/><circle cx="35.9" cy="446.6" r="1.95"/><circle cx="31.0" cy="447.7" r="1.95"/><circle cx="36.2" cy="452.5" r="1.95"/><circle cx="57.2" cy="449.4" r="1.95"/><circle cx="114.4" cy="421.2" r="1.95"/><circle cx="119.8" cy="438.1" r="1.95"/><circle cx="32.8" cy="417.6" r="1.95"/><circle cx="33.4" cy="422.9" r="1.95"/><circle cx="32.8" cy="426.1" r="1.95"/></g>
</g>
<g clip-path="url(#cp50)">
<g fill="#F8766D"><circle cx="33.1" cy="484.8" r="1.95"/><circle cx="79.6" cy="519.5" r="1.95"/><circle cx="125.3" cy="507.5" r="1.95"/></g>
<g fill="#D39200"><circle cx="30.5" cy="503.8" r="1.95"/><circle cx="48.3" cy="519.1" r="1.95"/><circle cx="31.0" cy="535.8" r="1.95"/></g>
<g fill="#00BA38"><circle cx="38.0" cy="494.6" r="1.95"/><circle cx="31.8" cy="496.9" r="1.95"/><circle cx="46.5" cy="509.8" r="1.95"/><circle cx="30.5" cy="518.1" r="1.95"/><circle cx="47.8" cy="520.8" r="1.95"/><circle cx="31.0" cy="540.2" r="1.95"/><circle cx="32.1" cy="543.2" r="1.95"/><circle cx="31.3" cy="557.4" r="1.95"/><circle cx="113.2" cy="501.5" r="1.95"/><circle cx="123.4" cy="508.7" r="1.95"/></g>
<g fill="#00C19F"><circle cx="32.1" cy="491.2" r="1.95"/><circle cx="39.7" cy="511.0" r="1.95"/><circle cx="57.5" cy="528.1" r="1.95"/><circle cx="35.4" cy="531.1" r="1.95"/><circle cx="36.7" cy="520.1" r="1.95"/><circle cx="34.3" cy="498.9" r="1.95"/><circle cx="41.6" cy="528.3" r="1.95"/></g>
<g fill="#00B9E3"><circle cx="32.1" cy="494.4" r="1.95"/><circle cx="39.7" cy="504.4" r="1.95"/><circle cx="31.0" cy="528.0" r="1.95"/><circle cx="33.8" cy="523.1" r="1.95"/><circle cx="32.6" cy="518.3" r="1.95"/></g>
<g fill="#619CFF"><circle cx="37.9" cy="491.0" r="1.95"/><circle cx="31.5" cy="499.8" r="1.95"/><circle cx="47.3" cy="522.4" r="1.95"/><circle cx="46.5" cy="526.2" r="1.95"/><circle cx="31.8" cy="530.4" r="1.95"/><circle cx="115.5" cy="502.3" r="1.95"/><circle cx="122.9" cy="506.5" r="1.95"/><circle cx="35.4" cy="510.3" r="1.95"/><circle cx="31.2" cy="525.7" r="1.95"/><circle cx="40.0" cy="499.5" r="1.95"/><circle cx="34.3" cy="501.9" r="1.95"/><circle cx="33.1" cy="508.7" r="1.95"/></g>
<g fill="#DB72FB"><circle cx="32.1" cy="481.8" r="1.95"/><circle cx="37.9" cy="492.8" r="1.95"/><circle cx="41.8" cy="497.4" r="1.95"/><circle cx="47.7" cy="502.9" r="1.95"/><circle cx="47.3" cy="515.0" r="1.95"/><circle cx="57.2" cy="523.9" r="1.95"/><circle cx="31.8" cy="532.9" r="1.95"/><circle cx="31.3" cy="551.7" r="1.95"/><circle cx="113.6" cy="500.7" r="1.95"/><circle cx="121.7" cy="506.0" r="1.95"/><circle cx="31.5" cy="514.5" r="1.95"/><circle cx="41.3" cy="526.8" r="1.95"/></g>
<g fill="#FF61C3"><circle cx="32.3" cy="482.8" r="1.95"/><circle cx="34.3" cy="496.1" r="1.95"/><circle cx="41.5" cy="498.2" r="1.95"/><circle cx="34.3" cy="500.2" r="1.95"/><circle cx="40.0" cy="501.0" r="1.95"/><circle cx="34.3" cy="503.4" r="1.95"/><circle cx="42.8" cy="504.2" r="1.95"/><circle cx="47.7" cy="505.1" r="1.95"/><circle cx="46.2" cy="508.3" r="1.95"/><circle cx="57.2" cy="505.9" r="1.95"/><circle cx="54.7" cy="508.3" r="1.95"/><circle cx="56.3" cy="509.5" r="1.95"/><circle cx="83.3" cy="508.0" r="1.95"/><circle cx="70.4" cy="512.4" r="1.95"/><circle cx="33.1" cy="507.5" r="1.95"/><circle cx="34.8" cy="508.3" r="1.95"/><circle cx="31.8" cy="511.6" r="1.95"/><circle cx="33.4" cy="513.2" r="1.95"/><circle cx="40.3" cy="513.2" r="1.95"/><circle cx="47.0" cy="513.2" r="1.95"/><circle cx="32.1" cy="515.7" r="1.95"/><circle cx="34.3" cy="516.8" r="1.95"/><circle cx="35.9" cy="517.8" r="1.95"/><circle cx="40.8" cy="516.8" r="1.95"/><circle cx="41.6" cy="518.5" r="1.95"/><circle cx="47.8" cy="517.8" r="1.95"/><circle cx="32.6" cy="519.8" r="1.95"/><circle cx="34.8" cy="521.4" r="1.95"/><circle cx="31.0" cy="522.2" r="1.95"/><circle cx="36.7" cy="522.2" r="1.95"/><circle cx="33.1" cy="523.9" r="1.95"/><circle cx="35.4" cy="525.0" r="1.95"/><circle cx="41.3" cy="525.0" r="1.95"/><circle cx="41.6" cy="526.6" r="1.95"/><circle cx="46.2" cy="523.9" r="1.95"/><circle cx="57.2" cy="526.0" r="1.95"/><circle cx="33.4" cy="527.1" r="1.95"/><circle cx="35.9" cy="528.8" r="1.95"/><circle cx="32.1" cy="536.9" r="1.95"/><circle cx="33.1" cy="538.6" r="1.95"/><circle cx="32.6" cy="540.7" r="1.95"/><circle cx="114.1" cy="501.1" r="1.95"/><circle cx="119.8" cy="505.9" r="1.95"/><circle cx="33.4" cy="509.6" r="1.95"/><circle cx="32.5" cy="517.8" r="1.95"/><circle cx="31.8" cy="524.7" r="1.95"/><circle cx="32.8" cy="526.3" r="1.95"/></g>
</g>
<g clip-path="url(#cp21)">
<g fill="#F8766D"><circle cx="195.1" cy="245.9" r="1.95"/><circle cx="163.8" cy="249.5" r="1.95"/><circle cx="142.8" cy="263.1" r="1.95"/></g>
<g fill="#D39200"><circle cx="210.4" cy="231.8" r="1.95"/><circle cx="212.2" cy="254.4" r="1.95"/><circle cx="141.8" cy="261.4" r="1.95"/><circle cx="182.0" cy="267.2" r="1.95"/></g>
<g fill="#00BA38"><circle cx="207.2" cy="206.5" r="1.95"/><circle cx="216.2" cy="205.4" r="1.95"/><circle cx="189.7" cy="213.0" r="1.95"/><circle cx="206.5" cy="216.8" r="1.95"/><circle cx="230.6" cy="232.5" r="1.95"/><circle cx="147.2" cy="235.6" r="1.95"/><circle cx="161.9" cy="234.0" r="1.95"/><circle cx="172.8" cy="234.3" r="1.95"/><circle cx="173.3" cy="236.4" r="1.95"/><circle cx="185.6" cy="250.0" r="1.95"/><circle cx="209.3" cy="249.5" r="1.95"/><circle cx="176.1" cy="254.4" r="1.95"/><circle cx="195.4" cy="258.2" r="1.95"/><circle cx="205.5" cy="253.6" r="1.95"/><circle cx="141.4" cy="266.7" r="1.95"/><circle cx="180.7" cy="264.2" r="1.95"/><circle cx="203.5" cy="250.0" r="1.95"/><circle cx="207.6" cy="253.6" r="1.95"/></g>
<g fill="#00C19F"><circle cx="186.4" cy="218.4" r="1.95"/><circle cx="152.9" cy="243.8" r="1.95"/><circle cx="178.2" cy="251.8" r="1.95"/><circle cx="155.8" cy="252.9" r="1.95"/><circle cx="205.5" cy="255.7" r="1.95"/><circle cx="230.1" cy="254.4" r="1.95"/><circle cx="170.9" cy="268.3" r="1.95"/><circle cx="212.0" cy="223.0" r="1.95"/><circle cx="198.0" cy="233.6" r="1.95"/><circle cx="182.6" cy="249.6" r="1.95"/></g>
<g fill="#00B9E3"><circle cx="209.6" cy="206.2" r="1.95"/><circle cx="217.0" cy="207.5" r="1.95"/><circle cx="190.0" cy="218.4" r="1.95"/><circle cx="167.6" cy="234.0" r="1.95"/><circle cx="182.0" cy="232.0" r="1.95"/><circle cx="200.3" cy="237.2" r="1.95"/><circle cx="198.3" cy="249.0" r="1.95"/><circle cx="217.5" cy="249.5" r="1.95"/><circle cx="198.7" cy="254.4" r="1.95"/><circle cx="170.1" cy="262.3" r="1.95"/><circle cx="172.2" cy="260.9" r="1.95"/><circle cx="202.3" cy="232.6" r="1.95"/></g>
<g fill="#619CFF"><circle cx="219.1" cy="207.5" r="1.95"/><circle cx="201.9" cy="224.5" r="1.95"/><circle cx="206.5" cy="227.4" r="1.95"/><circle cx="222.7" cy="234.8" r="1.95"/><circle cx="178.2" cy="237.4" r="1.95"/><circle cx="154.7" cy="242.6" r="1.95"/><circle cx="212.1" cy="247.1" r="1.95"/><circle cx="167.9" cy="247.1" r="1.95"/><circle cx="183.6" cy="251.6" r="1.95"/><circle cx="167.9" cy="256.2" r="1.95"/><circle cx="192.1" cy="258.7" r="1.95"/></g>
<g fill="#DB72FB"><circle cx="209.6" cy="208.8" r="1.95"/><circle cx="206.8" cy="218.6" r="1.95"/><circle cx="197.9" cy="223.8" r="1.95"/><circle cx="230.1" cy="230.7" r="1.95"/><circle cx="164.8" cy="234.1" r="1.95"/><circle cx="178.2" cy="232.3" r="1.95"/><circle cx="157.1" cy="242.5" r="1.95"/><circle cx="186.9" cy="245.1" r="1.95"/><circle cx="201.6" cy="246.7" r="1.95"/><circle cx="189.2" cy="254.4" r="1.95"/><circle cx="233.0" cy="254.4" r="1.95"/><circle cx="138.5" cy="264.2" r="1.95"/><circle cx="182.6" cy="262.6" r="1.95"/><circle cx="173.3" cy="285.8" r="1.95"/><circle cx="206.5" cy="245.5" r="1.95"/><circle cx="216.2" cy="250.0" r="1.95"/><circle cx="202.6" cy="254.6" r="1.95"/></g>
<g fill="#FF61C3"><circle cx="209.5" cy="208.1" r="1.95"/><circle cx="221.2" cy="207.5" r="1.95"/><circle cx="189.7" cy="215.7" r="1.95"/><circle cx="181.8" cy="216.8" r="1.95"/><circle cx="198.2" cy="224.5" r="1.95"/><circle cx="206.5" cy="225.0" r="1.95"/><circle cx="212.9" cy="224.2" r="1.95"/><circle cx="220.4" cy="225.0" r="1.95"/><circle cx="197.9" cy="232.3" r="1.95"/><circle cx="203.9" cy="232.0" r="1.95"/><circle cx="208.2" cy="232.0" r="1.95"/><circle cx="210.1" cy="231.4" r="1.95"/><circle cx="229.7" cy="231.2" r="1.95"/><circle cx="222.7" cy="236.6" r="1.95"/><circle cx="153.4" cy="235.6" r="1.95"/><circle cx="164.8" cy="232.0" r="1.95"/><circle cx="182.3" cy="234.3" r="1.95"/><circle cx="179.1" cy="235.6" r="1.95"/><circle cx="176.6" cy="236.9" r="1.95"/><circle cx="174.1" cy="238.9" r="1.95"/><circle cx="197.0" cy="237.2" r="1.95"/><circle cx="154.2" cy="241.3" r="1.95"/><circle cx="186.9" cy="242.5" r="1.95"/><circle cx="195.7" cy="243.8" r="1.95"/><circle cx="211.8" cy="241.3" r="1.95"/><circle cx="209.3" cy="242.5" r="1.95"/><circle cx="206.5" cy="243.8" r="1.95"/><circle cx="203.6" cy="245.4" r="1.95"/><circle cx="220.3" cy="242.5" r="1.95"/><circle cx="210.1" cy="245.4" r="1.95"/><circle cx="172.2" cy="245.1" r="1.95"/><circle cx="182.0" cy="248.4" r="1.95"/><circle cx="179.1" cy="250.3" r="1.95"/><circle cx="199.5" cy="250.6" r="1.95"/><circle cx="205.5" cy="250.0" r="1.95"/><circle cx="214.5" cy="249.0" r="1.95"/><circle cx="157.0" cy="251.1" r="1.95"/><circle cx="165.2" cy="254.4" r="1.95"/><circle cx="167.9" cy="254.4" r="1.95"/><circle cx="183.6" cy="253.9" r="1.95"/><circle cx="190.5" cy="256.0" r="1.95"/><circle cx="192.9" cy="256.9" r="1.95"/><circle cx="201.9" cy="252.8" r="1.95"/><circle cx="209.3" cy="254.4" r="1.95"/><circle cx="231.7" cy="255.4" r="1.95"/><circle cx="170.1" cy="260.1" r="1.95"/><circle cx="182.0" cy="265.0" r="1.95"/><circle cx="167.3" cy="268.3" r="1.95"/><circle cx="176.6" cy="285.8" r="1.95"/></g>
</g>
<g clip-path="url(#cp31)">
<g fill="#F8766D"><circle cx="182.3" cy="307.7" r="1.95"/><circle cx="180.7" cy="325.8" r="1.95"/><circle cx="153.4" cy="329.7" r="1.95"/><circle cx="219.1" cy="332.8" r="1.95"/><circle cx="154.2" cy="348.0" r="1.95"/><circle cx="163.8" cy="342.6" r="1.95"/><circle cx="209.6" cy="349.7" r="1.95"/><circle cx="214.5" cy="352.1" r="1.95"/><circle cx="164.3" cy="354.1" r="1.95"/><circle cx="209.0" cy="363.3" r="1.95"/></g>
<g fill="#D39200"><circle cx="176.6" cy="315.0" r="1.95"/><circle cx="203.9" cy="317.5" r="1.95"/><circle cx="218.8" cy="336.3" r="1.95"/><circle cx="142.3" cy="344.8" r="1.95"/><circle cx="169.2" cy="341.0" r="1.95"/><circle cx="212.6" cy="344.8" r="1.95"/><circle cx="187.6" cy="366.2" r="1.95"/></g>
<g fill="#00BA38"><circle cx="177.4" cy="299.5" r="1.95"/><circle cx="190.0" cy="306.4" r="1.95"/><circle cx="147.2" cy="332.8" r="1.95"/><circle cx="162.2" cy="331.7" r="1.95"/><circle cx="167.9" cy="333.8" r="1.95"/><circle cx="176.3" cy="333.3" r="1.95"/><circle cx="182.3" cy="334.5" r="1.95"/><circle cx="200.6" cy="333.8" r="1.95"/><circle cx="198.3" cy="339.1" r="1.95"/><circle cx="195.4" cy="345.3" r="1.95"/><circle cx="173.3" cy="346.7" r="1.95"/><circle cx="186.4" cy="346.7" r="1.95"/><circle cx="205.5" cy="344.8" r="1.95"/><circle cx="201.9" cy="352.9" r="1.95"/><circle cx="206.8" cy="352.9" r="1.95"/><circle cx="209.0" cy="355.4" r="1.95"/><circle cx="166.0" cy="357.0" r="1.95"/><circle cx="181.0" cy="355.9" r="1.95"/><circle cx="156.2" cy="361.1" r="1.95"/><circle cx="141.8" cy="370.1" r="1.95"/><circle cx="197.5" cy="327.5" r="1.95"/><circle cx="182.9" cy="348.3" r="1.95"/></g>
<g fill="#00C19F"><circle cx="229.7" cy="301.0" r="1.95"/><circle cx="186.4" cy="314.9" r="1.95"/><circle cx="153.4" cy="319.4" r="1.95"/><circle cx="194.6" cy="324.7" r="1.95"/><circle cx="230.6" cy="324.0" r="1.95"/><circle cx="216.2" cy="330.1" r="1.95"/><circle cx="167.6" cy="332.2" r="1.95"/><circle cx="153.4" cy="342.6" r="1.95"/><circle cx="170.9" cy="346.4" r="1.95"/><circle cx="191.8" cy="344.3" r="1.95"/><circle cx="219.9" cy="339.9" r="1.95"/><circle cx="178.6" cy="352.9" r="1.95"/><circle cx="208.5" cy="365.7" r="1.95"/><circle cx="173.7" cy="338.9" r="1.95"/><circle cx="205.9" cy="336.2" r="1.95"/></g>
<g fill="#00B9E3"><circle cx="199.5" cy="314.5" r="1.95"/><circle cx="156.2" cy="319.4" r="1.95"/><circle cx="172.2" cy="319.4" r="1.95"/><circle cx="193.8" cy="322.7" r="1.95"/><circle cx="200.3" cy="324.3" r="1.95"/><circle cx="175.0" cy="329.2" r="1.95"/><circle cx="213.4" cy="330.2" r="1.95"/><circle cx="219.1" cy="329.2" r="1.95"/><circle cx="152.9" cy="344.8" r="1.95"/><circle cx="183.6" cy="340.7" r="1.95"/><circle cx="217.5" cy="344.8" r="1.95"/><circle cx="155.8" cy="354.6" r="1.95"/><circle cx="165.6" cy="361.5" r="1.95"/><circle cx="173.2" cy="327.7" r="1.95"/></g>
<g fill="#619CFF"><circle cx="178.6" cy="301.6" r="1.95"/><circle cx="231.4" cy="318.6" r="1.95"/><circle cx="204.1" cy="321.4" r="1.95"/><circle cx="167.9" cy="324.0" r="1.95"/><circle cx="182.3" cy="329.4" r="1.95"/><circle cx="200.6" cy="328.9" r="1.95"/><circle cx="173.3" cy="332.2" r="1.95"/><circle cx="199.5" cy="342.3" r="1.95"/><circle cx="166.8" cy="345.6" r="1.95"/><circle cx="178.6" cy="343.1" r="1.95"/><circle cx="208.2" cy="344.8" r="1.95"/><circle cx="201.9" cy="356.2" r="1.95"/><circle cx="212.0" cy="336.6" r="1.95"/><circle cx="184.9" cy="351.6" r="1.95"/><circle cx="158.8" cy="351.8" r="1.95"/></g>
<g fill="#DB72FB"><circle cx="190.0" cy="314.9" r="1.95"/><circle cx="210.1" cy="315.7" r="1.95"/><circle cx="233.0" cy="316.2" r="1.95"/><circle cx="208.2" cy="321.1" r="1.95"/><circle cx="165.2" cy="325.2" r="1.95"/><circle cx="213.4" cy="325.6" r="1.95"/><circle cx="220.4" cy="326.5" r="1.95"/><circle cx="229.7" cy="327.8" r="1.95"/><circle cx="169.7" cy="329.2" r="1.95"/><circle cx="187.2" cy="329.4" r="1.95"/><circle cx="198.7" cy="330.5" r="1.95"/><circle cx="173.3" cy="334.0" r="1.95"/><circle cx="182.0" cy="332.8" r="1.95"/><circle cx="212.6" cy="335.0" r="1.95"/><circle cx="158.1" cy="344.8" r="1.95"/><circle cx="158.3" cy="346.6" r="1.95"/><circle cx="191.8" cy="347.7" r="1.95"/><circle cx="209.6" cy="343.6" r="1.95"/><circle cx="214.5" cy="346.4" r="1.95"/><circle cx="220.4" cy="342.8" r="1.95"/><circle cx="175.8" cy="349.7" r="1.95"/><circle cx="157.8" cy="357.4" r="1.95"/><circle cx="178.6" cy="355.4" r="1.95"/><circle cx="138.5" cy="358.3" r="1.95"/><circle cx="183.1" cy="360.3" r="1.95"/><circle cx="189.2" cy="364.4" r="1.95"/><circle cx="191.5" cy="320.5" r="1.95"/><circle cx="173.8" cy="322.4" r="1.95"/><circle cx="204.2" cy="337.7" r="1.95"/><circle cx="180.5" cy="347.0" r="1.95"/></g>
<g fill="#FF61C3"><circle cx="179.1" cy="299.0" r="1.95"/><circle cx="197.9" cy="314.9" r="1.95"/><circle cx="206.8" cy="318.1" r="1.95"/><circle cx="170.9" cy="319.9" r="1.95"/><circle cx="176.6" cy="319.4" r="1.95"/><circle cx="190.0" cy="319.4" r="1.95"/><circle cx="192.9" cy="319.8" r="1.95"/><circle cx="197.0" cy="320.2" r="1.95"/><circle cx="202.8" cy="320.2" r="1.95"/><circle cx="209.0" cy="323.0" r="1.95"/><circle cx="169.2" cy="321.9" r="1.95"/><circle cx="172.2" cy="323.5" r="1.95"/><circle cx="179.9" cy="324.3" r="1.95"/><circle cx="213.4" cy="323.5" r="1.95"/><circle cx="220.3" cy="324.7" r="1.95"/><circle cx="229.7" cy="326.0" r="1.95"/><circle cx="153.4" cy="326.3" r="1.95"/><circle cx="165.2" cy="327.9" r="1.95"/><circle cx="167.6" cy="328.9" r="1.95"/><circle cx="173.3" cy="326.0" r="1.95"/><circle cx="182.0" cy="327.3" r="1.95"/><circle cx="186.4" cy="327.9" r="1.95"/><circle cx="196.2" cy="326.8" r="1.95"/><circle cx="197.9" cy="328.4" r="1.95"/><circle cx="212.6" cy="328.4" r="1.95"/><circle cx="221.6" cy="330.1" r="1.95"/><circle cx="211.8" cy="332.8" r="1.95"/><circle cx="221.6" cy="332.8" r="1.95"/><circle cx="222.9" cy="333.8" r="1.95"/><circle cx="179.1" cy="335.8" r="1.95"/><circle cx="173.3" cy="337.1" r="1.95"/><circle cx="205.2" cy="335.0" r="1.95"/><circle cx="205.5" cy="337.4" r="1.95"/><circle cx="210.1" cy="336.6" r="1.95"/><circle cx="202.8" cy="338.2" r="1.95"/><circle cx="200.3" cy="339.1" r="1.95"/><circle cx="198.3" cy="341.0" r="1.95"/><circle cx="154.5" cy="346.4" r="1.95"/><circle cx="167.9" cy="343.1" r="1.95"/><circle cx="167.9" cy="346.6" r="1.95"/><circle cx="176.6" cy="346.7" r="1.95"/><circle cx="179.1" cy="344.8" r="1.95"/><circle cx="182.0" cy="346.4" r="1.95"/><circle cx="184.0" cy="344.8" r="1.95"/><circle cx="192.1" cy="345.6" r="1.95"/><circle cx="210.1" cy="346.4" r="1.95"/><circle cx="206.8" cy="347.6" r="1.95"/><circle cx="214.7" cy="348.9" r="1.95"/><circle cx="220.3" cy="341.0" r="1.95"/><circle cx="182.0" cy="349.7" r="1.95"/><circle cx="183.1" cy="352.1" r="1.95"/><circle cx="189.2" cy="352.1" r="1.95"/><circle cx="157.3" cy="352.1" r="1.95"/><circle cx="169.2" cy="357.0" r="1.95"/><circle cx="183.5" cy="364.4" r="1.95"/><circle cx="186.4" cy="364.4" r="1.95"/><circle cx="209.3" cy="361.9" r="1.95"/></g>
</g>
<g clip-path="url(#cp32)">
<g fill="#F8766D"><circle cx="290.0" cy="307.7" r="1.95"/><circle cx="337.4" cy="350.2" r="1.95"/><circle cx="283.0" cy="354.6" r="1.95"/></g>
<g fill="#D39200"><circle cx="246.5" cy="315.3" r="1.95"/><circle cx="338.2" cy="336.6" r="1.95"/><circle cx="298.5" cy="347.2" r="1.95"/><circle cx="268.7" cy="348.5" r="1.95"/><circle cx="273.2" cy="344.0" r="1.95"/><circle cx="274.3" cy="345.3" r="1.95"/><circle cx="302.6" cy="346.4" r="1.95"/></g>
<g fill="#00BA38"><circle cx="332.0" cy="306.4" r="1.95"/><circle cx="275.6" cy="319.8" r="1.95"/><circle cx="273.6" cy="323.5" r="1.95"/><circle cx="283.5" cy="333.3" r="1.95"/><circle cx="307.5" cy="332.2" r="1.95"/><circle cx="341.0" cy="330.1" r="1.95"/><circle cx="294.4" cy="346.4" r="1.95"/><circle cx="278.9" cy="344.8" r="1.95"/><circle cx="307.5" cy="346.7" r="1.95"/><circle cx="318.1" cy="352.9" r="1.95"/><circle cx="339.7" cy="353.3" r="1.95"/><circle cx="271.5" cy="355.7" r="1.95"/><circle cx="289.2" cy="355.4" r="1.95"/><circle cx="284.6" cy="361.1" r="1.95"/><circle cx="268.7" cy="370.1" r="1.95"/><circle cx="279.7" cy="321.8" r="1.95"/><circle cx="310.7" cy="314.6" r="1.95"/><circle cx="308.1" cy="319.9" r="1.95"/><circle cx="288.5" cy="337.8" r="1.95"/></g>
<g fill="#00C19F"><circle cx="283.5" cy="301.0" r="1.95"/><circle cx="305.0" cy="319.4" r="1.95"/><circle cx="326.0" cy="319.9" r="1.95"/><circle cx="287.9" cy="335.0" r="1.95"/><circle cx="283.5" cy="344.8" r="1.95"/><circle cx="309.5" cy="353.3" r="1.95"/><circle cx="272.3" cy="350.8" r="1.95"/><circle cx="286.6" cy="356.7" r="1.95"/><circle cx="296.5" cy="366.0" r="1.95"/><circle cx="328.2" cy="325.1" r="1.95"/></g>
<g fill="#00B9E3"><circle cx="280.2" cy="324.0" r="1.95"/><circle cx="297.7" cy="319.4" r="1.95"/><circle cx="326.3" cy="314.9" r="1.95"/><circle cx="318.1" cy="330.9" r="1.95"/><circle cx="294.4" cy="322.7" r="1.95"/><circle cx="303.4" cy="325.2" r="1.95"/><circle cx="290.6" cy="330.9" r="1.95"/><circle cx="286.7" cy="340.7" r="1.95"/><circle cx="302.6" cy="343.1" r="1.95"/><circle cx="317.3" cy="348.0" r="1.95"/><circle cx="339.9" cy="346.9" r="1.95"/><circle cx="271.5" cy="352.9" r="1.95"/><circle cx="280.8" cy="364.4" r="1.95"/><circle cx="307.7" cy="317.1" r="1.95"/><circle cx="295.6" cy="328.8" r="1.95"/><circle cx="307.7" cy="323.8" r="1.95"/><circle cx="285.7" cy="351.3" r="1.95"/></g>
<g fill="#619CFF"><circle cx="287.5" cy="301.4" r="1.95"/><circle cx="284.1" cy="329.2" r="1.95"/><circle cx="293.6" cy="342.3" r="1.95"/><circle cx="267.1" cy="344.8" r="1.95"/><circle cx="318.1" cy="356.2" r="1.95"/><circle cx="287.1" cy="355.1" r="1.95"/><circle cx="302.2" cy="335.6" r="1.95"/></g>
<g fill="#DB72FB"><circle cx="246.5" cy="327.3" r="1.95"/><circle cx="283.3" cy="316.2" r="1.95"/><circle cx="282.1" cy="318.1" r="1.95"/><circle cx="273.2" cy="320.2" r="1.95"/><circle cx="310.8" cy="325.2" r="1.95"/><circle cx="309.9" cy="327.6" r="1.95"/><circle cx="329.2" cy="314.9" r="1.95"/><circle cx="326.3" cy="318.6" r="1.95"/><circle cx="318.6" cy="321.1" r="1.95"/><circle cx="327.1" cy="332.5" r="1.95"/><circle cx="284.6" cy="331.7" r="1.95"/><circle cx="300.1" cy="329.2" r="1.95"/><circle cx="299.3" cy="332.8" r="1.95"/><circle cx="305.4" cy="333.3" r="1.95"/><circle cx="338.1" cy="330.1" r="1.95"/><circle cx="292.8" cy="338.2" r="1.95"/><circle cx="288.7" cy="342.3" r="1.95"/><circle cx="289.5" cy="345.6" r="1.95"/><circle cx="278.1" cy="347.2" r="1.95"/><circle cx="302.6" cy="350.2" r="1.95"/><circle cx="308.3" cy="355.7" r="1.95"/><circle cx="337.4" cy="343.6" r="1.95"/><circle cx="271.8" cy="358.3" r="1.95"/><circle cx="274.0" cy="360.3" r="1.95"/><circle cx="296.9" cy="363.9" r="1.95"/><circle cx="316.6" cy="325.8" r="1.95"/><circle cx="317.4" cy="327.7" r="1.95"/><circle cx="292.6" cy="326.1" r="1.95"/><circle cx="287.1" cy="353.8" r="1.95"/><circle cx="284.2" cy="365.3" r="1.95"/></g>
<g fill="#FF61C3"><circle cx="287.4" cy="299.0" r="1.95"/><circle cx="246.5" cy="319.4" r="1.95"/><circle cx="278.1" cy="319.9" r="1.95"/><circle cx="278.9" cy="321.1" r="1.95"/><circle cx="280.8" cy="319.4" r="1.95"/><circle cx="309.1" cy="314.9" r="1.95"/><circle cx="309.5" cy="317.0" r="1.95"/><circle cx="309.9" cy="319.4" r="1.95"/><circle cx="309.5" cy="321.9" r="1.95"/><circle cx="309.1" cy="324.3" r="1.95"/><circle cx="328.7" cy="319.4" r="1.95"/><circle cx="318.1" cy="323.5" r="1.95"/><circle cx="317.8" cy="325.6" r="1.95"/><circle cx="318.6" cy="327.9" r="1.95"/><circle cx="327.1" cy="325.6" r="1.95"/><circle cx="290.6" cy="323.5" r="1.95"/><circle cx="292.0" cy="325.2" r="1.95"/><circle cx="295.2" cy="325.2" r="1.95"/><circle cx="295.6" cy="327.3" r="1.95"/><circle cx="305.0" cy="326.8" r="1.95"/><circle cx="306.7" cy="325.2" r="1.95"/><circle cx="303.1" cy="327.9" r="1.95"/><circle cx="283.3" cy="326.8" r="1.95"/><circle cx="281.8" cy="329.2" r="1.95"/><circle cx="286.7" cy="328.4" r="1.95"/><circle cx="287.1" cy="332.2" r="1.95"/><circle cx="286.6" cy="335.8" r="1.95"/><circle cx="298.8" cy="330.1" r="1.95"/><circle cx="305.0" cy="330.9" r="1.95"/><circle cx="297.2" cy="335.0" r="1.95"/><circle cx="301.4" cy="337.1" r="1.95"/><circle cx="338.6" cy="333.3" r="1.95"/><circle cx="291.1" cy="336.6" r="1.95"/><circle cx="295.2" cy="337.4" r="1.95"/><circle cx="289.5" cy="339.1" r="1.95"/><circle cx="291.1" cy="341.5" r="1.95"/><circle cx="296.0" cy="339.9" r="1.95"/><circle cx="296.9" cy="342.3" r="1.95"/><circle cx="292.0" cy="344.8" r="1.95"/><circle cx="296.9" cy="346.4" r="1.95"/><circle cx="288.7" cy="348.0" r="1.95"/><circle cx="265.8" cy="342.6" r="1.95"/><circle cx="267.4" cy="346.4" r="1.95"/><circle cx="280.2" cy="345.6" r="1.95"/><circle cx="282.1" cy="346.4" r="1.95"/><circle cx="305.0" cy="346.7" r="1.95"/><circle cx="314.8" cy="348.0" r="1.95"/><circle cx="337.7" cy="346.4" r="1.95"/><circle cx="280.8" cy="352.1" r="1.95"/><circle cx="284.6" cy="352.1" r="1.95"/><circle cx="286.7" cy="351.8" r="1.95"/><circle cx="289.0" cy="351.8" r="1.95"/><circle cx="283.8" cy="357.0" r="1.95"/><circle cx="282.1" cy="363.3" r="1.95"/><circle cx="283.5" cy="364.4" r="1.95"/><circle cx="296.9" cy="361.9" r="1.95"/></g>
</g>
<g clip-path="url(#cp41)">
<g fill="#F8766D"><circle cx="163.8" cy="442.0" r="1.95"/></g>
<g fill="#D39200"><circle cx="218.8" cy="393.4" r="1.95"/><circle cx="212.6" cy="424.8" r="1.95"/><circle cx="154.5" cy="442.5" r="1.95"/><circle cx="176.6" cy="447.4" r="1.95"/><circle cx="142.3" cy="458.5" r="1.95"/></g>
<g fill="#00BA38"><circle cx="216.3" cy="391.0" r="1.95"/><circle cx="190.0" cy="397.9" r="1.95"/><circle cx="206.8" cy="403.3" r="1.95"/><circle cx="182.3" cy="422.9" r="1.95"/><circle cx="205.5" cy="426.5" r="1.95"/><circle cx="205.2" cy="429.1" r="1.95"/><circle cx="162.2" cy="429.9" r="1.95"/><circle cx="176.3" cy="436.3" r="1.95"/><circle cx="185.1" cy="434.3" r="1.95"/><circle cx="195.4" cy="434.3" r="1.95"/><circle cx="147.2" cy="437.6" r="1.95"/><circle cx="152.9" cy="445.4" r="1.95"/><circle cx="186.4" cy="443.8" r="1.95"/><circle cx="180.7" cy="447.4" r="1.95"/><circle cx="156.2" cy="453.1" r="1.95"/><circle cx="164.8" cy="448.7" r="1.95"/><circle cx="141.8" cy="470.3" r="1.95"/><circle cx="205.4" cy="411.7" r="1.95"/></g>
<g fill="#00C19F"><circle cx="218.3" cy="391.0" r="1.95"/><circle cx="186.4" cy="405.4" r="1.95"/><circle cx="229.7" cy="402.4" r="1.95"/><circle cx="174.1" cy="427.5" r="1.95"/><circle cx="153.4" cy="430.6" r="1.95"/><circle cx="170.9" cy="450.3" r="1.95"/><circle cx="196.1" cy="421.6" r="1.95"/><circle cx="215.8" cy="422.8" r="1.95"/></g>
<g fill="#00B9E3"><circle cx="231.4" cy="397.0" r="1.95"/><circle cx="200.3" cy="413.1" r="1.95"/><circle cx="217.5" cy="420.1" r="1.95"/><circle cx="182.0" cy="419.6" r="1.95"/><circle cx="197.9" cy="426.5" r="1.95"/><circle cx="167.9" cy="425.3" r="1.95"/><circle cx="156.2" cy="433.0" r="1.95"/><circle cx="182.3" cy="434.6" r="1.95"/><circle cx="172.2" cy="437.3" r="1.95"/><circle cx="156.2" cy="449.0" r="1.95"/><circle cx="205.6" cy="406.3" r="1.95"/><circle cx="177.5" cy="423.4" r="1.95"/><circle cx="192.4" cy="433.0" r="1.95"/></g>
<g fill="#619CFF"><circle cx="231.4" cy="409.0" r="1.95"/><circle cx="201.6" cy="416.3" r="1.95"/><circle cx="167.6" cy="439.6" r="1.95"/><circle cx="188.9" cy="442.8" r="1.95"/><circle cx="210.4" cy="399.5" r="1.95"/><circle cx="212.1" cy="401.1" r="1.95"/><circle cx="207.1" cy="421.1" r="1.95"/><circle cx="186.8" cy="426.2" r="1.95"/></g>
<g fill="#DB72FB"><circle cx="206.8" cy="397.5" r="1.95"/><circle cx="198.7" cy="408.5" r="1.95"/><circle cx="208.5" cy="406.5" r="1.95"/><circle cx="233.0" cy="406.5" r="1.95"/><circle cx="182.0" cy="412.6" r="1.95"/><circle cx="213.4" cy="416.0" r="1.95"/><circle cx="202.8" cy="422.5" r="1.95"/><circle cx="193.3" cy="427.0" r="1.95"/><circle cx="175.0" cy="430.7" r="1.95"/><circle cx="176.6" cy="433.0" r="1.95"/><circle cx="158.1" cy="441.2" r="1.95"/><circle cx="189.2" cy="440.9" r="1.95"/><circle cx="166.0" cy="452.3" r="1.95"/><circle cx="173.3" cy="452.8" r="1.95"/><circle cx="138.5" cy="465.9" r="1.95"/><circle cx="207.3" cy="420.6" r="1.95"/><circle cx="200.9" cy="426.2" r="1.95"/><circle cx="177.3" cy="428.7" r="1.95"/><circle cx="167.3" cy="447.3" r="1.95"/></g>
<g fill="#FF61C3"><circle cx="221.2" cy="389.8" r="1.95"/><circle cx="220.4" cy="398.4" r="1.95"/><circle cx="229.7" cy="398.0" r="1.95"/><circle cx="190.0" cy="403.3" r="1.95"/><circle cx="209.6" cy="400.8" r="1.95"/><circle cx="211.3" cy="402.9" r="1.95"/><circle cx="213.4" cy="402.4" r="1.95"/><circle cx="210.1" cy="404.9" r="1.95"/><circle cx="197.9" cy="406.9" r="1.95"/><circle cx="203.9" cy="407.3" r="1.95"/><circle cx="222.4" cy="406.5" r="1.95"/><circle cx="181.8" cy="410.6" r="1.95"/><circle cx="206.4" cy="412.7" r="1.95"/><circle cx="212.2" cy="412.2" r="1.95"/><circle cx="213.1" cy="413.9" r="1.95"/><circle cx="220.4" cy="413.9" r="1.95"/><circle cx="197.9" cy="415.5" r="1.95"/><circle cx="195.4" cy="418.8" r="1.95"/><circle cx="194.6" cy="421.2" r="1.95"/><circle cx="206.5" cy="419.6" r="1.95"/><circle cx="205.2" cy="421.2" r="1.95"/><circle cx="214.7" cy="421.6" r="1.95"/><circle cx="179.9" cy="420.9" r="1.95"/><circle cx="178.2" cy="422.1" r="1.95"/><circle cx="186.4" cy="424.8" r="1.95"/><circle cx="192.1" cy="425.8" r="1.95"/><circle cx="198.7" cy="423.7" r="1.95"/><circle cx="200.3" cy="424.8" r="1.95"/><circle cx="209.3" cy="425.8" r="1.95"/><circle cx="210.6" cy="426.1" r="1.95"/><circle cx="164.8" cy="425.8" r="1.95"/><circle cx="172.8" cy="429.4" r="1.95"/><circle cx="178.2" cy="429.4" r="1.95"/><circle cx="179.1" cy="431.5" r="1.95"/><circle cx="153.4" cy="434.0" r="1.95"/><circle cx="179.9" cy="435.1" r="1.95"/><circle cx="187.2" cy="435.1" r="1.95"/><circle cx="191.8" cy="434.6" r="1.95"/><circle cx="188.0" cy="436.8" r="1.95"/><circle cx="189.2" cy="438.4" r="1.95"/><circle cx="167.9" cy="437.6" r="1.95"/><circle cx="170.1" cy="438.4" r="1.95"/><circle cx="153.4" cy="443.8" r="1.95"/><circle cx="182.8" cy="444.1" r="1.95"/><circle cx="182.0" cy="446.1" r="1.95"/><circle cx="176.6" cy="449.0" r="1.95"/><circle cx="157.5" cy="449.9" r="1.95"/><circle cx="169.2" cy="447.4" r="1.95"/><circle cx="166.8" cy="450.3" r="1.95"/><circle cx="169.2" cy="451.5" r="1.95"/></g>
</g>
<g clip-path="url(#cp42)">
<g fill="#F8766D"><circle cx="288.7" cy="442.2" r="1.95"/></g>
<g fill="#D39200"><circle cx="338.6" cy="393.1" r="1.95"/><circle cx="278.1" cy="426.1" r="1.95"/><circle cx="290.6" cy="434.3" r="1.95"/><circle cx="292.4" cy="437.6" r="1.95"/><circle cx="268.6" cy="445.8" r="1.95"/><circle cx="246.5" cy="447.4" r="1.95"/><circle cx="273.2" cy="458.5" r="1.95"/><circle cx="274.5" cy="458.5" r="1.95"/></g>
<g fill="#00BA38"><circle cx="341.0" cy="391.0" r="1.95"/><circle cx="328.3" cy="397.5" r="1.95"/><circle cx="332.0" cy="398.0" r="1.95"/><circle cx="339.7" cy="403.3" r="1.95"/><circle cx="281.8" cy="429.1" r="1.95"/><circle cx="303.4" cy="426.5" r="1.95"/><circle cx="305.5" cy="437.6" r="1.95"/><circle cx="278.9" cy="434.6" r="1.95"/><circle cx="294.9" cy="445.4" r="1.95"/><circle cx="271.5" cy="447.7" r="1.95"/><circle cx="284.6" cy="453.6" r="1.95"/><circle cx="268.7" cy="470.3" r="1.95"/><circle cx="283.6" cy="424.0" r="1.95"/></g>
<g fill="#00C19F"><circle cx="309.9" cy="397.5" r="1.95"/><circle cx="283.5" cy="402.4" r="1.95"/><circle cx="318.9" cy="403.6" r="1.95"/><circle cx="326.3" cy="405.7" r="1.95"/><circle cx="317.0" cy="412.2" r="1.95"/><circle cx="280.2" cy="428.6" r="1.95"/><circle cx="306.7" cy="425.8" r="1.95"/><circle cx="280.8" cy="442.5" r="1.95"/><circle cx="282.1" cy="448.2" r="1.95"/><circle cx="291.8" cy="412.1" r="1.95"/><circle cx="297.6" cy="414.1" r="1.95"/><circle cx="287.2" cy="422.0" r="1.95"/><circle cx="291.6" cy="425.6" r="1.95"/><circle cx="282.3" cy="427.4" r="1.95"/><circle cx="301.2" cy="432.0" r="1.95"/></g>
<g fill="#00B9E3"><circle cx="339.9" cy="399.7" r="1.95"/><circle cx="326.3" cy="403.6" r="1.95"/><circle cx="290.0" cy="417.2" r="1.95"/><circle cx="303.4" cy="413.4" r="1.95"/><circle cx="309.5" cy="419.9" r="1.95"/><circle cx="300.1" cy="427.8" r="1.95"/><circle cx="297.7" cy="433.0" r="1.95"/><circle cx="275.3" cy="437.9" r="1.95"/><circle cx="272.0" cy="444.5" r="1.95"/><circle cx="283.8" cy="451.5" r="1.95"/><circle cx="337.3" cy="400.1" r="1.95"/><circle cx="306.3" cy="405.3" r="1.95"/><circle cx="289.9" cy="421.2" r="1.95"/><circle cx="286.3" cy="438.4" r="1.95"/><circle cx="285.4" cy="438.9" r="1.95"/></g>
<g fill="#619CFF"><circle cx="281.8" cy="408.5" r="1.95"/><circle cx="318.1" cy="416.7" r="1.95"/><circle cx="308.3" cy="430.2" r="1.95"/><circle cx="292.0" cy="439.6" r="1.95"/><circle cx="320.2" cy="407.1" r="1.95"/><circle cx="302.0" cy="415.3" r="1.95"/><circle cx="288.0" cy="425.7" r="1.95"/><circle cx="283.5" cy="437.2" r="1.95"/></g>
<g fill="#DB72FB"><circle cx="338.6" cy="389.5" r="1.95"/><circle cx="326.3" cy="397.9" r="1.95"/><circle cx="283.3" cy="406.5" r="1.95"/><circle cx="327.1" cy="412.7" r="1.95"/><circle cx="317.8" cy="414.7" r="1.95"/><circle cx="306.3" cy="422.9" r="1.95"/><circle cx="273.2" cy="439.2" r="1.95"/><circle cx="298.2" cy="442.8" r="1.95"/><circle cx="274.3" cy="446.9" r="1.95"/><circle cx="246.5" cy="453.1" r="1.95"/><circle cx="267.1" cy="452.3" r="1.95"/><circle cx="286.6" cy="450.7" r="1.95"/><circle cx="271.5" cy="465.9" r="1.95"/><circle cx="293.3" cy="418.3" r="1.95"/><circle cx="293.0" cy="430.5" r="1.95"/><circle cx="285.6" cy="433.5" r="1.95"/><circle cx="281.3" cy="441.0" r="1.95"/></g>
<g fill="#FF61C3"><circle cx="338.6" cy="390.5" r="1.95"/><circle cx="311.1" cy="398.0" r="1.95"/><circle cx="317.6" cy="398.0" r="1.95"/><circle cx="337.7" cy="400.0" r="1.95"/><circle cx="337.4" cy="401.9" r="1.95"/><circle cx="309.9" cy="403.3" r="1.95"/><circle cx="318.1" cy="402.4" r="1.95"/><circle cx="329.2" cy="402.4" r="1.95"/><circle cx="305.0" cy="406.5" r="1.95"/><circle cx="309.1" cy="406.9" r="1.95"/><circle cx="309.5" cy="408.5" r="1.95"/><circle cx="318.9" cy="406.5" r="1.95"/><circle cx="327.1" cy="410.6" r="1.95"/><circle cx="290.3" cy="413.4" r="1.95"/><circle cx="290.6" cy="415.5" r="1.95"/><circle cx="297.7" cy="412.7" r="1.95"/><circle cx="296.0" cy="414.7" r="1.95"/><circle cx="303.4" cy="416.0" r="1.95"/><circle cx="314.5" cy="413.1" r="1.95"/><circle cx="294.4" cy="419.6" r="1.95"/><circle cx="295.2" cy="421.2" r="1.95"/><circle cx="306.7" cy="420.9" r="1.95"/><circle cx="287.9" cy="421.2" r="1.95"/><circle cx="290.0" cy="422.5" r="1.95"/><circle cx="287.1" cy="423.7" r="1.95"/><circle cx="291.6" cy="423.7" r="1.95"/><circle cx="289.2" cy="425.3" r="1.95"/><circle cx="285.4" cy="424.8" r="1.95"/><circle cx="294.4" cy="424.5" r="1.95"/><circle cx="296.0" cy="425.8" r="1.95"/><circle cx="280.2" cy="426.1" r="1.95"/><circle cx="282.1" cy="427.0" r="1.95"/><circle cx="283.8" cy="426.1" r="1.95"/><circle cx="287.1" cy="427.0" r="1.95"/><circle cx="309.9" cy="425.8" r="1.95"/><circle cx="300.9" cy="429.7" r="1.95"/><circle cx="294.4" cy="429.7" r="1.95"/><circle cx="305.0" cy="429.4" r="1.95"/><circle cx="309.5" cy="429.4" r="1.95"/><circle cx="302.6" cy="431.9" r="1.95"/><circle cx="305.4" cy="431.9" r="1.95"/><circle cx="305.0" cy="434.0" r="1.95"/><circle cx="296.5" cy="436.0" r="1.95"/><circle cx="287.1" cy="434.3" r="1.95"/><circle cx="288.7" cy="435.1" r="1.95"/><circle cx="280.8" cy="435.6" r="1.95"/><circle cx="282.1" cy="436.8" r="1.95"/><circle cx="284.6" cy="437.6" r="1.95"/><circle cx="277.2" cy="436.8" r="1.95"/><circle cx="281.3" cy="439.2" r="1.95"/><circle cx="283.8" cy="439.6" r="1.95"/><circle cx="283.0" cy="443.8" r="1.95"/><circle cx="296.9" cy="441.7" r="1.95"/><circle cx="295.2" cy="444.1" r="1.95"/><circle cx="273.2" cy="445.8" r="1.95"/><circle cx="246.5" cy="449.0" r="1.95"/><circle cx="266.1" cy="450.7" r="1.95"/><circle cx="283.0" cy="448.7" r="1.95"/><circle cx="285.4" cy="449.4" r="1.95"/></g>
</g>
<g clip-path="url(#cp43)">
<g fill="#F8766D"><circle cx="387.2" cy="401.9" r="1.95"/><circle cx="411.4" cy="412.2" r="1.95"/><circle cx="436.4" cy="421.6" r="1.95"/><circle cx="384.8" cy="423.2" r="1.95"/><circle cx="371.8" cy="426.5" r="1.95"/><circle cx="410.6" cy="434.3" r="1.95"/><circle cx="395.1" cy="451.5" r="1.95"/></g>
<g fill="#D39200"><circle cx="402.9" cy="393.1" r="1.95"/><circle cx="393.4" cy="427.8" r="1.95"/><circle cx="368.9" cy="436.0" r="1.95"/><circle cx="397.5" cy="437.6" r="1.95"/><circle cx="410.1" cy="440.0" r="1.95"/><circle cx="388.2" cy="444.9" r="1.95"/><circle cx="427.8" cy="447.4" r="1.95"/><circle cx="393.1" cy="458.5" r="1.95"/></g>
<g fill="#00BA38"><circle cx="438.4" cy="398.0" r="1.95"/><circle cx="383.6" cy="402.9" r="1.95"/><circle cx="383.6" cy="415.5" r="1.95"/><circle cx="398.3" cy="413.4" r="1.95"/><circle cx="446.1" cy="422.9" r="1.95"/><circle cx="406.8" cy="424.8" r="1.95"/><circle cx="380.3" cy="427.0" r="1.95"/><circle cx="391.8" cy="429.4" r="1.95"/><circle cx="419.3" cy="426.5" r="1.95"/><circle cx="406.8" cy="436.8" r="1.95"/><circle cx="407.3" cy="438.9" r="1.95"/><circle cx="418.8" cy="440.0" r="1.95"/><circle cx="392.3" cy="439.6" r="1.95"/><circle cx="380.8" cy="447.4" r="1.95"/><circle cx="374.3" cy="453.1" r="1.95"/><circle cx="392.3" cy="458.2" r="1.95"/><circle cx="363.5" cy="470.3" r="1.95"/><circle cx="423.3" cy="407.0" r="1.95"/></g>
<g fill="#00C19F"><circle cx="444.9" cy="402.4" r="1.95"/><circle cx="424.2" cy="397.9" r="1.95"/><circle cx="368.9" cy="427.5" r="1.95"/><circle cx="383.3" cy="429.7" r="1.95"/><circle cx="417.5" cy="429.4" r="1.95"/><circle cx="423.3" cy="431.1" r="1.95"/><circle cx="422.8" cy="437.6" r="1.95"/><circle cx="383.9" cy="444.9" r="1.95"/><circle cx="425.0" cy="406.0" r="1.95"/><circle cx="411.7" cy="413.6" r="1.95"/><circle cx="388.9" cy="420.8" r="1.95"/><circle cx="413.0" cy="426.0" r="1.95"/></g>
<g fill="#00B9E3"><circle cx="410.6" cy="392.1" r="1.95"/><circle cx="416.3" cy="399.2" r="1.95"/><circle cx="409.8" cy="402.9" r="1.95"/><circle cx="417.9" cy="406.9" r="1.95"/><circle cx="428.6" cy="405.7" r="1.95"/><circle cx="409.4" cy="416.3" r="1.95"/><circle cx="444.1" cy="422.1" r="1.95"/><circle cx="399.6" cy="423.7" r="1.95"/><circle cx="395.1" cy="429.7" r="1.95"/><circle cx="423.3" cy="427.8" r="1.95"/><circle cx="423.7" cy="434.3" r="1.95"/><circle cx="398.0" cy="434.3" r="1.95"/><circle cx="385.2" cy="445.4" r="1.95"/><circle cx="381.2" cy="450.7" r="1.95"/><circle cx="373.5" cy="450.3" r="1.95"/><circle cx="391.8" cy="452.3" r="1.95"/><circle cx="426.2" cy="403.5" r="1.95"/></g>
<g fill="#619CFF"><circle cx="390.5" cy="399.7" r="1.95"/><circle cx="407.3" cy="406.9" r="1.95"/><circle cx="389.3" cy="412.2" r="1.95"/><circle cx="379.5" cy="416.3" r="1.95"/><circle cx="404.5" cy="415.5" r="1.95"/><circle cx="392.9" cy="419.9" r="1.95"/><circle cx="412.2" cy="419.3" r="1.95"/><circle cx="408.1" cy="429.4" r="1.95"/><circle cx="390.1" cy="436.8" r="1.95"/><circle cx="398.3" cy="436.0" r="1.95"/><circle cx="412.2" cy="438.4" r="1.95"/><circle cx="395.1" cy="442.5" r="1.95"/><circle cx="391.0" cy="450.7" r="1.95"/><circle cx="427.3" cy="409.7" r="1.95"/><circle cx="400.8" cy="429.2" r="1.95"/><circle cx="394.0" cy="434.1" r="1.95"/><circle cx="413.5" cy="434.3" r="1.95"/></g>
<g fill="#DB72FB"><circle cx="410.6" cy="389.8" r="1.95"/><circle cx="394.6" cy="400.0" r="1.95"/><circle cx="425.3" cy="397.5" r="1.95"/><circle cx="406.8" cy="406.2" r="1.95"/><circle cx="397.2" cy="414.7" r="1.95"/><circle cx="447.4" cy="421.2" r="1.95"/><circle cx="400.4" cy="419.9" r="1.95"/><circle cx="416.6" cy="422.1" r="1.95"/><circle cx="408.9" cy="427.0" r="1.95"/><circle cx="408.9" cy="430.7" r="1.95"/><circle cx="387.4" cy="434.3" r="1.95"/><circle cx="389.8" cy="435.1" r="1.95"/><circle cx="370.2" cy="441.7" r="1.95"/><circle cx="393.4" cy="441.2" r="1.95"/><circle cx="375.1" cy="446.6" r="1.95"/><circle cx="378.2" cy="449.9" r="1.95"/><circle cx="414.3" cy="452.6" r="1.95"/><circle cx="377.1" cy="466.2" r="1.95"/><circle cx="412.9" cy="401.7" r="1.95"/><circle cx="425.1" cy="403.0" r="1.95"/><circle cx="404.4" cy="420.5" r="1.95"/><circle cx="409.5" cy="424.5" r="1.95"/><circle cx="415.5" cy="427.3" r="1.95"/><circle cx="402.4" cy="434.9" r="1.95"/></g>
<g fill="#FF61C3"><circle cx="406.8" cy="391.5" r="1.95"/><circle cx="391.0" cy="401.3" r="1.95"/><circle cx="414.7" cy="398.4" r="1.95"/><circle cx="417.5" cy="397.5" r="1.95"/><circle cx="408.9" cy="404.1" r="1.95"/><circle cx="413.9" cy="402.4" r="1.95"/><circle cx="419.6" cy="406.5" r="1.95"/><circle cx="422.0" cy="406.2" r="1.95"/><circle cx="424.2" cy="404.1" r="1.95"/><circle cx="427.8" cy="402.9" r="1.95"/><circle cx="426.1" cy="407.3" r="1.95"/><circle cx="422.8" cy="408.2" r="1.95"/><circle cx="427.3" cy="408.5" r="1.95"/><circle cx="389.3" cy="413.9" r="1.95"/><circle cx="395.9" cy="413.9" r="1.95"/><circle cx="404.0" cy="413.9" r="1.95"/><circle cx="407.8" cy="412.2" r="1.95"/><circle cx="415.5" cy="410.6" r="1.95"/><circle cx="418.8" cy="412.7" r="1.95"/><circle cx="413.0" cy="414.7" r="1.95"/><circle cx="416.3" cy="415.5" r="1.95"/><circle cx="445.7" cy="421.7" r="1.95"/><circle cx="388.8" cy="422.1" r="1.95"/><circle cx="393.4" cy="421.2" r="1.95"/><circle cx="400.8" cy="422.1" r="1.95"/><circle cx="403.6" cy="421.2" r="1.95"/><circle cx="405.7" cy="422.9" r="1.95"/><circle cx="413.9" cy="420.4" r="1.95"/><circle cx="417.5" cy="419.6" r="1.95"/><circle cx="414.7" cy="422.9" r="1.95"/><circle cx="413.0" cy="424.8" r="1.95"/><circle cx="410.6" cy="424.8" r="1.95"/><circle cx="372.2" cy="425.3" r="1.95"/><circle cx="381.2" cy="431.1" r="1.95"/><circle cx="392.3" cy="426.1" r="1.95"/><circle cx="394.7" cy="426.1" r="1.95"/><circle cx="395.4" cy="427.8" r="1.95"/><circle cx="402.4" cy="429.7" r="1.95"/><circle cx="416.3" cy="426.1" r="1.95"/><circle cx="422.8" cy="425.8" r="1.95"/><circle cx="422.0" cy="433.0" r="1.95"/><circle cx="370.2" cy="435.6" r="1.95"/><circle cx="391.8" cy="434.3" r="1.95"/><circle cx="393.4" cy="435.1" r="1.95"/><circle cx="392.6" cy="437.6" r="1.95"/><circle cx="404.0" cy="434.3" r="1.95"/><circle cx="414.7" cy="433.0" r="1.95"/><circle cx="384.8" cy="438.4" r="1.95"/><circle cx="413.0" cy="439.2" r="1.95"/><circle cx="421.2" cy="438.4" r="1.95"/><circle cx="370.5" cy="443.8" r="1.95"/><circle cx="390.1" cy="443.8" r="1.95"/><circle cx="388.8" cy="444.1" r="1.95"/><circle cx="378.4" cy="447.4" r="1.95"/><circle cx="381.2" cy="449.0" r="1.95"/><circle cx="384.8" cy="449.4" r="1.95"/><circle cx="393.4" cy="451.5" r="1.95"/><circle cx="423.3" cy="448.7" r="1.95"/></g>
</g>
<g clip-path="url(#cp51)">
<g fill="#F8766D"><circle cx="182.3" cy="485.0" r="1.95"/><circle cx="209.3" cy="531.6" r="1.95"/><circle cx="142.8" cy="540.2" r="1.95"/><circle cx="176.3" cy="541.9" r="1.95"/></g>
<g fill="#D39200"><circle cx="218.8" cy="482.5" r="1.95"/><circle cx="176.6" cy="504.2" r="1.95"/><circle cx="212.6" cy="508.3" r="1.95"/><circle cx="169.2" cy="518.1" r="1.95"/><circle cx="164.3" cy="519.8" r="1.95"/><circle cx="178.2" cy="520.6" r="1.95"/><circle cx="141.8" cy="535.6" r="1.95"/></g>
<g fill="#00BA38"><circle cx="206.4" cy="494.8" r="1.95"/><circle cx="216.2" cy="496.1" r="1.95"/><circle cx="168.4" cy="509.2" r="1.95"/><circle cx="177.9" cy="502.6" r="1.95"/><circle cx="205.5" cy="502.1" r="1.95"/><circle cx="195.4" cy="511.9" r="1.95"/><circle cx="210.9" cy="512.4" r="1.95"/><circle cx="162.2" cy="516.2" r="1.95"/><circle cx="156.2" cy="528.0" r="1.95"/><circle cx="180.7" cy="523.1" r="1.95"/><circle cx="186.1" cy="524.4" r="1.95"/><circle cx="201.9" cy="528.8" r="1.95"/><circle cx="199.0" cy="531.6" r="1.95"/><circle cx="147.2" cy="528.0" r="1.95"/><circle cx="207.7" cy="541.9" r="1.95"/><circle cx="173.3" cy="540.2" r="1.95"/><circle cx="172.8" cy="543.0" r="1.95"/><circle cx="141.8" cy="557.4" r="1.95"/><circle cx="208.3" cy="504.0" r="1.95"/><circle cx="200.1" cy="509.5" r="1.95"/></g>
<g fill="#00C19F"><circle cx="216.2" cy="491.2" r="1.95"/><circle cx="181.8" cy="493.9" r="1.95"/><circle cx="153.4" cy="500.5" r="1.95"/><circle cx="229.7" cy="497.7" r="1.95"/><circle cx="230.6" cy="508.0" r="1.95"/><circle cx="170.1" cy="520.6" r="1.95"/><circle cx="186.4" cy="519.8" r="1.95"/><circle cx="170.9" cy="525.5" r="1.95"/><circle cx="197.9" cy="522.2" r="1.95"/><circle cx="182.7" cy="518.5" r="1.95"/></g>
<g fill="#00B9E3"><circle cx="218.8" cy="493.3" r="1.95"/><circle cx="156.2" cy="499.3" r="1.95"/><circle cx="198.7" cy="500.2" r="1.95"/><circle cx="172.2" cy="505.9" r="1.95"/><circle cx="213.7" cy="504.2" r="1.95"/><circle cx="152.9" cy="509.6" r="1.95"/><circle cx="192.1" cy="510.8" r="1.95"/><circle cx="184.0" cy="511.3" r="1.95"/><circle cx="206.0" cy="513.2" r="1.95"/><circle cx="217.5" cy="512.9" r="1.95"/><circle cx="167.6" cy="519.8" r="1.95"/><circle cx="193.4" cy="518.1" r="1.95"/><circle cx="155.7" cy="523.9" r="1.95"/><circle cx="174.1" cy="524.4" r="1.95"/><circle cx="190.0" cy="529.3" r="1.95"/><circle cx="200.3" cy="530.4" r="1.95"/><circle cx="178.6" cy="530.9" r="1.95"/><circle cx="178.6" cy="540.7" r="1.95"/><circle cx="208.8" cy="506.0" r="1.95"/><circle cx="176.3" cy="514.4" r="1.95"/><circle cx="214.2" cy="512.8" r="1.95"/><circle cx="163.4" cy="525.8" r="1.95"/></g>
<g fill="#619CFF"><circle cx="206.8" cy="490.8" r="1.95"/><circle cx="231.4" cy="501.5" r="1.95"/><circle cx="195.1" cy="504.2" r="1.95"/><circle cx="185.6" cy="509.6" r="1.95"/><circle cx="209.3" cy="511.6" r="1.95"/><circle cx="208.5" cy="519.0" r="1.95"/><circle cx="197.9" cy="526.0" r="1.95"/><circle cx="165.2" cy="522.1" r="1.95"/><circle cx="201.8" cy="524.2" r="1.95"/></g>
<g fill="#DB72FB"><circle cx="206.8" cy="492.8" r="1.95"/><circle cx="182.0" cy="497.9" r="1.95"/><circle cx="197.9" cy="499.3" r="1.95"/><circle cx="233.0" cy="498.9" r="1.95"/><circle cx="167.3" cy="502.6" r="1.95"/><circle cx="213.4" cy="502.6" r="1.95"/><circle cx="198.7" cy="505.1" r="1.95"/><circle cx="205.2" cy="507.5" r="1.95"/><circle cx="178.2" cy="508.3" r="1.95"/><circle cx="157.8" cy="513.6" r="1.95"/><circle cx="182.0" cy="514.5" r="1.95"/><circle cx="164.8" cy="517.3" r="1.95"/><circle cx="190.5" cy="521.7" r="1.95"/><circle cx="212.6" cy="518.1" r="1.95"/><circle cx="158.1" cy="526.6" r="1.95"/><circle cx="189.7" cy="525.0" r="1.95"/><circle cx="212.9" cy="525.5" r="1.95"/><circle cx="175.8" cy="532.0" r="1.95"/><circle cx="173.7" cy="533.2" r="1.95"/><circle cx="209.6" cy="539.1" r="1.95"/><circle cx="138.5" cy="551.7" r="1.95"/><circle cx="152.8" cy="515.0" r="1.95"/><circle cx="155.9" cy="514.8" r="1.95"/></g>
<g fill="#FF61C3"><circle cx="221.1" cy="482.2" r="1.95"/><circle cx="182.0" cy="496.1" r="1.95"/><circle cx="197.0" cy="497.7" r="1.95"/><circle cx="196.2" cy="501.0" r="1.95"/><circle cx="167.9" cy="505.1" r="1.95"/><circle cx="170.1" cy="505.9" r="1.95"/><circle cx="179.1" cy="501.0" r="1.95"/><circle cx="213.4" cy="500.2" r="1.95"/><circle cx="208.2" cy="505.9" r="1.95"/><circle cx="210.1" cy="506.7" r="1.95"/><circle cx="202.8" cy="508.3" r="1.95"/><circle cx="198.7" cy="508.7" r="1.95"/><circle cx="229.7" cy="509.6" r="1.95"/><circle cx="186.4" cy="508.0" r="1.95"/><circle cx="153.4" cy="513.2" r="1.95"/><circle cx="154.5" cy="515.7" r="1.95"/><circle cx="191.8" cy="512.4" r="1.95"/><circle cx="182.3" cy="512.4" r="1.95"/><circle cx="172.8" cy="514.1" r="1.95"/><circle cx="176.6" cy="513.2" r="1.95"/><circle cx="206.8" cy="510.8" r="1.95"/><circle cx="215.0" cy="511.9" r="1.95"/><circle cx="220.7" cy="514.1" r="1.95"/><circle cx="222.9" cy="514.1" r="1.95"/><circle cx="221.6" cy="516.2" r="1.95"/><circle cx="179.1" cy="517.3" r="1.95"/><circle cx="180.7" cy="519.0" r="1.95"/><circle cx="184.0" cy="518.1" r="1.95"/><circle cx="189.7" cy="515.7" r="1.95"/><circle cx="191.3" cy="517.3" r="1.95"/><circle cx="188.9" cy="519.8" r="1.95"/><circle cx="208.2" cy="516.8" r="1.95"/><circle cx="210.1" cy="516.2" r="1.95"/><circle cx="157.5" cy="524.7" r="1.95"/><circle cx="164.3" cy="524.7" r="1.95"/><circle cx="166.8" cy="523.1" r="1.95"/><circle cx="169.2" cy="523.9" r="1.95"/><circle cx="166.8" cy="525.5" r="1.95"/><circle cx="173.3" cy="522.2" r="1.95"/><circle cx="183.1" cy="523.9" r="1.95"/><circle cx="187.2" cy="526.3" r="1.95"/><circle cx="199.5" cy="523.9" r="1.95"/><circle cx="203.6" cy="524.7" r="1.95"/><circle cx="212.6" cy="523.1" r="1.95"/><circle cx="197.9" cy="530.4" r="1.95"/><circle cx="209.0" cy="536.9" r="1.95"/></g>
</g>
<g clip-path="url(#cp52)">
<g fill="#F8766D"><circle cx="290.0" cy="485.0" r="1.95"/><circle cx="287.1" cy="500.2" r="1.95"/><circle cx="337.4" cy="531.6" r="1.95"/><circle cx="272.8" cy="540.2" r="1.95"/></g>
<g fill="#D39200"><circle cx="246.5" cy="503.8" r="1.95"/><circle cx="309.5" cy="520.6" r="1.95"/><circle cx="268.6" cy="519.0" r="1.95"/><circle cx="278.1" cy="519.0" r="1.95"/><circle cx="292.0" cy="518.1" r="1.95"/><circle cx="289.5" cy="521.4" r="1.95"/><circle cx="274.8" cy="535.6" r="1.95"/><circle cx="303.4" cy="541.4" r="1.95"/></g>
<g fill="#00BA38"><circle cx="328.3" cy="494.4" r="1.95"/><circle cx="340.7" cy="496.1" r="1.95"/><circle cx="305.4" cy="500.5" r="1.95"/><circle cx="246.5" cy="540.2" r="1.95"/><circle cx="274.3" cy="508.7" r="1.95"/><circle cx="278.9" cy="512.4" r="1.95"/><circle cx="298.8" cy="511.9" r="1.95"/><circle cx="271.5" cy="523.9" r="1.95"/><circle cx="292.0" cy="520.6" r="1.95"/><circle cx="284.3" cy="527.6" r="1.95"/><circle cx="332.0" cy="517.8" r="1.95"/><circle cx="303.7" cy="523.9" r="1.95"/><circle cx="318.1" cy="528.0" r="1.95"/><circle cx="305.9" cy="528.0" r="1.95"/><circle cx="302.6" cy="540.7" r="1.95"/><circle cx="307.5" cy="543.5" r="1.95"/><circle cx="339.7" cy="542.7" r="1.95"/><circle cx="268.7" cy="557.4" r="1.95"/><circle cx="278.4" cy="507.1" r="1.95"/><circle cx="290.6" cy="504.1" r="1.95"/><circle cx="292.4" cy="509.2" r="1.95"/></g>
<g fill="#00C19F"><circle cx="338.6" cy="491.2" r="1.95"/><circle cx="283.5" cy="497.7" r="1.95"/><circle cx="286.6" cy="512.4" r="1.95"/><circle cx="297.7" cy="510.8" r="1.95"/><circle cx="309.9" cy="519.0" r="1.95"/><circle cx="272.3" cy="516.8" r="1.95"/><circle cx="281.3" cy="524.7" r="1.95"/><circle cx="326.0" cy="519.8" r="1.95"/><circle cx="296.5" cy="540.2" r="1.95"/><circle cx="280.3" cy="502.8" r="1.95"/><circle cx="295.1" cy="499.9" r="1.95"/><circle cx="290.8" cy="524.1" r="1.95"/></g>
<g fill="#00B9E3"><circle cx="338.6" cy="493.3" r="1.95"/><circle cx="281.3" cy="511.6" r="1.95"/><circle cx="309.5" cy="514.1" r="1.95"/><circle cx="317.6" cy="515.2" r="1.95"/><circle cx="272.0" cy="522.2" r="1.95"/><circle cx="280.5" cy="521.4" r="1.95"/><circle cx="326.3" cy="529.1" r="1.95"/><circle cx="339.7" cy="540.2" r="1.95"/><circle cx="307.0" cy="511.8" r="1.95"/></g>
<g fill="#619CFF"><circle cx="326.3" cy="491.2" r="1.95"/><circle cx="283.0" cy="499.3" r="1.95"/><circle cx="298.0" cy="499.3" r="1.95"/><circle cx="293.6" cy="504.2" r="1.95"/><circle cx="308.3" cy="508.3" r="1.95"/><circle cx="295.2" cy="515.7" r="1.95"/><circle cx="299.8" cy="523.9" r="1.95"/><circle cx="317.8" cy="530.4" r="1.95"/><circle cx="284.5" cy="507.8" r="1.95"/><circle cx="296.6" cy="527.9" r="1.95"/></g>
<g fill="#DB72FB"><circle cx="338.6" cy="481.7" r="1.95"/><circle cx="326.6" cy="493.3" r="1.95"/><circle cx="327.4" cy="498.4" r="1.95"/><circle cx="318.9" cy="497.4" r="1.95"/><circle cx="283.0" cy="501.8" r="1.95"/><circle cx="246.5" cy="533.7" r="1.95"/><circle cx="273.2" cy="505.6" r="1.95"/><circle cx="288.7" cy="505.9" r="1.95"/><circle cx="311.3" cy="507.5" r="1.95"/><circle cx="305.5" cy="516.2" r="1.95"/><circle cx="274.3" cy="523.1" r="1.95"/><circle cx="267.1" cy="525.0" r="1.95"/><circle cx="279.7" cy="517.3" r="1.95"/><circle cx="286.6" cy="526.3" r="1.95"/><circle cx="329.1" cy="524.7" r="1.95"/><circle cx="318.1" cy="523.1" r="1.95"/><circle cx="302.9" cy="531.6" r="1.95"/><circle cx="338.1" cy="539.7" r="1.95"/><circle cx="271.5" cy="551.7" r="1.95"/><circle cx="276.9" cy="505.0" r="1.95"/><circle cx="290.0" cy="507.7" r="1.95"/><circle cx="293.3" cy="508.4" r="1.95"/></g>
<g fill="#FF61C3"><circle cx="338.6" cy="482.7" r="1.95"/><circle cx="327.4" cy="496.9" r="1.95"/><circle cx="318.6" cy="498.5" r="1.95"/><circle cx="290.3" cy="500.2" r="1.95"/><circle cx="296.0" cy="498.9" r="1.95"/><circle cx="246.5" cy="513.7" r="1.95"/><circle cx="275.9" cy="505.9" r="1.95"/><circle cx="277.2" cy="506.7" r="1.95"/><circle cx="281.3" cy="504.2" r="1.95"/><circle cx="283.8" cy="503.4" r="1.95"/><circle cx="286.6" cy="502.6" r="1.95"/><circle cx="288.7" cy="503.4" r="1.95"/><circle cx="291.1" cy="502.6" r="1.95"/><circle cx="295.2" cy="501.8" r="1.95"/><circle cx="283.0" cy="506.7" r="1.95"/><circle cx="286.2" cy="506.7" r="1.95"/><circle cx="292.0" cy="507.5" r="1.95"/><circle cx="294.4" cy="507.5" r="1.95"/><circle cx="309.9" cy="505.1" r="1.95"/><circle cx="309.9" cy="509.2" r="1.95"/><circle cx="283.8" cy="510.8" r="1.95"/><circle cx="289.5" cy="511.6" r="1.95"/><circle cx="292.0" cy="510.3" r="1.95"/><circle cx="294.4" cy="512.4" r="1.95"/><circle cx="296.0" cy="514.1" r="1.95"/><circle cx="297.7" cy="515.7" r="1.95"/><circle cx="305.9" cy="513.2" r="1.95"/><circle cx="306.7" cy="514.9" r="1.95"/><circle cx="308.3" cy="517.3" r="1.95"/><circle cx="314.8" cy="514.1" r="1.95"/><circle cx="317.3" cy="513.6" r="1.95"/><circle cx="270.2" cy="520.6" r="1.95"/><circle cx="265.8" cy="523.9" r="1.95"/><circle cx="281.3" cy="518.1" r="1.95"/><circle cx="283.0" cy="519.8" r="1.95"/><circle cx="284.6" cy="516.5" r="1.95"/><circle cx="290.3" cy="516.5" r="1.95"/><circle cx="293.6" cy="516.8" r="1.95"/><circle cx="282.1" cy="523.1" r="1.95"/><circle cx="284.6" cy="523.9" r="1.95"/><circle cx="287.1" cy="522.2" r="1.95"/><circle cx="288.7" cy="523.9" r="1.95"/><circle cx="290.3" cy="525.5" r="1.95"/><circle cx="329.1" cy="522.2" r="1.95"/><circle cx="300.9" cy="521.7" r="1.95"/><circle cx="309.5" cy="524.4" r="1.95"/><circle cx="296.5" cy="526.6" r="1.95"/><circle cx="318.4" cy="525.0" r="1.95"/><circle cx="303.4" cy="529.6" r="1.95"/><circle cx="296.5" cy="537.4" r="1.95"/><circle cx="305.0" cy="542.3" r="1.95"/><circle cx="337.4" cy="538.6" r="1.95"/></g>
</g>
<g clip-path="url(#cp53)">
<g fill="#F8766D"><circle cx="436.4" cy="485.0" r="1.95"/><circle cx="384.8" cy="512.4" r="1.95"/><circle cx="372.5" cy="537.8" r="1.95"/></g>
<g fill="#D39200"><circle cx="402.9" cy="483.0" r="1.95"/><circle cx="427.8" cy="503.8" r="1.95"/><circle cx="424.2" cy="522.2" r="1.95"/><circle cx="395.1" cy="521.4" r="1.95"/><circle cx="368.6" cy="527.1" r="1.95"/><circle cx="392.6" cy="535.6" r="1.95"/></g>
<g fill="#00BA38"><circle cx="410.3" cy="496.1" r="1.95"/><circle cx="423.7" cy="493.9" r="1.95"/><circle cx="393.4" cy="502.1" r="1.95"/><circle cx="417.9" cy="508.3" r="1.95"/><circle cx="406.2" cy="509.6" r="1.95"/><circle cx="407.8" cy="510.8" r="1.95"/><circle cx="408.9" cy="516.5" r="1.95"/><circle cx="416.3" cy="519.8" r="1.95"/><circle cx="392.3" cy="520.6" r="1.95"/><circle cx="374.1" cy="528.3" r="1.95"/><circle cx="383.6" cy="528.8" r="1.95"/><circle cx="407.3" cy="528.0" r="1.95"/><circle cx="410.3" cy="531.6" r="1.95"/><circle cx="438.4" cy="517.8" r="1.95"/><circle cx="368.9" cy="538.3" r="1.95"/><circle cx="391.0" cy="543.5" r="1.95"/><circle cx="383.3" cy="542.3" r="1.95"/><circle cx="414.3" cy="540.2" r="1.95"/><circle cx="363.5" cy="557.4" r="1.95"/><circle cx="414.9" cy="512.9" r="1.95"/><circle cx="386.3" cy="518.0" r="1.95"/></g>
<g fill="#00C19F"><circle cx="410.6" cy="491.2" r="1.95"/><circle cx="415.5" cy="493.9" r="1.95"/><circle cx="444.9" cy="498.0" r="1.95"/><circle cx="383.3" cy="508.0" r="1.95"/><circle cx="388.2" cy="514.9" r="1.95"/><circle cx="428.6" cy="519.8" r="1.95"/><circle cx="373.5" cy="526.3" r="1.95"/><circle cx="409.8" cy="526.3" r="1.95"/><circle cx="368.6" cy="540.2" r="1.95"/><circle cx="395.1" cy="540.5" r="1.95"/><circle cx="412.9" cy="505.0" r="1.95"/></g>
<g fill="#00B9E3"><circle cx="410.6" cy="493.3" r="1.95"/><circle cx="408.9" cy="500.2" r="1.95"/><circle cx="422.8" cy="499.3" r="1.95"/><circle cx="412.2" cy="503.4" r="1.95"/><circle cx="429.4" cy="507.5" r="1.95"/><circle cx="390.1" cy="508.7" r="1.95"/><circle cx="399.6" cy="511.3" r="1.95"/><circle cx="412.2" cy="513.6" r="1.95"/><circle cx="419.6" cy="514.9" r="1.95"/><circle cx="386.9" cy="516.5" r="1.95"/><circle cx="395.1" cy="518.1" r="1.95"/><circle cx="428.2" cy="529.3" r="1.95"/><circle cx="383.9" cy="521.4" r="1.95"/><circle cx="381.2" cy="523.9" r="1.95"/><circle cx="396.7" cy="526.0" r="1.95"/><circle cx="407.8" cy="525.5" r="1.95"/><circle cx="417.5" cy="530.4" r="1.95"/><circle cx="394.6" cy="530.7" r="1.95"/><circle cx="419.9" cy="519.1" r="1.95"/></g>
<g fill="#619CFF"><circle cx="425.0" cy="491.2" r="1.95"/><circle cx="443.8" cy="502.3" r="1.95"/><circle cx="424.2" cy="501.0" r="1.95"/><circle cx="416.6" cy="503.8" r="1.95"/><circle cx="380.7" cy="511.3" r="1.95"/><circle cx="396.7" cy="510.8" r="1.95"/><circle cx="398.3" cy="517.3" r="1.95"/><circle cx="379.8" cy="530.4" r="1.95"/><circle cx="390.1" cy="524.7" r="1.95"/><circle cx="408.9" cy="523.1" r="1.95"/><circle cx="416.2" cy="499.1" r="1.95"/><circle cx="393.3" cy="510.3" r="1.95"/><circle cx="403.0" cy="518.1" r="1.95"/><circle cx="418.0" cy="513.0" r="1.95"/><circle cx="420.0" cy="517.4" r="1.95"/><circle cx="378.3" cy="521.4" r="1.95"/><circle cx="414.8" cy="524.3" r="1.95"/></g>
<g fill="#DB72FB"><circle cx="410.6" cy="481.8" r="1.95"/><circle cx="415.8" cy="496.1" r="1.95"/><circle cx="425.3" cy="492.8" r="1.95"/><circle cx="447.4" cy="501.0" r="1.95"/><circle cx="407.8" cy="497.7" r="1.95"/><circle cx="426.6" cy="498.9" r="1.95"/><circle cx="400.0" cy="508.3" r="1.95"/><circle cx="409.8" cy="504.2" r="1.95"/><circle cx="422.0" cy="505.1" r="1.95"/><circle cx="427.8" cy="509.2" r="1.95"/><circle cx="380.3" cy="508.3" r="1.95"/><circle cx="394.6" cy="509.2" r="1.95"/><circle cx="395.1" cy="512.4" r="1.95"/><circle cx="418.8" cy="525.5" r="1.95"/><circle cx="428.2" cy="524.4" r="1.95"/><circle cx="370.2" cy="520.6" r="1.95"/><circle cx="375.1" cy="523.1" r="1.95"/><circle cx="378.4" cy="527.1" r="1.95"/><circle cx="393.4" cy="525.0" r="1.95"/><circle cx="407.3" cy="522.2" r="1.95"/><circle cx="414.7" cy="530.4" r="1.95"/><circle cx="414.2" cy="533.7" r="1.95"/><circle cx="387.2" cy="532.0" r="1.95"/><circle cx="391.0" cy="541.4" r="1.95"/><circle cx="394.6" cy="538.6" r="1.95"/><circle cx="377.1" cy="551.7" r="1.95"/><circle cx="406.6" cy="512.6" r="1.95"/><circle cx="403.9" cy="520.2" r="1.95"/><circle cx="412.7" cy="523.1" r="1.95"/></g>
<g fill="#FF61C3"><circle cx="406.8" cy="482.2" r="1.95"/><circle cx="445.7" cy="501.8" r="1.95"/><circle cx="413.9" cy="499.3" r="1.95"/><circle cx="414.7" cy="501.0" r="1.95"/><circle cx="417.5" cy="498.5" r="1.95"/><circle cx="418.8" cy="500.2" r="1.95"/><circle cx="404.0" cy="504.2" r="1.95"/><circle cx="400.8" cy="510.0" r="1.95"/><circle cx="414.3" cy="504.2" r="1.95"/><circle cx="413.0" cy="506.4" r="1.95"/><circle cx="415.5" cy="507.5" r="1.95"/><circle cx="420.4" cy="505.9" r="1.95"/><circle cx="423.7" cy="506.7" r="1.95"/><circle cx="427.3" cy="506.4" r="1.95"/><circle cx="392.6" cy="507.5" r="1.95"/><circle cx="391.8" cy="511.3" r="1.95"/><circle cx="389.3" cy="512.9" r="1.95"/><circle cx="393.4" cy="513.2" r="1.95"/><circle cx="405.7" cy="513.2" r="1.95"/><circle cx="408.1" cy="514.5" r="1.95"/><circle cx="404.0" cy="516.8" r="1.95"/><circle cx="412.2" cy="510.8" r="1.95"/><circle cx="414.7" cy="511.6" r="1.95"/><circle cx="416.3" cy="514.1" r="1.95"/><circle cx="418.8" cy="513.2" r="1.95"/><circle cx="423.3" cy="513.6" r="1.95"/><circle cx="413.9" cy="516.2" r="1.95"/><circle cx="417.1" cy="516.8" r="1.95"/><circle cx="384.8" cy="516.8" r="1.95"/><circle cx="389.8" cy="516.2" r="1.95"/><circle cx="391.5" cy="517.3" r="1.95"/><circle cx="394.2" cy="515.7" r="1.95"/><circle cx="396.7" cy="516.2" r="1.95"/><circle cx="418.8" cy="518.1" r="1.95"/><circle cx="421.2" cy="519.0" r="1.95"/><circle cx="422.8" cy="520.6" r="1.95"/><circle cx="425.3" cy="523.9" r="1.95"/><circle cx="421.2" cy="524.7" r="1.95"/><circle cx="428.6" cy="526.0" r="1.95"/><circle cx="370.5" cy="523.1" r="1.95"/><circle cx="377.9" cy="522.7" r="1.95"/><circle cx="386.1" cy="519.8" r="1.95"/><circle cx="402.4" cy="521.4" r="1.95"/><circle cx="400.0" cy="522.7" r="1.95"/><circle cx="369.7" cy="526.0" r="1.95"/><circle cx="378.7" cy="525.0" r="1.95"/><circle cx="382.3" cy="524.7" r="1.95"/><circle cx="392.6" cy="523.9" r="1.95"/><circle cx="395.5" cy="525.0" r="1.95"/><circle cx="411.4" cy="522.7" r="1.95"/><circle cx="413.0" cy="524.7" r="1.95"/><circle cx="414.7" cy="525.5" r="1.95"/><circle cx="413.0" cy="529.6" r="1.95"/><circle cx="371.8" cy="536.9" r="1.95"/><circle cx="391.0" cy="539.4" r="1.95"/></g>
</g>
<g clip-path="url(#cp54)">
<g fill="#F8766D"><circle cx="518.9" cy="485.0" r="1.95"/><circle cx="516.9" cy="500.2" r="1.95"/><circle cx="542.3" cy="531.6" r="1.95"/><circle cx="475.3" cy="540.2" r="1.95"/><circle cx="512.5" cy="538.6" r="1.95"/></g>
<g fill="#D39200"><circle cx="552.6" cy="483.0" r="1.95"/><circle cx="488.7" cy="503.8" r="1.95"/><circle cx="502.2" cy="521.1" r="1.95"/><circle cx="475.6" cy="535.6" r="1.95"/><circle cx="508.0" cy="541.0" r="1.95"/></g>
<g fill="#00BA38"><circle cx="547.2" cy="494.4" r="1.95"/><circle cx="555.0" cy="496.1" r="1.95"/><circle cx="512.9" cy="501.8" r="1.95"/><circle cx="497.3" cy="509.2" r="1.95"/><circle cx="509.6" cy="508.3" r="1.95"/><circle cx="547.5" cy="508.0" r="1.95"/><circle cx="491.3" cy="513.2" r="1.95"/><circle cx="512.9" cy="514.1" r="1.95"/><circle cx="517.8" cy="514.9" r="1.95"/><circle cx="528.9" cy="511.9" r="1.95"/><circle cx="546.9" cy="517.8" r="1.95"/><circle cx="509.3" cy="516.2" r="1.95"/><circle cx="499.8" cy="520.6" r="1.95"/><circle cx="481.5" cy="528.0" r="1.95"/><circle cx="500.6" cy="527.6" r="1.95"/><circle cx="525.9" cy="531.6" r="1.95"/><circle cx="482.6" cy="540.2" r="1.95"/><circle cx="511.2" cy="539.7" r="1.95"/><circle cx="508.4" cy="543.0" r="1.95"/><circle cx="540.7" cy="542.3" r="1.95"/><circle cx="462.2" cy="557.4" r="1.95"/><circle cx="499.8" cy="515.8" r="1.95"/></g>
<g fill="#00C19F"><circle cx="554.1" cy="491.2" r="1.95"/><circle cx="532.5" cy="493.9" r="1.95"/><circle cx="541.5" cy="497.7" r="1.95"/><circle cx="508.8" cy="500.2" r="1.95"/><circle cx="491.6" cy="515.7" r="1.95"/><circle cx="504.7" cy="510.8" r="1.95"/><circle cx="538.2" cy="519.0" r="1.95"/><circle cx="529.2" cy="530.4" r="1.95"/><circle cx="515.8" cy="506.6" r="1.95"/><circle cx="511.7" cy="509.7" r="1.95"/><circle cx="489.0" cy="520.4" r="1.95"/></g>
<g fill="#00B9E3"><circle cx="555.4" cy="493.3" r="1.95"/><circle cx="506.0" cy="499.3" r="1.95"/><circle cx="513.7" cy="499.3" r="1.95"/><circle cx="525.5" cy="504.2" r="1.95"/><circle cx="494.5" cy="509.6" r="1.95"/><circle cx="493.2" cy="511.6" r="1.95"/><circle cx="503.1" cy="510.3" r="1.95"/><circle cx="502.2" cy="513.2" r="1.95"/><circle cx="516.9" cy="511.9" r="1.95"/><circle cx="514.5" cy="523.9" r="1.95"/><circle cx="512.0" cy="526.0" r="1.95"/><circle cx="540.2" cy="526.3" r="1.95"/><circle cx="540.7" cy="528.3" r="1.95"/><circle cx="509.6" cy="530.7" r="1.95"/><circle cx="525.5" cy="529.6" r="1.95"/><circle cx="545.1" cy="540.2" r="1.95"/><circle cx="504.2" cy="514.7" r="1.95"/><circle cx="509.1" cy="520.3" r="1.95"/></g>
<g fill="#619CFF"><circle cx="547.2" cy="491.2" r="1.95"/><circle cx="537.1" cy="497.4" r="1.95"/><circle cx="534.1" cy="501.8" r="1.95"/><circle cx="535.3" cy="507.5" r="1.95"/><circle cx="508.8" cy="511.9" r="1.95"/><circle cx="525.9" cy="518.5" r="1.95"/><circle cx="497.3" cy="522.2" r="1.95"/><circle cx="535.3" cy="524.7" r="1.95"/><circle cx="505.1" cy="515.5" r="1.95"/></g>
<g fill="#DB72FB"><circle cx="556.7" cy="481.8" r="1.95"/><circle cx="547.5" cy="493.3" r="1.95"/><circle cx="532.2" cy="495.3" r="1.95"/><circle cx="529.5" cy="497.7" r="1.95"/><circle cx="521.9" cy="498.9" r="1.95"/><circle cx="527.6" cy="501.8" r="1.95"/><circle cx="500.3" cy="502.6" r="1.95"/><circle cx="500.6" cy="508.0" r="1.95"/><circle cx="515.3" cy="504.2" r="1.95"/><circle cx="508.0" cy="509.2" r="1.95"/><circle cx="547.5" cy="509.6" r="1.95"/><circle cx="494.9" cy="514.9" r="1.95"/><circle cx="528.4" cy="515.7" r="1.95"/><circle cx="537.7" cy="515.7" r="1.95"/><circle cx="546.1" cy="514.9" r="1.95"/><circle cx="513.7" cy="519.0" r="1.95"/><circle cx="492.9" cy="523.4" r="1.95"/><circle cx="484.7" cy="526.0" r="1.95"/><circle cx="513.7" cy="522.2" r="1.95"/><circle cx="506.0" cy="532.5" r="1.95"/><circle cx="482.3" cy="533.7" r="1.95"/><circle cx="509.6" cy="541.4" r="1.95"/><circle cx="544.4" cy="538.1" r="1.95"/><circle cx="466.8" cy="551.7" r="1.95"/><circle cx="520.2" cy="505.0" r="1.95"/><circle cx="540.1" cy="520.4" r="1.95"/><circle cx="543.7" cy="523.2" r="1.95"/></g>
<g fill="#FF61C3"><circle cx="555.0" cy="482.2" r="1.95"/><circle cx="536.9" cy="498.9" r="1.95"/><circle cx="519.4" cy="501.0" r="1.95"/><circle cx="520.2" cy="503.1" r="1.95"/><circle cx="526.8" cy="500.2" r="1.95"/><circle cx="498.1" cy="505.1" r="1.95"/><circle cx="499.8" cy="505.9" r="1.95"/><circle cx="517.8" cy="504.2" r="1.95"/><circle cx="516.9" cy="506.7" r="1.95"/><circle cx="514.5" cy="507.5" r="1.95"/><circle cx="512.0" cy="508.3" r="1.95"/><circle cx="519.4" cy="506.7" r="1.95"/><circle cx="540.3" cy="505.9" r="1.95"/><circle cx="534.1" cy="509.2" r="1.95"/><circle cx="487.2" cy="513.6" r="1.95"/><circle cx="495.7" cy="513.2" r="1.95"/><circle cx="504.7" cy="514.1" r="1.95"/><circle cx="506.3" cy="513.2" r="1.95"/><circle cx="510.4" cy="512.4" r="1.95"/><circle cx="512.9" cy="510.8" r="1.95"/><circle cx="515.3" cy="510.3" r="1.95"/><circle cx="518.6" cy="512.4" r="1.95"/><circle cx="521.0" cy="511.9" r="1.95"/><circle cx="521.0" cy="514.1" r="1.95"/><circle cx="529.5" cy="514.1" r="1.95"/><circle cx="526.8" cy="516.8" r="1.95"/><circle cx="537.4" cy="513.6" r="1.95"/><circle cx="536.6" cy="517.8" r="1.95"/><circle cx="546.4" cy="513.2" r="1.95"/><circle cx="499.0" cy="516.8" r="1.95"/><circle cx="501.4" cy="517.3" r="1.95"/><circle cx="503.9" cy="516.2" r="1.95"/><circle cx="506.3" cy="515.7" r="1.95"/><circle cx="514.5" cy="517.3" r="1.95"/><circle cx="520.2" cy="517.3" r="1.95"/><circle cx="490.3" cy="519.5" r="1.95"/><circle cx="493.2" cy="521.4" r="1.95"/><circle cx="489.2" cy="522.2" r="1.95"/><circle cx="487.5" cy="523.1" r="1.95"/><circle cx="485.1" cy="523.9" r="1.95"/><circle cx="483.1" cy="524.7" r="1.95"/><circle cx="509.6" cy="521.4" r="1.95"/><circle cx="511.2" cy="522.7" r="1.95"/><circle cx="540.2" cy="522.2" r="1.95"/><circle cx="542.3" cy="523.1" r="1.95"/><circle cx="537.4" cy="525.5" r="1.95"/><circle cx="502.2" cy="526.3" r="1.95"/><circle cx="527.1" cy="529.3" r="1.95"/><circle cx="513.7" cy="537.3" r="1.95"/><circle cx="543.6" cy="539.4" r="1.95"/></g>
</g>
</svg></body></html>
